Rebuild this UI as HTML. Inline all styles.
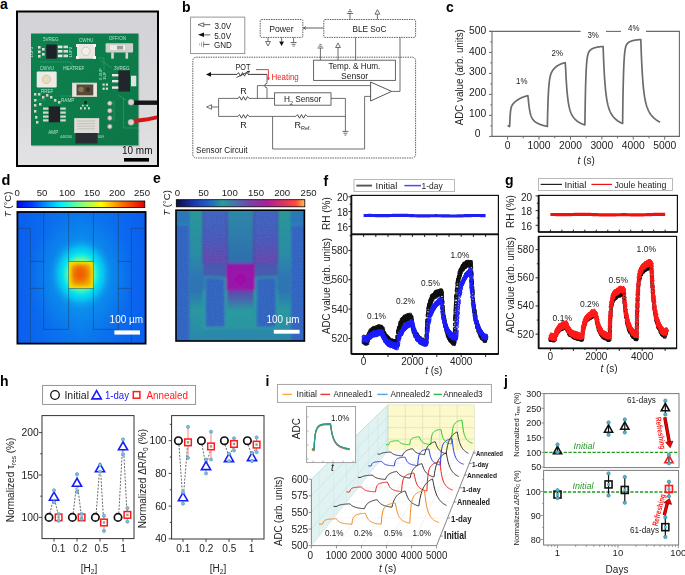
<!DOCTYPE html>
<html><head><meta charset="utf-8"><title>Figure</title>
<style>
html,body{margin:0;padding:0;background:#fff;width:685px;height:575px;overflow:hidden}
svg{display:block;font-family:"Liberation Sans", sans-serif;-webkit-font-smoothing:antialiased}
</style></head><body>
<svg width="685" height="575" viewBox="0 0 685 575">
<rect width="685" height="575" fill="#fff"/>
<text x="0" y="8.6" font-size="14" font-weight="bold">a</text>
<defs><linearGradient id="pbg" x1="0" y1="0" x2="0" y2="1"><stop offset="0" stop-color="#d2d2d7"/><stop offset="0.6" stop-color="#d9d9dc"/><stop offset="1" stop-color="#e3e3e5"/></linearGradient><linearGradient id="pcbg" x1="0" y1="0" x2="1" y2="1"><stop offset="0" stop-color="#108250"/><stop offset="1" stop-color="#0b7646"/></linearGradient></defs>
<rect x="17" y="11.5" width="141" height="154" fill="url(#pbg)" />
<defs><filter id="pblur"><feGaussianBlur stdDeviation="0.45"/></filter></defs><g filter="url(#pblur)">
<rect x="32" y="35" width="108" height="112" fill="#b9bcbc" opacity="0.5"/>
<rect x="31" y="33.5" width="107.5" height="112" fill="url(#pcbg)" />
<path d="M40 62 L70 62 L76 70" fill="none" stroke="#4cc08a" stroke-width="0.6" opacity="0.6"/>
<path d="M100 60 L112 68" fill="none" stroke="#4cc08a" stroke-width="0.6" opacity="0.6"/>
<path d="M60 96 L72 96" fill="none" stroke="#4cc08a" stroke-width="0.6" opacity="0.6"/>
<path d="M123.6 98 L123.6 128 L138 128" fill="none" stroke="#4cc08a" stroke-width="0.6" opacity="0.6"/>
<path d="M118 95 L126 100" fill="none" stroke="#4cc08a" stroke-width="0.6" opacity="0.6"/>
<path d="M36 100 L46 100" fill="none" stroke="#4cc08a" stroke-width="0.6" opacity="0.6"/>
<path d="M98 58 L104 58 L104 70" fill="none" stroke="#4cc08a" stroke-width="0.6" opacity="0.6"/>
<path d="M114 100 L114 121" fill="none" stroke="#4cc08a" stroke-width="0.6" opacity="0.6"/>
<line x1="134" y1="102.7" x2="158" y2="102.7" stroke="#151515" stroke-width="4.4" />
<path d="M134 121 L146 119.5 L158 117.2" fill="none" stroke="#d41818" stroke-width="3.8" />
<rect x="46.2" y="44.5" width="10.6" height="14.2" fill="#1f2226" />
<rect x="57.9" y="45.6" width="4.5" height="2.6" fill="#e6e6e2" />
<rect x="63.5" y="45.6" width="4.5" height="2.6" fill="#d8d8d0" />
<rect x="57.9" y="50" width="4.5" height="2.6" fill="#e6e6e2" />
<rect x="63.5" y="50" width="4.5" height="2.6" fill="#d8d8d0" />
<rect x="57.9" y="54.6" width="4.5" height="2.6" fill="#e6e6e2" />
<rect x="63.5" y="54.6" width="4.5" height="2.6" fill="#d8d8d0" />
<rect x="38" y="46" width="2.6" height="2.6" fill="#dcdcd4" />
<rect x="38" y="50.5" width="2.6" height="2.6" fill="#dcdcd4" />
<rect x="38" y="55" width="2.6" height="2.6" fill="#dcdcd4" />
<rect x="42" y="48" width="2.6" height="2.6" fill="#dcdcd4" />
<rect x="42" y="53" width="2.6" height="2.6" fill="#dcdcd4" />
<rect x="77" y="43.9" width="18" height="14.8" fill="#e8e7e2" rx="1.2"/>
<circle cx="85.8" cy="51.3" r="4.2" fill="#f2efe6" stroke="#c9c2b0" stroke-width="0.8" />
<rect x="76" y="44" width="3" height="3" fill="#f4f4f0" />
<rect x="93" y="44" width="3" height="3" fill="#f4f4f0" />
<rect x="76" y="56" width="3" height="3" fill="#f4f4f0" />
<rect x="93" y="56" width="3" height="3" fill="#f4f4f0" />
<rect x="105.6" y="43.3" width="27.5" height="9.1" fill="#cfcfcb" rx="1"/>
<rect x="110" y="45.2" width="15" height="4.8" fill="#ecece8" />
<rect x="117" y="45.8" width="6" height="3.6" fill="#9a9a96" />
<rect x="111.2" y="52.4" width="2.6" height="6.3" fill="#d6d6d2" />
<rect x="125.5" y="52.4" width="2.6" height="6.3" fill="#d6d6d2" />
<rect x="36.7" y="71.5" width="20" height="15.9" fill="#ecebe6" rx="1.2"/>
<circle cx="46.4" cy="79.4" r="4.2" fill="#e8dcc0" stroke="#cbbf9c" stroke-width="0.8" />
<rect x="72" y="82.7" width="25" height="14.2" fill="#d8d6d0" />
<rect x="75.5" y="84.5" width="18" height="10.8" fill="#5a4a38" />
<circle cx="81" cy="89.5" r="2.8" fill="#8a7456" />
<circle cx="88" cy="89.5" r="2.2" fill="#3a3028" />
<rect x="73.5" y="84" width="3" height="12" fill="#e8e8e4" />
<rect x="93.5" y="84" width="3" height="12" fill="#e8e8e4" />
<rect x="102.5" y="83.5" width="2.2" height="2.2" fill="#dcdcd4" />
<rect x="105.8" y="83.5" width="2.2" height="2.2" fill="#dcdcd4" />
<rect x="102.5" y="87.6" width="2.2" height="2.2" fill="#dcdcd4" />
<rect x="105.8" y="87.6" width="2.2" height="2.2" fill="#dcdcd4" />
<rect x="118.3" y="70.4" width="11.7" height="21.2" fill="#24272b" />
<rect x="131" y="75.7" width="5.3" height="10.6" fill="#e2e2de" />
<rect x="112" y="74" width="6.3" height="2.4" fill="#e6e6e2" />
<rect x="112" y="80" width="6.3" height="2.4" fill="#e6e6e2" />
<rect x="112" y="86.4" width="6.3" height="2.4" fill="#e6e6e2" />
<rect x="48.7" y="106.4" width="11.3" height="15.9" fill="#202326" />
<rect x="43" y="107.5" width="5.5" height="2.2" fill="#d6d6ce" />
<rect x="60.3" y="107.5" width="5.5" height="2.2" fill="#d6d6ce" />
<rect x="43" y="111.5" width="5.5" height="2.2" fill="#d6d6ce" />
<rect x="60.3" y="111.5" width="5.5" height="2.2" fill="#d6d6ce" />
<rect x="43" y="115.5" width="5.5" height="2.2" fill="#d6d6ce" />
<rect x="60.3" y="115.5" width="5.5" height="2.2" fill="#d6d6ce" />
<rect x="43" y="119.3" width="5.5" height="2.2" fill="#d6d6ce" />
<rect x="60.3" y="119.3" width="5.5" height="2.2" fill="#d6d6ce" />
<rect x="34" y="93" width="2.4" height="2.6" fill="#d4d4cc" />
<rect x="38" y="93" width="2.4" height="2.6" fill="#d4d4cc" />
<rect x="42" y="96" width="2.4" height="2.6" fill="#d4d4cc" />
<rect x="46" y="94" width="2.4" height="2.6" fill="#d4d4cc" />
<rect x="50" y="96" width="2.4" height="2.6" fill="#d4d4cc" />
<rect x="34" y="99" width="2.4" height="2.6" fill="#d4d4cc" />
<rect x="34" y="104" width="2.4" height="2.6" fill="#d4d4cc" />
<rect x="34" y="110" width="2.4" height="2.6" fill="#d4d4cc" />
<rect x="35" y="116" width="2.4" height="2.6" fill="#d4d4cc" />
<rect x="36" y="121" width="2.4" height="2.6" fill="#d4d4cc" />
<rect x="39" y="103" width="2.4" height="2.6" fill="#d4d4cc" />
<rect x="54" y="99" width="2.4" height="2.6" fill="#d4d4cc" />
<rect x="58" y="101" width="2.4" height="2.6" fill="#d4d4cc" />
<rect x="84.2" y="101" width="2.8" height="2.8" fill="#222" />
<rect x="80" y="107.2" width="1.8" height="2.2" fill="#dcdcd4" />
<rect x="84" y="107.2" width="1.8" height="2.2" fill="#dcdcd4" />
<rect x="88" y="107.2" width="1.8" height="2.2" fill="#dcdcd4" />
<rect x="82" y="104.8" width="1.6" height="1.6" fill="#dcdcd4" />
<rect x="86.5" y="104.8" width="1.6" height="1.6" fill="#dcdcd4" />
<rect x="74.2" y="118.1" width="25" height="15" fill="#dddcd6" />
<line x1="77" y1="121" x2="95" y2="121" stroke="#b0afa8" stroke-width="0.6" />
<line x1="77" y1="123.6" x2="95" y2="123.6" stroke="#b0afa8" stroke-width="0.6" />
<line x1="77" y1="126.2" x2="95" y2="126.2" stroke="#b0afa8" stroke-width="0.6" />
<line x1="77" y1="128.8" x2="95" y2="128.8" stroke="#b0afa8" stroke-width="0.6" />
<rect x="75.5" y="133" width="22" height="10.5" fill="#2a2d31" />
<circle cx="109.8" cy="103.3" r="2.3" fill="#d8d8d2" stroke="#8a8a84" stroke-width="0.7" />
<circle cx="109.8" cy="110.7" r="2.3" fill="#d8d8d2" stroke="#8a8a84" stroke-width="0.7" />
<circle cx="109.8" cy="118.1" r="2.3" fill="#d8d8d2" stroke="#8a8a84" stroke-width="0.7" />
<circle cx="109.8" cy="126.6" r="2.3" fill="#d8d8d2" stroke="#8a8a84" stroke-width="0.7" />
<circle cx="131" cy="102.2" r="3" fill="#d4d4d0" stroke="#9a9a96" stroke-width="0.6" />
<circle cx="131" cy="122.3" r="3" fill="#d4d4d0" stroke="#9a9a96" stroke-width="0.6" />
<text x="43" y="41.2" font-size="4.6" fill="#bfead6" opacity="0.9">5VREG</text>
<text x="79" y="42" font-size="4.6" fill="#bfead6" opacity="0.9">CWHU</text>
<text x="108.7" y="39.5" font-size="4.6" fill="#bfead6" opacity="0.9">OFF/ON</text>
<text x="39.8" y="70" font-size="4.6" fill="#bfead6" opacity="0.9">CWVU</text>
<text x="63.2" y="70" font-size="4.6" fill="#bfead6" opacity="0.9">HEATREF</text>
<text x="114" y="69.5" font-size="4.6" fill="#bfead6" opacity="0.9">3VREG</text>
<text x="40.9" y="93" font-size="4.6" fill="#bfead6" opacity="0.9">RREF</text>
<text x="61" y="101.5" font-size="4.6" fill="#bfead6" opacity="0.9">RAMP</text>
<text x="48.3" y="133.5" font-size="4.6" fill="#bfead6" opacity="0.9">AMP</text>
<text x="60" y="138" font-size="3.6" fill="#bfead6" opacity="0.9">446260</text>
<text x="98.1" y="138" font-size="3.6" fill="#bfead6" opacity="0.9">609</text>
<text font-size="4.4" fill="#bfead6" transform="translate(71.6 57.5) rotate(-90)">1UF2</text>
<text font-size="4.4" fill="#bfead6" transform="translate(33.4 57.5) rotate(-90)">1UF3</text>
<text font-size="4.4" fill="#bfead6" transform="translate(101.5 80) rotate(-90)">0.1UF</text>
<text font-size="4.4" fill="#bfead6" transform="translate(106 80) rotate(-90)">1UF</text>
</g>
<text x="122" y="153.5" font-size="10" fill="#111" textLength="30.5" lengthAdjust="spacingAndGlyphs">10 mm</text>
<rect x="124" y="158" width="25" height="3.6" fill="#000" />
<rect x="17" y="11.5" width="141" height="154.5" fill="none" stroke="#000" stroke-width="2" />
<text x="182" y="11.8" font-size="14" font-weight="bold">b</text>
<rect x="190.6" y="17.1" width="54.2" height="36.5" fill="none" stroke="#8a8a8a" stroke-width="0.9" />
<path d="M198 24.7 L203.8 22.8 L203.8 26.7 Z" fill="#fff" stroke="#4a4a4a" stroke-width="0.8" />
<line x1="203.8" y1="24.7" x2="210.3" y2="24.7" stroke="#4a4a4a" stroke-width="0.9" />
<path d="M198 34.8 L204 32.6 L204 37 Z" fill="#111" />
<line x1="204" y1="34.8" x2="210.3" y2="34.8" stroke="#999" stroke-width="1.6" />
<line x1="203.6" y1="41.4" x2="203.6" y2="47.4" stroke="#888" stroke-width="0.9" />
<line x1="201.6" y1="42.4" x2="201.6" y2="46.4" stroke="#999" stroke-width="0.9" />
<line x1="199.6" y1="43.4" x2="199.6" y2="45.4" stroke="#aaa" stroke-width="0.9" />
<line x1="203.6" y1="44.4" x2="209.5" y2="44.4" stroke="#4a4a4a" stroke-width="0.9" />
<text x="214.5" y="28.6" font-size="9" fill="#222" textLength="16.8" lengthAdjust="spacingAndGlyphs">3.0V</text>
<text x="214.3" y="38.7" font-size="9" fill="#222" textLength="16.8" lengthAdjust="spacingAndGlyphs">5.0V</text>
<text x="214" y="48.2" font-size="9" fill="#222" textLength="17.8" lengthAdjust="spacingAndGlyphs">GND</text>
<rect x="260.2" y="19.5" width="42.6" height="17.9" fill="none" stroke="#444" stroke-width="0.85" stroke-dasharray="1.5 0.9" rx="1.2"/>
<text x="281.5" y="32" font-size="9.6" text-anchor="middle" fill="#222" textLength="24.5" lengthAdjust="spacingAndGlyphs">Power</text>
<line x1="268" y1="37.4" x2="268" y2="41.5" stroke="#4a4a4a" stroke-width="0.8" />
<path d="M265.6 41.5 L270.4 41.5 L268 46 Z" fill="#fff" stroke="#4a4a4a" stroke-width="0.8" />
<line x1="281.6" y1="37.4" x2="281.6" y2="41.5" stroke="#4a4a4a" stroke-width="0.8" />
<path d="M279.2 41.5 L284 41.5 L281.6 46 Z" fill="#111" />
<line x1="293.6" y1="37.4" x2="293.6" y2="42.5" stroke="#4a4a4a" stroke-width="0.8" />
<line x1="290.6" y1="42.5" x2="296.6" y2="42.5" stroke="#4a4a4a" stroke-width="0.8" />
<line x1="291.6" y1="44.3" x2="295.6" y2="44.3" stroke="#4a4a4a" stroke-width="0.8" />
<line x1="292.6" y1="46.1" x2="294.6" y2="46.1" stroke="#4a4a4a" stroke-width="0.8" />
<line x1="303.5" y1="28" x2="323.6" y2="28" stroke="#4a4a4a" stroke-width="0.9" />
<path d="M303.2 28 L306 26.6 M303.2 28 L306 29.4" fill="none" stroke="#4a4a4a" stroke-width="0.8" />
<rect x="323.8" y="19.5" width="91.8" height="17.9" fill="none" stroke="#444" stroke-width="0.85" stroke-dasharray="1.5 0.9" rx="1.2"/>
<text x="369.4" y="32" font-size="9.6" text-anchor="middle" fill="#222" textLength="34" lengthAdjust="spacingAndGlyphs">BLE SoC</text>
<line x1="350" y1="13.5" x2="350" y2="19.5" stroke="#4a4a4a" stroke-width="0.8" />
<line x1="347" y1="13.5" x2="353" y2="13.5" stroke="#4a4a4a" stroke-width="0.8" />
<line x1="348" y1="11.7" x2="352" y2="11.7" stroke="#4a4a4a" stroke-width="0.8" />
<line x1="349" y1="9.9" x2="351" y2="9.9" stroke="#4a4a4a" stroke-width="0.8" />
<line x1="377.4" y1="14.2" x2="377.4" y2="19.5" stroke="#4a4a4a" stroke-width="0.8" />
<path d="M375 14.2 L379.8 14.2 L377.4 9.7 Z" fill="#fff" stroke="#4a4a4a" stroke-width="0.8" />
<rect x="313.6" y="60.2" width="81.8" height="20.2" fill="none" stroke="#555" stroke-width="0.9" />
<text x="354.4" y="68.6" font-size="9.6" text-anchor="middle" fill="#222" textLength="52" lengthAdjust="spacingAndGlyphs">Temp. &amp; Hum.</text>
<text x="354.6" y="79" font-size="9.6" text-anchor="middle" fill="#222" textLength="27" lengthAdjust="spacingAndGlyphs">Sensor</text>
<line x1="320.4" y1="48" x2="320.4" y2="60.2" stroke="#4a4a4a" stroke-width="0.8" />
<line x1="317.4" y1="48" x2="323.4" y2="48" stroke="#4a4a4a" stroke-width="0.8" />
<line x1="318.4" y1="46.2" x2="322.4" y2="46.2" stroke="#4a4a4a" stroke-width="0.8" />
<line x1="319.4" y1="44.4" x2="321.4" y2="44.4" stroke="#4a4a4a" stroke-width="0.8" />
<line x1="338" y1="47.5" x2="338" y2="60.2" stroke="#4a4a4a" stroke-width="0.8" />
<path d="M335.6 47.5 L340.4 47.5 L338 43 Z" fill="#fff" stroke="#4a4a4a" stroke-width="0.8" />
<line x1="355.6" y1="37.4" x2="355.6" y2="60.2" stroke="#4a4a4a" stroke-width="0.8" />
<line x1="400" y1="37.4" x2="400" y2="91.4" stroke="#4a4a4a" stroke-width="0.8" />
<line x1="391.6" y1="91.4" x2="400" y2="91.4" stroke="#4a4a4a" stroke-width="0.8" />
<rect x="192.8" y="57.2" width="222.8" height="100.8" fill="none" stroke="#444" stroke-width="0.85" stroke-dasharray="1.5 0.9" rx="3.5"/>
<text x="196" y="153.2" font-size="9.6" fill="#222" textLength="51.5" lengthAdjust="spacingAndGlyphs">Sensor Circuit</text>
<path d="M206 74.4 L211 72 L211 76.8 Z" fill="#111" />
<line x1="211" y1="74.4" x2="237" y2="74.4" stroke="#222" stroke-width="0.9" />
<path d="M237 74.4 L238.5 72.6 L240.5 76.2 L242.5 72.6 L244.5 76.2 L246.5 72.6 L248 74.4" fill="none" stroke="#222" stroke-width="0.8" />
<line x1="236.5" y1="77.5" x2="249.5" y2="71.2" stroke="#222" stroke-width="0.8" />
<path d="M249.5 71.2 L246.8 71.6 M249.5 71.2 L248.3 73.5" fill="none" stroke="#222" stroke-width="0.8" />
<line x1="248" y1="74.4" x2="267" y2="74.4" stroke="#222" stroke-width="0.9" />
<text x="243" y="69.6" font-size="9" text-anchor="middle" fill="#222" textLength="15" lengthAdjust="spacingAndGlyphs">POT</text>
<path d="M256 69.6 L268.4 69.6 L268.4 79.5" fill="none" stroke="#e82020" stroke-width="0.9" />
<path d="M267.2 77.5 L268.4 80 L269.6 77.5" fill="none" stroke="#e82020" stroke-width="0.7" />
<text x="271.4" y="79.6" font-size="9" fill="#ee1c1c" textLength="27.4" lengthAdjust="spacingAndGlyphs">Heating</text>
<path d="M267 74.4 L267 83.4 A2.2 2.2 0 0 0 267 87.8 L267 98.4" fill="none" stroke="#4a4a4a" stroke-width="0.8" />
<line x1="257.4" y1="85.6" x2="370.6" y2="85.6" stroke="#4a4a4a" stroke-width="0.8" />
<line x1="257.4" y1="85.6" x2="257.4" y2="98.4" stroke="#4a4a4a" stroke-width="0.8" />
<line x1="218.6" y1="98.4" x2="238" y2="98.4" stroke="#4a4a4a" stroke-width="0.8" />
<path d="M238 98.4 L239.5 96.6 L241.5 100.2 L243.5 96.6 L245.5 100.2 L247.5 96.6 L249 98.4" fill="none" stroke="#222" stroke-width="0.8" />
<line x1="249" y1="98.4" x2="274.4" y2="98.4" stroke="#4a4a4a" stroke-width="0.8" />
<text x="243.6" y="94.4" font-size="9" text-anchor="middle" fill="#222">R</text>
<rect x="274.6" y="92.8" width="56.4" height="12.4" fill="none" stroke="#555" stroke-width="0.9" />
<text x="284" y="102.3" font-size="9.6" fill="#222" textLength="37.3" lengthAdjust="spacingAndGlyphs">H<tspan font-size="6" dy="2.2">2</tspan><tspan dy="-2.2"> Sensor</tspan></text>
<line x1="331" y1="98.4" x2="345.4" y2="98.4" stroke="#4a4a4a" stroke-width="0.8" />
<line x1="345.4" y1="98.4" x2="345.4" y2="131.4" stroke="#4a4a4a" stroke-width="0.8" />
<line x1="342.4" y1="131.4" x2="348.4" y2="131.4" stroke="#4a4a4a" stroke-width="0.8" />
<line x1="343.4" y1="133.2" x2="347.4" y2="133.2" stroke="#4a4a4a" stroke-width="0.8" />
<line x1="344.4" y1="135" x2="346.4" y2="135" stroke="#4a4a4a" stroke-width="0.8" />
<line x1="218.6" y1="98.4" x2="218.6" y2="116.4" stroke="#4a4a4a" stroke-width="0.8" />
<path d="M206.6 107 L211.6 104.7 L211.6 109.3 Z" fill="#fff" stroke="#4a4a4a" stroke-width="0.8" />
<line x1="211.6" y1="107" x2="218.6" y2="107" stroke="#4a4a4a" stroke-width="0.8" />
<line x1="218.6" y1="116.4" x2="238" y2="116.4" stroke="#4a4a4a" stroke-width="0.8" />
<path d="M238 116.4 L239.5 114.6 L241.5 118.2 L243.5 114.6 L245.5 118.2 L247.5 114.6 L249 116.4" fill="none" stroke="#222" stroke-width="0.8" />
<line x1="249" y1="116.4" x2="296" y2="116.4" stroke="#4a4a4a" stroke-width="0.8" />
<path d="M296 116.4 L297.5 114.6 L299.5 118.2 L301.5 114.6 L303.5 118.2 L305.5 114.6 L307 116.4" fill="none" stroke="#222" stroke-width="0.8" />
<line x1="307" y1="116.4" x2="345.4" y2="116.4" stroke="#4a4a4a" stroke-width="0.8" />
<text x="243.6" y="128.2" font-size="9" text-anchor="middle" fill="#222">R</text>
<text x="294.5" y="128.2" font-size="9" fill="#222">R<tspan font-size="5.5" dy="1.8">Ref.</tspan></text>
<path d="M272.6 116.4 L272.6 149 L364.6 149 L364.6 96.4 L370.6 96.4" fill="none" stroke="#4a4a4a" stroke-width="0.8" />
<path d="M370.6 82 L370.6 101 L391.6 91.4 Z" fill="#fff" stroke="#444" stroke-width="0.9" />
<text x="446" y="12" font-size="14" font-weight="bold">c</text>
<line x1="492" y1="31.4" x2="492" y2="136.9" stroke="#6a6a6a" stroke-width="1.1" />
<line x1="491.5" y1="136.4" x2="679.9" y2="136.4" stroke="#6a6a6a" stroke-width="1.1" />
<line x1="679.4" y1="31.4" x2="679.4" y2="136.9" stroke="#6a6a6a" stroke-width="1.1" />
<line x1="489.5" y1="31.4" x2="580.6" y2="31.4" stroke="#6a6a6a" stroke-width="1.1" />
<line x1="606" y1="31.4" x2="621" y2="31.4" stroke="#6a6a6a" stroke-width="1.1" />
<line x1="646" y1="31.4" x2="679.9" y2="31.4" stroke="#6a6a6a" stroke-width="1.1" />
<line x1="489" y1="136.4" x2="492" y2="136.4" stroke="#6a6a6a" stroke-width="1" />
<text x="477.7" y="137.35" font-size="10.3" text-anchor="middle" fill="#222">0</text>
<line x1="490.3" y1="125.9" x2="492" y2="125.9" stroke="#6a6a6a" stroke-width="1" />
<line x1="489" y1="115.4" x2="492" y2="115.4" stroke="#6a6a6a" stroke-width="1" />
<text x="477.7" y="116.7" font-size="10.3" text-anchor="middle" fill="#222">100</text>
<line x1="490.3" y1="104.9" x2="492" y2="104.9" stroke="#6a6a6a" stroke-width="1" />
<line x1="489" y1="94.4" x2="492" y2="94.4" stroke="#6a6a6a" stroke-width="1" />
<text x="477.7" y="96.05" font-size="10.3" text-anchor="middle" fill="#222">200</text>
<line x1="490.3" y1="83.9" x2="492" y2="83.9" stroke="#6a6a6a" stroke-width="1" />
<line x1="489" y1="73.4" x2="492" y2="73.4" stroke="#6a6a6a" stroke-width="1" />
<text x="477.7" y="75.4" font-size="10.3" text-anchor="middle" fill="#222">300</text>
<line x1="490.3" y1="62.9" x2="492" y2="62.9" stroke="#6a6a6a" stroke-width="1" />
<line x1="489" y1="52.4" x2="492" y2="52.4" stroke="#6a6a6a" stroke-width="1" />
<text x="477.7" y="54.75" font-size="10.3" text-anchor="middle" fill="#222">400</text>
<line x1="490.3" y1="41.9" x2="492" y2="41.9" stroke="#6a6a6a" stroke-width="1" />
<line x1="489" y1="31.4" x2="492" y2="31.4" stroke="#6a6a6a" stroke-width="1" />
<text x="477.7" y="34.1" font-size="10.3" text-anchor="middle" fill="#222">500</text>
<line x1="507.6" y1="136.4" x2="507.6" y2="139.6" stroke="#6a6a6a" stroke-width="1" />
<text x="507.6" y="149.2" font-size="10.3" text-anchor="middle" fill="#222">0</text>
<line x1="523.31" y1="136.4" x2="523.31" y2="138.3" stroke="#6a6a6a" stroke-width="1" />
<line x1="539.02" y1="136.4" x2="539.02" y2="139.6" stroke="#6a6a6a" stroke-width="1" />
<text x="539.02" y="149.2" font-size="10.3" text-anchor="middle" fill="#222">1000</text>
<line x1="554.73" y1="136.4" x2="554.73" y2="138.3" stroke="#6a6a6a" stroke-width="1" />
<line x1="570.44" y1="136.4" x2="570.44" y2="139.6" stroke="#6a6a6a" stroke-width="1" />
<text x="570.44" y="149.2" font-size="10.3" text-anchor="middle" fill="#222">2000</text>
<line x1="586.15" y1="136.4" x2="586.15" y2="138.3" stroke="#6a6a6a" stroke-width="1" />
<line x1="601.86" y1="136.4" x2="601.86" y2="139.6" stroke="#6a6a6a" stroke-width="1" />
<text x="601.86" y="149.2" font-size="10.3" text-anchor="middle" fill="#222">3000</text>
<line x1="617.57" y1="136.4" x2="617.57" y2="138.3" stroke="#6a6a6a" stroke-width="1" />
<line x1="633.28" y1="136.4" x2="633.28" y2="139.6" stroke="#6a6a6a" stroke-width="1" />
<text x="633.28" y="149.2" font-size="10.3" text-anchor="middle" fill="#222">4000</text>
<line x1="648.99" y1="136.4" x2="648.99" y2="138.3" stroke="#6a6a6a" stroke-width="1" />
<line x1="664.7" y1="136.4" x2="664.7" y2="139.6" stroke="#6a6a6a" stroke-width="1" />
<text x="664.7" y="149.2" font-size="10.3" text-anchor="middle" fill="#222">5000</text>
<text x="0" y="0" font-size="10" text-anchor="middle" fill="#222" transform="translate(462.6 77.2) rotate(-90)" textLength="96" lengthAdjust="spacingAndGlyphs">ADC value (arb. units)</text>
<text x="577.6" y="164" font-size="10" fill="#222"><tspan font-style="italic">t</tspan> (s)</text>
<text x="516" y="84" font-size="9.5" fill="#222" textLength="11.4" lengthAdjust="spacingAndGlyphs">1%</text>
<text x="551.6" y="56" font-size="9.5" fill="#222" textLength="11.4" lengthAdjust="spacingAndGlyphs">2%</text>
<text x="587.4" y="38.2" font-size="9.5" fill="#222" textLength="11.4" lengthAdjust="spacingAndGlyphs">3%</text>
<text x="628" y="30.6" font-size="9.5" fill="#222" textLength="11.4" lengthAdjust="spacingAndGlyphs">4%</text>
<path d="M507.6 125.48 L508.54 125.9 L509.33 126.53 L509.64 126.32 L509.96 118.75 L510.27 113.98 L510.58 110.92 L510.9 108.9 L511.21 107.52 L511.53 106.53 L511.84 105.78 L512.16 105.18 L512.47 104.68 L512.78 104.25 L513.1 103.85 L513.41 103.49 L513.73 103.15 L514.04 102.82 L514.36 102.51 L514.67 102.22 L514.98 101.93 L515.3 101.65 L515.61 101.39 L515.93 101.13 L516.24 100.88 L516.55 100.64 L516.87 100.41 L517.18 100.19 L517.5 99.97 L517.81 99.76 L518.13 99.56 L518.44 99.36 L518.75 99.17 L519.07 98.99 L519.38 98.81 L519.7 98.64 L520.01 98.47 L520.33 98.31 L520.64 98.15 L520.95 98 L521.27 97.86 L521.58 97.72 L521.9 97.58 L522.21 97.45 L522.52 97.32 L522.84 97.2 L523.15 97.08 L523.47 96.96 L523.78 96.85 L524.1 96.74 L524.41 96.64 L524.72 96.54 L525.04 96.44 L525.35 96.35 L525.67 96.26 L525.98 96.17 L526.29 96.08 L526.61 96 L526.92 95.92 L527.24 95.84 L527.55 95.77 L527.87 95.7 L528.34 99.6 L528.65 102.9 L528.97 105.65 L529.28 107.97 L529.59 109.92 L529.91 111.58 L530.22 112.99 L530.54 114.19 L530.85 115.23 L531.16 116.12 L531.48 116.9 L531.79 117.59 L532.11 118.19 L532.42 118.73 L532.74 119.21 L533.05 119.64 L533.36 120.03 L533.68 120.39 L533.99 120.72 L534.31 121.02 L534.62 121.31 L534.94 121.57 L535.25 121.82 L535.56 122.05 L535.88 122.27 L536.19 122.48 L536.51 122.67 L536.82 122.86 L537.13 123.04 L537.45 123.22 L537.76 123.38 L538.08 123.54 L538.39 123.69 L538.71 123.84 L539.02 123.98 L539.33 124.11 L539.65 124.24 L539.96 124.37 L540.28 124.49 L540.59 124.61 L540.91 124.72 L541.22 124.83 L541.53 124.93 L541.85 125.04 L542.16 125.13 L542.48 125.23 L542.79 125.32 L543.1 125.41 L543.42 125.5 L543.73 125.58 L544.05 125.66 L544.36 125.74 L544.68 125.81 L544.99 125.89 L545.3 125.96 L545.62 126.02 L545.93 126.09 L546.25 126.15 L546.56 126.21 L546.88 126.27 L547.35 126.53 L547.66 112.71 L547.97 102.6 L548.29 95.15 L548.6 89.63 L548.92 85.49 L549.23 82.35 L549.55 79.93 L549.86 78.04 L550.17 76.54 L550.49 75.31 L550.8 74.3 L551.12 73.44 L551.43 72.7 L551.75 72.05 L552.06 71.47 L552.37 70.94 L552.69 70.46 L553 70.01 L553.32 69.59 L553.63 69.2 L553.94 68.84 L554.26 68.49 L554.57 68.16 L554.89 67.85 L555.2 67.55 L555.52 67.27 L555.83 67 L556.14 66.74 L556.46 66.5 L556.77 66.27 L557.09 66.04 L557.4 65.83 L557.71 65.63 L558.03 65.43 L558.34 65.25 L558.66 65.07 L558.97 64.9 L559.29 64.74 L559.6 64.58 L559.91 64.43 L560.23 64.29 L560.54 64.16 L560.86 64.03 L561.17 63.91 L561.49 63.79 L561.8 63.68 L562.11 63.57 L562.43 63.46 L562.74 63.37 L563.06 63.27 L563.37 63.18 L563.68 63.1 L564 63.02 L564.31 62.94 L564.63 62.86 L564.94 62.79 L565.26 62.72 L565.73 70.25 L566.04 76.67 L566.36 82.13 L566.67 86.79 L566.98 90.77 L567.3 94.2 L567.61 97.14 L567.93 99.69 L568.24 101.91 L568.55 103.84 L568.87 105.53 L569.18 107.02 L569.5 108.34 L569.81 109.52 L570.13 110.57 L570.44 111.51 L570.75 112.36 L571.07 113.14 L571.38 113.85 L571.7 114.5 L572.01 115.1 L572.33 115.66 L572.64 116.17 L572.95 116.66 L573.27 117.11 L573.58 117.54 L573.9 117.94 L574.21 118.32 L574.52 118.68 L574.84 119.02 L575.15 119.34 L575.47 119.65 L575.78 119.95 L576.1 120.23 L576.41 120.5 L576.72 120.76 L577.04 121.01 L577.35 121.25 L577.67 121.48 L577.98 121.7 L578.3 121.91 L578.61 122.12 L578.92 122.31 L579.24 122.5 L579.55 122.69 L579.87 122.86 L580.18 123.03 L580.49 123.19 L580.81 123.35 L581.12 123.5 L581.44 123.65 L581.75 123.79 L582.07 123.92 L582.38 124.05 L582.69 124.18 L583.01 124.3 L583.32 124.42 L583.64 124.53 L583.95 124.64 L584.26 124.75 L584.58 124.85 L584.89 124.85 L585.21 103.88 L585.52 89.04 L585.84 78.51 L586.15 71 L586.46 65.62 L586.78 61.72 L587.09 58.88 L587.41 56.79 L587.72 55.22 L588.04 54.02 L588.35 53.09 L588.66 52.36 L588.98 51.76 L589.29 51.27 L589.61 50.86 L589.92 50.5 L590.23 50.19 L590.55 49.91 L590.86 49.66 L591.18 49.43 L591.49 49.23 L591.81 49.04 L592.12 48.86 L592.43 48.7 L592.75 48.54 L593.06 48.4 L593.38 48.27 L593.69 48.14 L594 48.03 L594.32 47.92 L594.63 47.81 L594.95 47.72 L595.26 47.63 L595.58 47.54 L595.89 47.46 L596.2 47.39 L596.52 47.32 L596.83 47.25 L597.15 47.19 L597.46 47.13 L597.78 47.08 L598.09 47.02 L598.4 46.98 L598.72 46.93 L599.03 46.89 L599.35 46.85 L599.66 46.81 L599.97 46.77 L600.29 46.74 L600.6 46.71 L600.92 46.68 L601.23 46.65 L601.55 46.63 L601.86 46.6 L602.17 46.58 L602.49 46.56 L602.8 46.54 L603.12 46.52 L603.43 55.23 L603.75 62.72 L604.06 69.18 L604.37 74.76 L604.69 79.59 L605 83.79 L605.32 87.45 L605.63 90.64 L605.94 93.45 L606.26 95.91 L606.57 98.09 L606.89 100.02 L607.2 101.73 L607.52 103.27 L607.83 104.65 L608.14 105.89 L608.46 107.02 L608.77 108.04 L609.09 108.98 L609.4 109.84 L609.72 110.63 L610.03 111.36 L610.34 112.04 L610.66 112.68 L610.97 113.27 L611.29 113.83 L611.6 114.35 L611.91 114.85 L612.23 115.32 L612.54 115.76 L612.86 116.18 L613.17 116.59 L613.49 116.97 L613.8 117.34 L614.11 117.69 L614.43 118.02 L614.74 118.35 L615.06 118.66 L615.37 118.95 L615.68 119.24 L616 119.51 L616.31 119.78 L616.63 120.04 L616.94 120.28 L617.26 120.52 L617.57 120.75 L617.88 120.97 L618.2 121.18 L618.51 121.39 L618.83 121.59 L619.14 121.78 L619.46 121.97 L619.77 122.15 L620.08 122.32 L620.4 122.49 L620.71 122.65 L621.03 122.8 L621.34 122.96 L621.65 123.1 L621.97 123.24 L622.28 123.38 L622.6 123.38 L622.91 100.55 L623.23 84.44 L623.54 73.02 L623.85 64.9 L624.17 59.1 L624.48 54.93 L624.8 51.91 L625.11 49.69 L625.42 48.04 L625.74 46.8 L626.05 45.85 L626.37 45.1 L626.68 44.51 L627 44.02 L627.31 43.62 L627.62 43.28 L627.94 42.98 L628.25 42.72 L628.57 42.48 L628.88 42.27 L629.2 42.08 L629.51 41.9 L629.82 41.74 L630.14 41.59 L630.45 41.45 L630.77 41.31 L631.08 41.19 L631.39 41.08 L631.71 40.97 L632.02 40.87 L632.34 40.78 L632.65 40.69 L632.97 40.6 L633.28 40.53 L633.59 40.45 L633.91 40.38 L634.22 40.32 L634.54 40.26 L634.85 40.2 L635.17 40.15 L635.48 40.1 L635.79 40.05 L636.11 40.01 L636.42 39.97 L636.74 39.93 L637.05 39.89 L637.36 39.86 L637.68 39.82 L637.99 39.79 L638.31 39.76 L638.62 39.74 L638.94 39.71 L639.25 39.69 L639.56 39.67 L639.88 39.65 L640.19 39.63 L640.51 39.61 L640.82 39.59 L641.13 48.94 L641.45 56.98 L641.76 63.9 L642.08 69.88 L642.39 75.06 L642.71 79.55 L643.02 83.47 L643.33 86.88 L643.65 89.87 L643.96 92.5 L644.28 94.82 L644.59 96.88 L644.91 98.71 L645.22 100.34 L645.53 101.81 L645.85 103.13 L646.16 104.33 L646.48 105.42 L646.79 106.42 L647.1 107.34 L647.42 108.18 L647.73 108.96 L648.05 109.69 L648.36 110.37 L648.68 111 L648.99 111.6 L649.3 112.16 L649.62 112.7 L649.93 113.2 L650.25 113.68 L650.56 114.14 L650.88 114.57 L651.19 114.99 L651.5 115.39 L651.82 115.77 L652.13 116.14 L652.45 116.49 L652.76 116.83 L653.07 117.16 L653.39 117.47 L653.7 117.77 L654.02 118.07 L654.33 118.35 L654.65 118.62 L654.96 118.89 L655.27 119.14 L655.59 119.39 L655.9 119.63 L656.22 119.86 L656.53 120.08 L656.85 120.3 L657.16 120.51 L657.47 120.71 L657.79 120.91 L658.1 121.1 L658.42 121.28 L658.73 121.46 L659.04 121.63 L659.36 121.8 L659.67 121.96 L659.99 122.12" fill="none" stroke="#6b6b6b" stroke-width="1.7" stroke-linejoin="round"/>
<text x="1.4" y="184.6" font-size="14.5" font-weight="bold">d</text>
<defs>
<linearGradient id="jet" x1="0" x2="1" y1="0" y2="0">
<stop offset="0" stop-color="#0008e0"/><stop offset="0.12" stop-color="#0040ff"/><stop offset="0.34" stop-color="#00eeff"/>
<stop offset="0.5" stop-color="#80ff80"/><stop offset="0.66" stop-color="#ffff00"/><stop offset="0.82" stop-color="#ff7000"/><stop offset="1" stop-color="#e00000"/></linearGradient>
<linearGradient id="dbg" x1="0" x2="1" y1="0" y2="0">
<stop offset="0" stop-color="#0a5ef0"/><stop offset="0.3" stop-color="#0a7cec"/><stop offset="0.5" stop-color="#0a8cea"/><stop offset="0.7" stop-color="#0a7cec"/><stop offset="1" stop-color="#0a5ef0"/></linearGradient>
<linearGradient id="dbgv" x1="0" x2="0" y1="0" y2="1">
<stop offset="0" stop-color="#0a5ef0" stop-opacity="0.45"/><stop offset="0.5" stop-color="#0a5ef0" stop-opacity="0"/><stop offset="1" stop-color="#0a5ef0" stop-opacity="0.45"/></linearGradient>
<radialGradient id="dglow" cx="0.5" cy="0.5" r="0.5">
<stop offset="0" stop-color="#a0ff60"/><stop offset="0.4" stop-color="#70fa90"/><stop offset="0.47" stop-color="#40f2c0"/><stop offset="0.58" stop-color="#04e2ee"/><stop offset="0.74" stop-color="#08c2f0" stop-opacity="0.9"/><stop offset="0.88" stop-color="#0aa4ec" stop-opacity="0.5"/><stop offset="1" stop-color="#0a98ea" stop-opacity="0"/></radialGradient>
<radialGradient id="dglow2" cx="0.5" cy="0.5" r="0.5"><stop offset="0" stop-color="#10b0f0" stop-opacity="0.9"/><stop offset="0.5" stop-color="#0c9cee" stop-opacity="0.55"/><stop offset="1" stop-color="#0a8cec" stop-opacity="0"/></radialGradient>
<radialGradient id="dhot" cx="0.45" cy="0.45" r="0.55">
<stop offset="0" stop-color="#f05400"/><stop offset="0.5" stop-color="#f06c00"/><stop offset="0.8" stop-color="#f09000"/><stop offset="1" stop-color="#f0a800"/></radialGradient>
<filter id="dhb" x="-20%" y="-20%" width="140%" height="140%"><feGaussianBlur stdDeviation="1.6"/></filter>
</defs>
<rect x="17" y="201" width="127.8" height="6.6" fill="url(#jet)" stroke="#000" stroke-width="0.8" />
<text x="17.1" y="196" font-size="9.6" text-anchor="middle" fill="#222">0</text>
<text x="42" y="196" font-size="9.6" text-anchor="middle" fill="#222">50</text>
<text x="67.1" y="196" font-size="9.6" text-anchor="middle" fill="#222">100</text>
<text x="92" y="196" font-size="9.6" text-anchor="middle" fill="#222">150</text>
<text x="117.1" y="196" font-size="9.6" text-anchor="middle" fill="#222">200</text>
<text x="142" y="196" font-size="9.6" text-anchor="middle" fill="#222">250</text>
<text font-size="9.6" fill="#222" transform="translate(11.2 204.4) rotate(-90)" text-anchor="middle"><tspan font-style="italic">T</tspan> (°C)</text>
<rect x="17.4" y="212" width="128.2" height="131.6" fill="url(#dbg)" />
<rect x="17.4" y="212" width="128.2" height="131.6" fill="url(#dbgv)" />
<ellipse cx="81" cy="276" rx="52" ry="62" fill="url(#dglow2)"/><ellipse cx="81" cy="274" rx="31" ry="36" fill="url(#dglow)"/>
<rect x="68.6" y="261.5" width="25" height="27" fill="#f0e000" />
<rect x="71.2" y="264" width="19.8" height="22" fill="url(#dhot)" rx="4" filter="url(#dhb)"/>
<path d="M30.4 228.4 V343.6" fill="none" stroke="#1b3f66" stroke-width="0.6" opacity="0.85"/>
<path d="M43.6 212 V329.4 H68.6 V212" fill="none" stroke="#1b3f66" stroke-width="0.6" opacity="0.85"/>
<path d="M93.4 212 V329.4 H118.4 V212" fill="none" stroke="#1b3f66" stroke-width="0.6" opacity="0.85"/>
<path d="M131.4 228.4 V343.6" fill="none" stroke="#1b3f66" stroke-width="0.6" opacity="0.85"/>
<path d="M17.4 228.4 H30.4" fill="none" stroke="#1b3f66" stroke-width="0.6" opacity="0.85"/>
<path d="M131.4 228.4 H145.6" fill="none" stroke="#1b3f66" stroke-width="0.6" opacity="0.85"/>
<path d="M30.4 261.4 H43.6" fill="none" stroke="#1b3f66" stroke-width="0.6" opacity="0.85"/>
<path d="M118.4 261.4 H131.4" fill="none" stroke="#1b3f66" stroke-width="0.6" opacity="0.85"/>
<path d="M30.4 288.4 H43.6" fill="none" stroke="#1b3f66" stroke-width="0.6" opacity="0.85"/>
<path d="M118.4 288.4 H131.4" fill="none" stroke="#1b3f66" stroke-width="0.6" opacity="0.85"/>
<path d="M68.6 261.5 H93.4 M68.6 288.5 H93.4" fill="none" stroke="#1b3f66" stroke-width="0.6" opacity="0.85"/>
<text x="109.6" y="323" font-size="10" fill="#fff" textLength="33.4" lengthAdjust="spacingAndGlyphs">100 µm</text>
<rect x="114.4" y="330.4" width="25.6" height="4.2" fill="#fff" />
<rect x="17.4" y="212" width="128.2" height="131.6" fill="none" stroke="#000" stroke-width="1.8" />
<text x="153" y="183" font-size="14" font-weight="bold">e</text>
<defs>
<linearGradient id="ecm" x1="0" x2="1" y1="0" y2="0">
<stop offset="0" stop-color="#0c0c44"/><stop offset="0.14" stop-color="#1a3ab0"/><stop offset="0.25" stop-color="#2060c8"/><stop offset="0.36" stop-color="#2a9a98"/>
<stop offset="0.46" stop-color="#4a70b0"/><stop offset="0.58" stop-color="#7a40a8"/><stop offset="0.7" stop-color="#a8209a"/><stop offset="0.82" stop-color="#d8306a"/>
<stop offset="0.93" stop-color="#ff4a3a"/><stop offset="1" stop-color="#ffc050"/></linearGradient>
<linearGradient id="eteal" x1="0" x2="0" y1="0" y2="1"><stop offset="0" stop-color="#2a9496"/><stop offset="0.4" stop-color="#2c84a4"/><stop offset="0.75" stop-color="#2a8ea0"/><stop offset="1" stop-color="#2a78b0"/></linearGradient>
<linearGradient id="eteal2" x1="0" x2="0" y1="0" y2="1"><stop offset="0" stop-color="#2c8ea2"/><stop offset="0.6" stop-color="#2a9c98"/><stop offset="1" stop-color="#2a78b0"/></linearGradient>
<linearGradient id="ecen" x1="0" x2="0" y1="0" y2="1"><stop offset="0" stop-color="#2c80a6"/><stop offset="1" stop-color="#3a64aa"/></linearGradient>
<linearGradient id="epur" x1="0" x2="0" y1="0" y2="1"><stop offset="0" stop-color="#3868bc"/><stop offset="0.55" stop-color="#4460b6"/><stop offset="0.85" stop-color="#5a4eae"/><stop offset="1" stop-color="#6a42a8"/></linearGradient>
<radialGradient id="emag" cx="0.5" cy="0.55" r="0.7"><stop offset="0" stop-color="#9c08a6"/><stop offset="0.7" stop-color="#9410a6"/><stop offset="1" stop-color="#7a2aa6"/></radialGradient>
<filter id="spk" x="0" y="0" width="1" height="1"><feTurbulence type="fractalNoise" baseFrequency="0.9" numOctaves="1" seed="3"/><feColorMatrix values="0 0 0 0 0.3  0 0 0 0 0.35  0 0 0 0 0.75  0 0 0 1.2 -0.45"/><feComposite in2="SourceGraphic" operator="in"/></filter>
</defs>
<rect x="176.3" y="199.7" width="128.5" height="7.1" fill="url(#ecm)" stroke="#000" stroke-width="0.8" />
<text x="177.5" y="195.6" font-size="9.6" text-anchor="middle" fill="#222">0</text>
<text x="203.6" y="195.6" font-size="9.6" text-anchor="middle" fill="#222">50</text>
<text x="229.8" y="195.6" font-size="9.6" text-anchor="middle" fill="#222">100</text>
<text x="256" y="195.6" font-size="9.6" text-anchor="middle" fill="#222">150</text>
<text x="282.2" y="195.6" font-size="9.6" text-anchor="middle" fill="#222">200</text>
<text x="308.6" y="195.6" font-size="9.6" text-anchor="middle" fill="#222">250</text>
<text font-size="9.6" fill="#222" transform="translate(170.2 203) rotate(-90)" text-anchor="middle"><tspan font-style="italic">T</tspan> (°C)</text>
<defs><clipPath id="eclip"><rect x="176" y="210.2" width="128.4" height="130.8"/></clipPath><filter id="eblur" x="-5%" y="-5%" width="110%" height="110%"><feGaussianBlur stdDeviation="1.0"/></filter></defs>
<g clip-path="url(#eclip)"><g filter="url(#eblur)">
<defs>
<linearGradient id="egap" x1="0" x2="0" y1="0" y2="1"><stop offset="0" stop-color="#2a9898"/><stop offset="0.35" stop-color="#2c8ca6"/><stop offset="0.5" stop-color="#2e76b4"/><stop offset="0.62" stop-color="#2e76b2"/><stop offset="0.75" stop-color="#2a98a0"/><stop offset="1" stop-color="#2a86aa"/></linearGradient>
<linearGradient id="es2" x1="0" x2="0" y1="0" y2="1"><stop offset="0" stop-color="#3a64c0"/><stop offset="0.55" stop-color="#4658b8"/><stop offset="1" stop-color="#6644ac"/></linearGradient>
<linearGradient id="ectop" x1="0" x2="0" y1="0" y2="1"><stop offset="0" stop-color="#2c8aa8"/><stop offset="1" stop-color="#306eae"/></linearGradient>
<linearGradient id="eband" x1="0" x2="0" y1="0" y2="1"><stop offset="0" stop-color="#4c56b0"/><stop offset="1" stop-color="#3a68b0"/></linearGradient>
<linearGradient id="ebel" x1="0" x2="0" y1="0" y2="1"><stop offset="0" stop-color="#6a40aa"/><stop offset="0.15" stop-color="#4a62b0"/><stop offset="0.38" stop-color="#2a9aa0"/><stop offset="1" stop-color="#2a92a2"/></linearGradient>
<radialGradient id="emag2" cx="0.5" cy="0.6" r="0.75"><stop offset="0" stop-color="#9e10a8"/><stop offset="1" stop-color="#9216a8"/></radialGradient>
</defs>
<rect x="173" y="207.2" width="134.4" height="136.8" fill="#2c70b4" />
<rect x="173" y="207" width="17" height="17.5" fill="#2a78b8" />
<rect x="173" y="224.5" width="17" height="120" fill="#2e64c0" />
<rect x="290.4" y="207" width="17" height="17.5" fill="#2a78b8" />
<rect x="290.4" y="224.5" width="17" height="120" fill="#2e64c0" />
<path d="M176 224.5 H190 V341" fill="none" stroke="#2a92a6" stroke-width="1.1" />
<path d="M304.4 224.5 H290.4 V341" fill="none" stroke="#2a92a6" stroke-width="1.1" />
<rect x="190" y="207" width="13" height="137" fill="url(#egap)" />
<rect x="277.6" y="207" width="12.8" height="137" fill="url(#egap)" />
<rect x="203" y="207" width="24" height="56.2" fill="url(#es2)" />
<rect x="253.8" y="207" width="24" height="56.2" fill="url(#es2)" />
<rect x="227" y="207" width="26.8" height="56.2" fill="url(#ectop)" />
<rect x="203" y="263.2" width="24" height="27" fill="url(#eband)" />
<rect x="253.8" y="263.2" width="24" height="27" fill="url(#eband)" />
<rect x="227" y="290.2" width="26.8" height="54" fill="url(#ebel)" />
<rect x="203" y="290.2" width="24" height="54" fill="#2a9c9a" />
<rect x="253.8" y="290.2" width="24" height="54" fill="#2a9c9a" />
<path d="M204.8 277 L225.2 278 L225.6 327.6 L204.8 327.6 Z" fill="#2f64be" stroke="#2aa6a0" stroke-width="1.4" stroke-opacity="0.8"/>
<path d="M276.6 277 L256.2 278 L255.8 327.6 L276.6 327.6 Z" fill="#2f64be" stroke="#2aa6a0" stroke-width="1.4" stroke-opacity="0.8"/>
<rect x="203" y="329" width="75" height="12" fill="#2a84ac" opacity="0.8"/>
<rect x="226.4" y="263.4" width="28.5" height="26.8" fill="url(#emag2)" />
<line x1="203" y1="207" x2="203" y2="263.2" stroke="#4a30a4" stroke-width="1.1" opacity="0.85"/>
<line x1="227" y1="207" x2="227" y2="263.2" stroke="#4a30a4" stroke-width="1.1" opacity="0.85"/>
<line x1="253.8" y1="207" x2="253.8" y2="263.2" stroke="#4a30a4" stroke-width="1.1" opacity="0.85"/>
<line x1="277.6" y1="207" x2="277.6" y2="263.2" stroke="#4a30a4" stroke-width="1.1" opacity="0.85"/>
</g>
<rect x="176" y="224.5" width="14" height="117" fill="#fff" filter="url(#spk)" opacity="0.35"/>
<rect x="203" y="207" width="24" height="56" fill="#fff" filter="url(#spk)" opacity="0.35"/>
<rect x="253.8" y="207" width="24" height="56" fill="#fff" filter="url(#spk)" opacity="0.35"/>
<rect x="290.4" y="224.5" width="14" height="117" fill="#fff" filter="url(#spk)" opacity="0.35"/>
<rect x="206" y="279" width="19" height="48" fill="#fff" filter="url(#spk)" opacity="0.35"/>
<rect x="257" y="279" width="19" height="48" fill="#fff" filter="url(#spk)" opacity="0.35"/>
</g>
<text x="266.5" y="322.8" font-size="10" fill="#fff" textLength="33" lengthAdjust="spacingAndGlyphs">100 µm</text>
<rect x="273.8" y="329.8" width="25.8" height="3.9" fill="#fff" />
<rect x="176" y="210.2" width="128.4" height="130.8" fill="none" stroke="#000" stroke-width="1.6" />
<text x="323.6" y="186" font-size="14" font-weight="bold">f</text>
<rect x="354" y="179.6" width="100.4" height="12" fill="#fff" stroke="#a8a8a8" stroke-width="0.8" />
<line x1="356.4" y1="185.6" x2="372" y2="185.6" stroke="#555" stroke-width="1.9" />
<text x="375.6" y="189.2" font-size="9.5" fill="#222" textLength="21.8" lengthAdjust="spacingAndGlyphs">Initial</text>
<line x1="404.4" y1="185.6" x2="421" y2="185.6" stroke="#4a4aff" stroke-width="1.5" />
<text x="421.6" y="189.2" font-size="9.5" fill="#222" textLength="21" lengthAdjust="spacingAndGlyphs">1-day</text>
<path d="M363.6 215.55 L364.82 215.52 L366.04 215.49 L367.26 215.48 L368.48 215.47 L369.7 215.46 L370.92 215.47 L372.14 215.48 L373.36 215.49 L374.58 215.51 L375.8 215.53 L377.02 215.55 L378.24 215.57 L379.46 215.59 L380.68 215.6 L381.9 215.61 L383.12 215.61 L384.34 215.61 L385.56 215.6 L386.78 215.59 L388 215.57 L389.22 215.55 L390.44 215.52 L391.66 215.49 L392.88 215.46 L394.1 215.43 L395.32 215.4 L396.54 215.38 L397.76 215.36 L398.98 215.35 L400.2 215.34 L401.42 215.35 L402.64 215.36 L403.86 215.37 L405.08 215.4 L406.3 215.43 L407.52 215.47 L408.74 215.51 L409.96 215.55 L411.18 215.6 L412.4 215.65 L413.62 215.69 L414.84 215.73 L416.06 215.77 L417.28 215.8 L418.5 215.83 L419.72 215.85 L420.94 215.86 L422.16 215.87 L423.38 215.87 L424.6 215.86 L425.82 215.84 L427.04 215.83 L428.26 215.81 L429.48 215.79 L430.7 215.77 L431.92 215.75 L433.14 215.74 L434.36 215.73 L435.58 215.72 L436.8 215.72 L438.02 215.73 L439.24 215.74 L440.46 215.76 L441.68 215.78 L442.9 215.81 L444.12 215.84 L445.34 215.87 L446.56 215.9 L447.78 215.93 L449 215.96 L450.22 215.98 L451.44 215.99 L452.66 216 L453.88 216 L455.1 216 L456.32 215.98 L457.54 215.96 L458.76 215.93 L459.98 215.9 L461.2 215.86 L462.42 215.81 L463.64 215.77 L464.86 215.72 L466.08 215.67 L467.3 215.63 L468.52 215.59 L469.74 215.56 L470.96 215.53 L472.18 215.51 L473.4 215.49 L474.62 215.48 L475.84 215.48 L477.06 215.49 L478.28 215.5 L479.5 215.51 L480.72 215.53 L481.94 215.55 L483.16 215.57 L484.38 215.59 L485.6 215.6" fill="none" stroke="#2020f0" stroke-width="3.2" />
<rect x="351.4" y="195.4" width="147" height="39" fill="none" stroke="#111" stroke-width="1.2" />
<rect x="351.4" y="234.4" width="147" height="119.6" fill="none" stroke="#111" stroke-width="1.2" />
<line x1="351.4" y1="195.4" x2="351.4" y2="354" stroke="#111" stroke-width="1.8" />
<line x1="351.4" y1="234.4" x2="498.4" y2="234.4" stroke="#111" stroke-width="1.8" />
<line x1="351.4" y1="354" x2="498.4" y2="354" stroke="#111" stroke-width="1.8" />
<line x1="348.4" y1="196.8" x2="351.4" y2="196.8" stroke="#111" stroke-width="0.9" />
<text x="348.2" y="201.4" font-size="10" text-anchor="end" fill="#222">20</text>
<line x1="349.6" y1="204.2" x2="351.4" y2="204.2" stroke="#111" stroke-width="0.9" />
<line x1="348.4" y1="211.6" x2="351.4" y2="211.6" stroke="#111" stroke-width="0.9" />
<text x="348.2" y="216.2" font-size="10" text-anchor="end" fill="#222">18</text>
<line x1="349.6" y1="219" x2="351.4" y2="219" stroke="#111" stroke-width="0.9" />
<line x1="348.4" y1="226.4" x2="351.4" y2="226.4" stroke="#111" stroke-width="0.9" />
<text x="348.2" y="231" font-size="10" text-anchor="end" fill="#222">16</text>
<line x1="348.4" y1="338.48" x2="351.4" y2="338.48" stroke="#111" stroke-width="0.9" />
<text x="348.2" y="341.98" font-size="10" text-anchor="end" fill="#222">520</text>
<line x1="349.6" y1="323.8" x2="351.4" y2="323.8" stroke="#111" stroke-width="0.9" />
<line x1="348.4" y1="309.12" x2="351.4" y2="309.12" stroke="#111" stroke-width="0.9" />
<text x="348.2" y="312.62" font-size="10" text-anchor="end" fill="#222">540</text>
<line x1="349.6" y1="294.44" x2="351.4" y2="294.44" stroke="#111" stroke-width="0.9" />
<line x1="348.4" y1="279.76" x2="351.4" y2="279.76" stroke="#111" stroke-width="0.9" />
<text x="348.2" y="283.26" font-size="10" text-anchor="end" fill="#222">560</text>
<line x1="349.6" y1="265.08" x2="351.4" y2="265.08" stroke="#111" stroke-width="0.9" />
<line x1="348.4" y1="250.4" x2="351.4" y2="250.4" stroke="#111" stroke-width="0.9" />
<text x="348.2" y="253.9" font-size="10" text-anchor="end" fill="#222">580</text>
<line x1="349.6" y1="235.72" x2="351.4" y2="235.72" stroke="#111" stroke-width="0.9" />
<line x1="363.6" y1="234.4" x2="363.6" y2="237" stroke="#111" stroke-width="0.9" />
<line x1="363.6" y1="354" x2="363.6" y2="357" stroke="#111" stroke-width="0.9" />
<text x="363.6" y="365.4" font-size="10" text-anchor="middle" fill="#222">0</text>
<line x1="375.8" y1="234.4" x2="375.8" y2="237" stroke="#111" stroke-width="0.9" />
<line x1="388" y1="234.4" x2="388" y2="237" stroke="#111" stroke-width="0.9" />
<line x1="388" y1="354" x2="388" y2="357" stroke="#111" stroke-width="0.9" />
<line x1="400.2" y1="234.4" x2="400.2" y2="237" stroke="#111" stroke-width="0.9" />
<line x1="412.4" y1="234.4" x2="412.4" y2="237" stroke="#111" stroke-width="0.9" />
<line x1="412.4" y1="354" x2="412.4" y2="357" stroke="#111" stroke-width="0.9" />
<text x="412.4" y="365.4" font-size="10" text-anchor="middle" fill="#222">2000</text>
<line x1="424.6" y1="234.4" x2="424.6" y2="237" stroke="#111" stroke-width="0.9" />
<line x1="436.8" y1="234.4" x2="436.8" y2="237" stroke="#111" stroke-width="0.9" />
<line x1="436.8" y1="354" x2="436.8" y2="357" stroke="#111" stroke-width="0.9" />
<line x1="449" y1="234.4" x2="449" y2="237" stroke="#111" stroke-width="0.9" />
<line x1="461.2" y1="234.4" x2="461.2" y2="237" stroke="#111" stroke-width="0.9" />
<line x1="461.2" y1="354" x2="461.2" y2="357" stroke="#111" stroke-width="0.9" />
<text x="461.2" y="365.4" font-size="10" text-anchor="middle" fill="#222">4000</text>
<line x1="473.4" y1="234.4" x2="473.4" y2="237" stroke="#111" stroke-width="0.9" />
<line x1="485.6" y1="234.4" x2="485.6" y2="237" stroke="#111" stroke-width="0.9" />
<line x1="485.6" y1="354" x2="485.6" y2="357" stroke="#111" stroke-width="0.9" />
<text font-size="10" fill="#222" transform="translate(330 213.6) rotate(-90)" text-anchor="middle">RH (%)</text>
<text x="0" y="0" font-size="10" text-anchor="middle" fill="#222" transform="translate(330 286) rotate(-90)" textLength="96" lengthAdjust="spacingAndGlyphs">ADC value (arb. units)</text>
<text x="425.2" y="374.4" font-size="10" fill="#222"><tspan font-style="italic">t</tspan> (s)</text>
<text x="367" y="319" font-size="9.5" fill="#222" textLength="19" lengthAdjust="spacingAndGlyphs">0.1%</text>
<text x="396" y="304" font-size="9.5" fill="#222" textLength="19" lengthAdjust="spacingAndGlyphs">0.2%</text>
<text x="421" y="286" font-size="9.5" fill="#222" textLength="19" lengthAdjust="spacingAndGlyphs">0.5%</text>
<text x="450.4" y="258" font-size="9.5" fill="#222" textLength="19" lengthAdjust="spacingAndGlyphs">1.0%</text>
<path d="M362.2 340.86h2.8v2.8h-2.8zM362.37 338.44h2.8v2.8h-2.8zM362.54 338.75h2.8v2.8h-2.8zM362.71 339.53h2.8v2.8h-2.8zM362.88 340.82h2.8v2.8h-2.8zM363.05 338.16h2.8v2.8h-2.8zM363.22 338.14h2.8v2.8h-2.8zM363.4 339.58h2.8v2.8h-2.8zM363.57 339.67h2.8v2.8h-2.8zM363.74 340.98h2.8v2.8h-2.8zM363.91 342.13h2.8v2.8h-2.8zM364.08 340.45h2.8v2.8h-2.8zM364.25 339.5h2.8v2.8h-2.8zM364.42 341.97h2.8v2.8h-2.8zM364.59 338.62h2.8v2.8h-2.8zM364.76 341.27h2.8v2.8h-2.8zM364.93 341.27h2.8v2.8h-2.8zM365.1 342.17h2.8v2.8h-2.8zM365.27 337.68h2.8v2.8h-2.8zM365.45 338.89h2.8v2.8h-2.8zM365.62 338.25h2.8v2.8h-2.8zM365.79 339.47h2.8v2.8h-2.8zM365.96 341.73h2.8v2.8h-2.8zM366.13 339.53h2.8v2.8h-2.8zM366.3 338.01h2.8v2.8h-2.8zM366.47 339.13h2.8v2.8h-2.8zM366.64 334.58h2.8v2.8h-2.8zM366.81 336.76h2.8v2.8h-2.8zM366.98 337.25h2.8v2.8h-2.8zM367.15 333.65h2.8v2.8h-2.8zM367.32 336.46h2.8v2.8h-2.8zM367.49 332.28h2.8v2.8h-2.8zM367.67 334.13h2.8v2.8h-2.8zM367.84 333.31h2.8v2.8h-2.8zM368.01 333.97h2.8v2.8h-2.8zM368.18 333h2.8v2.8h-2.8zM368.35 334.11h2.8v2.8h-2.8zM368.52 334.55h2.8v2.8h-2.8zM368.69 330.41h2.8v2.8h-2.8zM368.86 333.14h2.8v2.8h-2.8zM369.03 330.35h2.8v2.8h-2.8zM369.2 332.83h2.8v2.8h-2.8zM369.37 329.06h2.8v2.8h-2.8zM369.54 329.23h2.8v2.8h-2.8zM369.72 329.71h2.8v2.8h-2.8zM369.89 329.5h2.8v2.8h-2.8zM370.06 330.2h2.8v2.8h-2.8zM370.23 329.34h2.8v2.8h-2.8zM370.4 332.05h2.8v2.8h-2.8zM370.57 330.25h2.8v2.8h-2.8zM370.74 328.47h2.8v2.8h-2.8zM370.91 331.29h2.8v2.8h-2.8zM371.08 327.78h2.8v2.8h-2.8zM371.25 327.83h2.8v2.8h-2.8zM371.42 329.96h2.8v2.8h-2.8zM371.59 330.06h2.8v2.8h-2.8zM371.76 329.56h2.8v2.8h-2.8zM371.94 329.76h2.8v2.8h-2.8zM372.11 326.81h2.8v2.8h-2.8zM372.28 329.57h2.8v2.8h-2.8zM372.45 331.18h2.8v2.8h-2.8zM372.62 330.78h2.8v2.8h-2.8zM372.79 327.76h2.8v2.8h-2.8zM372.96 326.39h2.8v2.8h-2.8zM373.13 328.65h2.8v2.8h-2.8zM373.3 328.59h2.8v2.8h-2.8zM373.47 328.24h2.8v2.8h-2.8zM373.64 327.25h2.8v2.8h-2.8zM373.81 329.65h2.8v2.8h-2.8zM373.99 327.77h2.8v2.8h-2.8zM374.16 327.95h2.8v2.8h-2.8zM374.33 327.58h2.8v2.8h-2.8zM374.5 329.59h2.8v2.8h-2.8zM374.67 329.59h2.8v2.8h-2.8zM374.84 328.69h2.8v2.8h-2.8zM375.01 325.92h2.8v2.8h-2.8zM375.18 328.59h2.8v2.8h-2.8zM375.35 327.36h2.8v2.8h-2.8zM375.52 328.68h2.8v2.8h-2.8zM375.69 329.59h2.8v2.8h-2.8zM375.86 329.72h2.8v2.8h-2.8zM376.03 326.16h2.8v2.8h-2.8zM376.21 326.28h2.8v2.8h-2.8zM376.38 328.13h2.8v2.8h-2.8zM376.55 326.64h2.8v2.8h-2.8zM376.72 326.63h2.8v2.8h-2.8zM376.89 325.55h2.8v2.8h-2.8zM377.06 325.23h2.8v2.8h-2.8zM377.23 327.78h2.8v2.8h-2.8zM377.4 325.01h2.8v2.8h-2.8zM377.57 325.11h2.8v2.8h-2.8zM377.74 326.82h2.8v2.8h-2.8zM377.91 325.41h2.8v2.8h-2.8zM378.08 327.22h2.8v2.8h-2.8zM378.26 327.73h2.8v2.8h-2.8zM378.43 328.3h2.8v2.8h-2.8zM378.6 325.32h2.8v2.8h-2.8zM378.77 328.64h2.8v2.8h-2.8zM378.94 329.05h2.8v2.8h-2.8zM379.11 325.57h2.8v2.8h-2.8zM379.28 325.69h2.8v2.8h-2.8zM379.45 327.03h2.8v2.8h-2.8zM379.62 325.34h2.8v2.8h-2.8zM379.79 329h2.8v2.8h-2.8zM379.96 328.01h2.8v2.8h-2.8zM380.13 327.84h2.8v2.8h-2.8zM380.3 327.21h2.8v2.8h-2.8zM380.48 328.35h2.8v2.8h-2.8zM380.65 329.42h2.8v2.8h-2.8zM380.82 328.83h2.8v2.8h-2.8zM380.99 326.83h2.8v2.8h-2.8zM381.16 327.02h2.8v2.8h-2.8zM381.33 328.69h2.8v2.8h-2.8zM381.5 330.47h2.8v2.8h-2.8zM381.67 332.03h2.8v2.8h-2.8zM381.84 329.18h2.8v2.8h-2.8zM382.01 331.66h2.8v2.8h-2.8zM382.18 331.13h2.8v2.8h-2.8zM382.35 334.82h2.8v2.8h-2.8zM382.53 334.33h2.8v2.8h-2.8zM382.7 331.76h2.8v2.8h-2.8zM382.87 332.3h2.8v2.8h-2.8zM383.04 332.22h2.8v2.8h-2.8zM383.21 333.85h2.8v2.8h-2.8zM383.38 334.97h2.8v2.8h-2.8zM383.55 334.52h2.8v2.8h-2.8zM383.72 333.53h2.8v2.8h-2.8zM383.89 336.34h2.8v2.8h-2.8zM384.06 335.52h2.8v2.8h-2.8zM384.23 336.97h2.8v2.8h-2.8zM384.4 334.89h2.8v2.8h-2.8zM384.57 338.67h2.8v2.8h-2.8zM384.75 335.71h2.8v2.8h-2.8zM384.92 334.65h2.8v2.8h-2.8zM385.09 339.21h2.8v2.8h-2.8zM385.26 336.72h2.8v2.8h-2.8zM385.43 336.67h2.8v2.8h-2.8zM385.6 335.87h2.8v2.8h-2.8zM385.77 337.29h2.8v2.8h-2.8zM385.94 338.99h2.8v2.8h-2.8zM386.11 338.45h2.8v2.8h-2.8zM386.28 336h2.8v2.8h-2.8zM386.45 336.4h2.8v2.8h-2.8zM386.62 340.17h2.8v2.8h-2.8zM386.8 340.49h2.8v2.8h-2.8zM386.97 340.63h2.8v2.8h-2.8zM387.14 341.08h2.8v2.8h-2.8zM387.31 339.22h2.8v2.8h-2.8zM387.48 340.78h2.8v2.8h-2.8zM387.65 337.49h2.8v2.8h-2.8zM387.82 338.6h2.8v2.8h-2.8zM387.99 341.19h2.8v2.8h-2.8zM388.16 339.37h2.8v2.8h-2.8zM388.33 340.48h2.8v2.8h-2.8zM388.5 339.78h2.8v2.8h-2.8zM388.67 341.17h2.8v2.8h-2.8zM388.84 341.52h2.8v2.8h-2.8zM389.02 341.53h2.8v2.8h-2.8zM389.19 340.71h2.8v2.8h-2.8zM389.36 339.24h2.8v2.8h-2.8zM389.53 340.08h2.8v2.8h-2.8zM389.7 342.53h2.8v2.8h-2.8zM389.87 339.49h2.8v2.8h-2.8zM390.04 338.8h2.8v2.8h-2.8zM390.21 339.35h2.8v2.8h-2.8zM390.38 339.35h2.8v2.8h-2.8zM390.55 343.1h2.8v2.8h-2.8zM390.72 341.03h2.8v2.8h-2.8zM390.89 342.98h2.8v2.8h-2.8zM391.07 339.76h2.8v2.8h-2.8zM391.24 342.59h2.8v2.8h-2.8zM391.41 340.13h2.8v2.8h-2.8zM391.58 342.35h2.8v2.8h-2.8zM391.75 340.33h2.8v2.8h-2.8zM391.92 342.19h2.8v2.8h-2.8zM392.09 343.52h2.8v2.8h-2.8zM392.26 341.95h2.8v2.8h-2.8zM392.43 342.38h2.8v2.8h-2.8zM392.6 339.66h2.8v2.8h-2.8zM392.77 342.56h2.8v2.8h-2.8zM392.94 341.63h2.8v2.8h-2.8zM393.11 341.47h2.8v2.8h-2.8zM393.29 339.64h2.8v2.8h-2.8zM393.46 343.68h2.8v2.8h-2.8zM393.63 341.37h2.8v2.8h-2.8zM393.8 341.85h2.8v2.8h-2.8zM393.97 340.83h2.8v2.8h-2.8zM394.14 339.79h2.8v2.8h-2.8zM394.31 342.91h2.8v2.8h-2.8zM394.48 341.13h2.8v2.8h-2.8zM394.65 341.98h2.8v2.8h-2.8zM394.82 341.86h2.8v2.8h-2.8zM394.99 344.23h2.8v2.8h-2.8zM395.16 340.74h2.8v2.8h-2.8zM395.34 339.98h2.8v2.8h-2.8zM395.51 341.58h2.8v2.8h-2.8zM395.68 339.97h2.8v2.8h-2.8zM395.85 335.18h2.8v2.8h-2.8zM396.02 337.9h2.8v2.8h-2.8zM396.19 336.7h2.8v2.8h-2.8zM396.36 335.46h2.8v2.8h-2.8zM396.53 330.88h2.8v2.8h-2.8zM396.7 330.1h2.8v2.8h-2.8zM396.87 330.61h2.8v2.8h-2.8zM397.04 328.92h2.8v2.8h-2.8zM397.21 330.94h2.8v2.8h-2.8zM397.38 327.26h2.8v2.8h-2.8zM397.56 327.51h2.8v2.8h-2.8zM397.73 326.52h2.8v2.8h-2.8zM397.9 326.53h2.8v2.8h-2.8zM398.07 325.9h2.8v2.8h-2.8zM398.24 326.22h2.8v2.8h-2.8zM398.41 326.57h2.8v2.8h-2.8zM398.58 324.3h2.8v2.8h-2.8zM398.75 324.75h2.8v2.8h-2.8zM398.92 322.21h2.8v2.8h-2.8zM399.09 321.3h2.8v2.8h-2.8zM399.26 321.38h2.8v2.8h-2.8zM399.43 322.31h2.8v2.8h-2.8zM399.61 323.02h2.8v2.8h-2.8zM399.78 322.02h2.8v2.8h-2.8zM399.95 321.26h2.8v2.8h-2.8zM400.12 320.31h2.8v2.8h-2.8zM400.29 318.49h2.8v2.8h-2.8zM400.46 322.37h2.8v2.8h-2.8zM400.63 320.29h2.8v2.8h-2.8zM400.8 320.01h2.8v2.8h-2.8zM400.97 318.74h2.8v2.8h-2.8zM401.14 317.72h2.8v2.8h-2.8zM401.31 318.05h2.8v2.8h-2.8zM401.48 318.58h2.8v2.8h-2.8zM401.65 317.79h2.8v2.8h-2.8zM401.83 318.04h2.8v2.8h-2.8zM402 316.98h2.8v2.8h-2.8zM402.17 317.57h2.8v2.8h-2.8zM402.34 317.5h2.8v2.8h-2.8zM402.51 319.41h2.8v2.8h-2.8zM402.68 316.11h2.8v2.8h-2.8zM402.85 318.47h2.8v2.8h-2.8zM403.02 317.27h2.8v2.8h-2.8zM403.19 316.16h2.8v2.8h-2.8zM403.36 315.39h2.8v2.8h-2.8zM403.53 315.15h2.8v2.8h-2.8zM403.7 319.65h2.8v2.8h-2.8zM403.88 318.11h2.8v2.8h-2.8zM404.05 318.01h2.8v2.8h-2.8zM404.22 317.53h2.8v2.8h-2.8zM404.39 318.59h2.8v2.8h-2.8zM404.56 316.58h2.8v2.8h-2.8zM404.73 318.72h2.8v2.8h-2.8zM404.9 317.58h2.8v2.8h-2.8zM405.07 314.49h2.8v2.8h-2.8zM405.24 315.35h2.8v2.8h-2.8zM405.41 316.58h2.8v2.8h-2.8zM405.58 318.17h2.8v2.8h-2.8zM405.75 314.12h2.8v2.8h-2.8zM405.92 315.23h2.8v2.8h-2.8zM406.1 317.5h2.8v2.8h-2.8zM406.27 316.82h2.8v2.8h-2.8zM406.44 315.32h2.8v2.8h-2.8zM406.61 315.07h2.8v2.8h-2.8zM406.78 316.98h2.8v2.8h-2.8zM406.95 313.68h2.8v2.8h-2.8zM407.12 316.58h2.8v2.8h-2.8zM407.29 316.84h2.8v2.8h-2.8zM407.46 314.01h2.8v2.8h-2.8zM407.63 317.21h2.8v2.8h-2.8zM407.8 314.68h2.8v2.8h-2.8zM407.97 316.9h2.8v2.8h-2.8zM408.15 314.98h2.8v2.8h-2.8zM408.32 316.44h2.8v2.8h-2.8zM408.49 315.92h2.8v2.8h-2.8zM408.66 313.24h2.8v2.8h-2.8zM408.83 315.42h2.8v2.8h-2.8zM409 315.52h2.8v2.8h-2.8zM409.17 314.64h2.8v2.8h-2.8zM409.34 316.18h2.8v2.8h-2.8zM409.51 316.64h2.8v2.8h-2.8zM409.68 315.62h2.8v2.8h-2.8zM409.85 316.68h2.8v2.8h-2.8zM410.02 318.37h2.8v2.8h-2.8zM410.19 315.93h2.8v2.8h-2.8zM410.37 321.4h2.8v2.8h-2.8zM410.54 318.82h2.8v2.8h-2.8zM410.71 319.23h2.8v2.8h-2.8zM410.88 321.24h2.8v2.8h-2.8zM411.05 325.35h2.8v2.8h-2.8zM411.22 323.91h2.8v2.8h-2.8zM411.39 326.86h2.8v2.8h-2.8zM411.56 324.93h2.8v2.8h-2.8zM411.73 325.21h2.8v2.8h-2.8zM411.9 328.02h2.8v2.8h-2.8zM412.07 329.74h2.8v2.8h-2.8zM412.24 327.82h2.8v2.8h-2.8zM412.42 330.49h2.8v2.8h-2.8zM412.59 330.02h2.8v2.8h-2.8zM412.76 329.85h2.8v2.8h-2.8zM412.93 328.27h2.8v2.8h-2.8zM413.1 331.19h2.8v2.8h-2.8zM413.27 332.73h2.8v2.8h-2.8zM413.44 330.07h2.8v2.8h-2.8zM413.61 330.32h2.8v2.8h-2.8zM413.78 332.08h2.8v2.8h-2.8zM413.95 334.71h2.8v2.8h-2.8zM414.12 334.4h2.8v2.8h-2.8zM414.29 333.73h2.8v2.8h-2.8zM414.46 333.35h2.8v2.8h-2.8zM414.64 335.19h2.8v2.8h-2.8zM414.81 332.77h2.8v2.8h-2.8zM414.98 332.86h2.8v2.8h-2.8zM415.15 332.75h2.8v2.8h-2.8zM415.32 333.21h2.8v2.8h-2.8zM415.49 337.53h2.8v2.8h-2.8zM415.66 335.12h2.8v2.8h-2.8zM415.83 337.71h2.8v2.8h-2.8zM416 334.09h2.8v2.8h-2.8zM416.17 335.02h2.8v2.8h-2.8zM416.34 335.17h2.8v2.8h-2.8zM416.51 338.06h2.8v2.8h-2.8zM416.69 338.85h2.8v2.8h-2.8zM416.86 335.49h2.8v2.8h-2.8zM417.03 336.65h2.8v2.8h-2.8zM417.2 336.77h2.8v2.8h-2.8zM417.37 337.64h2.8v2.8h-2.8zM417.54 336.26h2.8v2.8h-2.8zM417.71 338.58h2.8v2.8h-2.8zM417.88 339.06h2.8v2.8h-2.8zM418.05 338.82h2.8v2.8h-2.8zM418.22 339.22h2.8v2.8h-2.8zM418.39 337.81h2.8v2.8h-2.8zM418.56 336.71h2.8v2.8h-2.8zM418.73 340.69h2.8v2.8h-2.8zM418.91 340.83h2.8v2.8h-2.8zM419.08 338.87h2.8v2.8h-2.8zM419.25 338.21h2.8v2.8h-2.8zM419.42 340.62h2.8v2.8h-2.8zM419.59 340.36h2.8v2.8h-2.8zM419.76 341.46h2.8v2.8h-2.8zM419.93 341.66h2.8v2.8h-2.8zM420.1 339.62h2.8v2.8h-2.8zM420.27 338.84h2.8v2.8h-2.8zM420.44 339.07h2.8v2.8h-2.8zM420.61 341.49h2.8v2.8h-2.8zM420.78 341.83h2.8v2.8h-2.8zM420.96 338.04h2.8v2.8h-2.8zM421.13 339.97h2.8v2.8h-2.8zM421.3 340.66h2.8v2.8h-2.8zM421.47 339.42h2.8v2.8h-2.8zM421.64 339.32h2.8v2.8h-2.8zM421.81 340.36h2.8v2.8h-2.8zM421.98 342.53h2.8v2.8h-2.8zM422.15 339.08h2.8v2.8h-2.8zM422.32 342.03h2.8v2.8h-2.8zM422.49 342.92h2.8v2.8h-2.8zM422.66 341.52h2.8v2.8h-2.8zM422.83 340.74h2.8v2.8h-2.8zM423 340.35h2.8v2.8h-2.8zM423.18 342.55h2.8v2.8h-2.8zM423.35 340.09h2.8v2.8h-2.8zM423.52 341.16h2.8v2.8h-2.8zM423.69 342.78h2.8v2.8h-2.8zM423.86 339.6h2.8v2.8h-2.8zM424.03 339.86h2.8v2.8h-2.8zM424.2 339.44h2.8v2.8h-2.8zM424.37 340.56h2.8v2.8h-2.8zM424.54 342.78h2.8v2.8h-2.8zM424.71 340.18h2.8v2.8h-2.8zM424.88 339.59h2.8v2.8h-2.8zM424.97 339.75h2.8v2.8h-2.8zM425.05 335.6h2.8v2.8h-2.8zM425.14 334.1h2.8v2.8h-2.8zM425.23 333.73h2.8v2.8h-2.8zM425.31 330.23h2.8v2.8h-2.8zM425.4 327.28h2.8v2.8h-2.8zM425.48 327.01h2.8v2.8h-2.8zM425.57 328.36h2.8v2.8h-2.8zM425.65 324.81h2.8v2.8h-2.8zM425.74 322.55h2.8v2.8h-2.8zM425.82 321.46h2.8v2.8h-2.8zM425.91 319.19h2.8v2.8h-2.8zM425.99 318.87h2.8v2.8h-2.8zM426.08 319.64h2.8v2.8h-2.8zM426.25 313.94h2.8v2.8h-2.8zM426.42 313.88h2.8v2.8h-2.8zM426.59 310.55h2.8v2.8h-2.8zM426.76 312.23h2.8v2.8h-2.8zM426.93 307.13h2.8v2.8h-2.8zM427.1 307.95h2.8v2.8h-2.8zM427.27 305.82h2.8v2.8h-2.8zM427.45 304.97h2.8v2.8h-2.8zM427.62 303.35h2.8v2.8h-2.8zM427.79 304.96h2.8v2.8h-2.8zM427.96 305.5h2.8v2.8h-2.8zM428.13 303.27h2.8v2.8h-2.8zM428.3 303.68h2.8v2.8h-2.8zM428.47 301.38h2.8v2.8h-2.8zM428.64 299.52h2.8v2.8h-2.8zM428.81 301.12h2.8v2.8h-2.8zM428.98 301.73h2.8v2.8h-2.8zM429.15 301.77h2.8v2.8h-2.8zM429.32 299.49h2.8v2.8h-2.8zM429.5 298.35h2.8v2.8h-2.8zM429.67 300.59h2.8v2.8h-2.8zM429.84 297.23h2.8v2.8h-2.8zM430.01 299.04h2.8v2.8h-2.8zM430.18 299.22h2.8v2.8h-2.8zM430.35 295.07h2.8v2.8h-2.8zM430.52 296.68h2.8v2.8h-2.8zM430.69 294.67h2.8v2.8h-2.8zM430.86 296.21h2.8v2.8h-2.8zM431.03 297.81h2.8v2.8h-2.8zM431.2 297.03h2.8v2.8h-2.8zM431.37 295.95h2.8v2.8h-2.8zM431.54 294.72h2.8v2.8h-2.8zM431.72 293.91h2.8v2.8h-2.8zM431.89 293.81h2.8v2.8h-2.8zM432.06 294.1h2.8v2.8h-2.8zM432.23 295.79h2.8v2.8h-2.8zM432.4 294.79h2.8v2.8h-2.8zM432.57 294.88h2.8v2.8h-2.8zM432.74 294.2h2.8v2.8h-2.8zM432.91 295.1h2.8v2.8h-2.8zM433.08 293.68h2.8v2.8h-2.8zM433.25 293.91h2.8v2.8h-2.8zM433.42 295.77h2.8v2.8h-2.8zM433.59 291.94h2.8v2.8h-2.8zM433.77 292.93h2.8v2.8h-2.8zM433.94 291.79h2.8v2.8h-2.8zM434.11 291.99h2.8v2.8h-2.8zM434.28 291.91h2.8v2.8h-2.8zM434.45 290.57h2.8v2.8h-2.8zM434.62 293.36h2.8v2.8h-2.8zM434.79 293.19h2.8v2.8h-2.8zM434.96 294.92h2.8v2.8h-2.8zM435.13 291.73h2.8v2.8h-2.8zM435.3 292.03h2.8v2.8h-2.8zM435.47 291.97h2.8v2.8h-2.8zM435.64 289.91h2.8v2.8h-2.8zM435.81 293.59h2.8v2.8h-2.8zM435.99 293.37h2.8v2.8h-2.8zM436.16 290.91h2.8v2.8h-2.8zM436.33 290.48h2.8v2.8h-2.8zM436.5 291.96h2.8v2.8h-2.8zM436.67 293.9h2.8v2.8h-2.8zM436.84 292.35h2.8v2.8h-2.8zM437.01 290.15h2.8v2.8h-2.8zM437.18 291.62h2.8v2.8h-2.8zM437.35 291.75h2.8v2.8h-2.8zM437.52 292.03h2.8v2.8h-2.8zM437.69 290.85h2.8v2.8h-2.8zM437.86 290.94h2.8v2.8h-2.8zM438.04 290.45h2.8v2.8h-2.8zM438.21 289.59h2.8v2.8h-2.8zM438.38 290.08h2.8v2.8h-2.8zM438.55 291.8h2.8v2.8h-2.8zM438.72 292.34h2.8v2.8h-2.8zM438.89 289.81h2.8v2.8h-2.8zM439.06 289.71h2.8v2.8h-2.8zM439.23 289.04h2.8v2.8h-2.8zM439.4 292.43h2.8v2.8h-2.8zM439.57 289.34h2.8v2.8h-2.8zM439.74 289.11h2.8v2.8h-2.8zM439.91 292.89h2.8v2.8h-2.8zM440.08 291.78h2.8v2.8h-2.8zM440.26 290.21h2.8v2.8h-2.8zM440.34 292.63h2.8v2.8h-2.8zM440.43 291.58h2.8v2.8h-2.8zM440.51 295.03h2.8v2.8h-2.8zM440.6 294.86h2.8v2.8h-2.8zM440.68 297.42h2.8v2.8h-2.8zM440.77 299.48h2.8v2.8h-2.8zM440.85 299.95h2.8v2.8h-2.8zM440.94 300.39h2.8v2.8h-2.8zM441.11 301.48h2.8v2.8h-2.8zM441.28 305.81h2.8v2.8h-2.8zM441.45 305.46h2.8v2.8h-2.8zM441.62 308.84h2.8v2.8h-2.8zM441.79 309.02h2.8v2.8h-2.8zM441.96 311.89h2.8v2.8h-2.8zM442.13 314.15h2.8v2.8h-2.8zM442.31 315.77h2.8v2.8h-2.8zM442.48 317.47h2.8v2.8h-2.8zM442.65 315.67h2.8v2.8h-2.8zM442.82 318.15h2.8v2.8h-2.8zM442.99 320.61h2.8v2.8h-2.8zM443.16 318.08h2.8v2.8h-2.8zM443.33 320.12h2.8v2.8h-2.8zM443.5 324.03h2.8v2.8h-2.8zM443.67 321.6h2.8v2.8h-2.8zM443.84 323.04h2.8v2.8h-2.8zM444.01 324.55h2.8v2.8h-2.8zM444.18 325.04h2.8v2.8h-2.8zM444.35 323.58h2.8v2.8h-2.8zM444.53 327.03h2.8v2.8h-2.8zM444.7 326.46h2.8v2.8h-2.8zM444.87 327.08h2.8v2.8h-2.8zM445.04 328.94h2.8v2.8h-2.8zM445.21 329.6h2.8v2.8h-2.8zM445.38 328.23h2.8v2.8h-2.8zM445.55 329.3h2.8v2.8h-2.8zM445.72 330.64h2.8v2.8h-2.8zM445.89 330.85h2.8v2.8h-2.8zM446.06 332.67h2.8v2.8h-2.8zM446.23 330.45h2.8v2.8h-2.8zM446.4 334.48h2.8v2.8h-2.8zM446.58 331.96h2.8v2.8h-2.8zM446.75 333.23h2.8v2.8h-2.8zM446.92 334.7h2.8v2.8h-2.8zM447.09 333.34h2.8v2.8h-2.8zM447.26 333.7h2.8v2.8h-2.8zM447.43 336.36h2.8v2.8h-2.8zM447.6 334.79h2.8v2.8h-2.8zM447.77 336.62h2.8v2.8h-2.8zM447.94 333.94h2.8v2.8h-2.8zM448.11 336.45h2.8v2.8h-2.8zM448.28 336.71h2.8v2.8h-2.8zM448.45 337.51h2.8v2.8h-2.8zM448.62 338.55h2.8v2.8h-2.8zM448.8 338.15h2.8v2.8h-2.8zM448.97 338.55h2.8v2.8h-2.8zM449.14 336.56h2.8v2.8h-2.8zM449.31 335.74h2.8v2.8h-2.8zM449.48 338.9h2.8v2.8h-2.8zM449.65 339.62h2.8v2.8h-2.8zM449.82 337.83h2.8v2.8h-2.8zM449.99 340h2.8v2.8h-2.8zM450.16 338.82h2.8v2.8h-2.8zM450.33 337.34h2.8v2.8h-2.8zM450.5 340.13h2.8v2.8h-2.8zM450.67 337.97h2.8v2.8h-2.8zM450.85 338.89h2.8v2.8h-2.8zM451.02 341.19h2.8v2.8h-2.8zM451.19 340.6h2.8v2.8h-2.8zM451.36 339.07h2.8v2.8h-2.8zM451.53 341.58h2.8v2.8h-2.8zM451.7 341.22h2.8v2.8h-2.8zM451.87 339.6h2.8v2.8h-2.8zM452.04 338.6h2.8v2.8h-2.8zM452.21 340.13h2.8v2.8h-2.8zM452.38 339.58h2.8v2.8h-2.8zM452.55 342.78h2.8v2.8h-2.8zM452.72 341.52h2.8v2.8h-2.8zM452.89 341.56h2.8v2.8h-2.8zM453.07 338.81h2.8v2.8h-2.8zM453.24 340.39h2.8v2.8h-2.8zM453.28 337.24h2.8v2.8h-2.8zM453.32 337.2h2.8v2.8h-2.8zM453.36 334.31h2.8v2.8h-2.8zM453.41 330.66h2.8v2.8h-2.8zM453.46 329.51h2.8v2.8h-2.8zM453.52 327.94h2.8v2.8h-2.8zM453.58 327.6h2.8v2.8h-2.8zM453.63 323.09h2.8v2.8h-2.8zM453.69 323.06h2.8v2.8h-2.8zM453.75 318.15h2.8v2.8h-2.8zM453.81 317.98h2.8v2.8h-2.8zM453.86 316.42h2.8v2.8h-2.8zM453.92 315.09h2.8v2.8h-2.8zM453.98 314.47h2.8v2.8h-2.8zM454.03 312.62h2.8v2.8h-2.8zM454.09 310.05h2.8v2.8h-2.8zM454.18 308.3h2.8v2.8h-2.8zM454.26 307.31h2.8v2.8h-2.8zM454.35 304.26h2.8v2.8h-2.8zM454.43 305.24h2.8v2.8h-2.8zM454.52 302.09h2.8v2.8h-2.8zM454.6 301.96h2.8v2.8h-2.8zM454.69 298.93h2.8v2.8h-2.8zM454.77 295.81h2.8v2.8h-2.8zM454.86 295.26h2.8v2.8h-2.8zM454.94 296.23h2.8v2.8h-2.8zM455.03 293.89h2.8v2.8h-2.8zM455.12 294.12h2.8v2.8h-2.8zM455.29 289.48h2.8v2.8h-2.8zM455.46 288.61h2.8v2.8h-2.8zM455.63 287.89h2.8v2.8h-2.8zM455.8 285.69h2.8v2.8h-2.8zM455.97 281.97h2.8v2.8h-2.8zM456.14 282.73h2.8v2.8h-2.8zM456.31 280.32h2.8v2.8h-2.8zM456.48 279.53h2.8v2.8h-2.8zM456.65 279.25h2.8v2.8h-2.8zM456.82 277.94h2.8v2.8h-2.8zM456.99 277.99h2.8v2.8h-2.8zM457.16 277.97h2.8v2.8h-2.8zM457.34 275.84h2.8v2.8h-2.8zM457.51 276.05h2.8v2.8h-2.8zM457.68 275.28h2.8v2.8h-2.8zM457.85 275.34h2.8v2.8h-2.8zM458.02 271.36h2.8v2.8h-2.8zM458.19 273.12h2.8v2.8h-2.8zM458.36 273.67h2.8v2.8h-2.8zM458.53 273.98h2.8v2.8h-2.8zM458.7 272.67h2.8v2.8h-2.8zM458.87 269.17h2.8v2.8h-2.8zM459.04 271.26h2.8v2.8h-2.8zM459.21 269.32h2.8v2.8h-2.8zM459.39 271h2.8v2.8h-2.8zM459.56 268.67h2.8v2.8h-2.8zM459.73 269.28h2.8v2.8h-2.8zM459.9 267.62h2.8v2.8h-2.8zM460.07 268.28h2.8v2.8h-2.8zM460.24 268.71h2.8v2.8h-2.8zM460.41 268.88h2.8v2.8h-2.8zM460.58 267.13h2.8v2.8h-2.8zM460.75 265.75h2.8v2.8h-2.8zM460.92 266.16h2.8v2.8h-2.8zM461.09 266.92h2.8v2.8h-2.8zM461.26 267.4h2.8v2.8h-2.8zM461.43 264.53h2.8v2.8h-2.8zM461.61 264.53h2.8v2.8h-2.8zM461.78 267.62h2.8v2.8h-2.8zM461.95 264.92h2.8v2.8h-2.8zM462.12 264.29h2.8v2.8h-2.8zM462.29 264.56h2.8v2.8h-2.8zM462.46 263.03h2.8v2.8h-2.8zM462.63 263.26h2.8v2.8h-2.8zM462.8 266.07h2.8v2.8h-2.8zM462.97 262.38h2.8v2.8h-2.8zM463.14 265.38h2.8v2.8h-2.8zM463.31 264.99h2.8v2.8h-2.8zM463.48 262.04h2.8v2.8h-2.8zM463.66 265.71h2.8v2.8h-2.8zM463.83 264.5h2.8v2.8h-2.8zM464 263.29h2.8v2.8h-2.8zM464.17 264.83h2.8v2.8h-2.8zM464.34 264.74h2.8v2.8h-2.8zM464.51 262.15h2.8v2.8h-2.8zM464.68 262.89h2.8v2.8h-2.8zM464.85 262.17h2.8v2.8h-2.8zM465.02 261.85h2.8v2.8h-2.8zM465.19 261.37h2.8v2.8h-2.8zM465.36 261.17h2.8v2.8h-2.8zM465.53 261.41h2.8v2.8h-2.8zM465.7 260.59h2.8v2.8h-2.8zM465.88 262.76h2.8v2.8h-2.8zM466.05 261.72h2.8v2.8h-2.8zM466.22 262.52h2.8v2.8h-2.8zM466.39 260.31h2.8v2.8h-2.8zM466.56 261.71h2.8v2.8h-2.8zM466.73 262.69h2.8v2.8h-2.8zM466.9 261.53h2.8v2.8h-2.8zM467.07 263.19h2.8v2.8h-2.8zM467.24 263.91h2.8v2.8h-2.8zM467.41 262.64h2.8v2.8h-2.8zM467.58 263.75h2.8v2.8h-2.8zM467.75 264.31h2.8v2.8h-2.8zM467.93 263.84h2.8v2.8h-2.8zM468.1 262.09h2.8v2.8h-2.8zM468.27 260.58h2.8v2.8h-2.8zM468.44 263.89h2.8v2.8h-2.8zM468.61 261.08h2.8v2.8h-2.8zM468.78 263.5h2.8v2.8h-2.8zM468.95 261.58h2.8v2.8h-2.8zM469.12 262.54h2.8v2.8h-2.8zM469.29 261.8h2.8v2.8h-2.8zM469.46 260.51h2.8v2.8h-2.8zM469.63 263.61h2.8v2.8h-2.8zM469.72 265.48h2.8v2.8h-2.8zM469.8 266.17h2.8v2.8h-2.8zM469.89 269.98h2.8v2.8h-2.8zM469.97 271.62h2.8v2.8h-2.8zM470.06 272.25h2.8v2.8h-2.8zM470.15 272.82h2.8v2.8h-2.8zM470.23 274.94h2.8v2.8h-2.8zM470.32 278.83h2.8v2.8h-2.8zM470.4 278.92h2.8v2.8h-2.8zM470.49 281.62h2.8v2.8h-2.8zM470.57 281.73h2.8v2.8h-2.8zM470.66 281.97h2.8v2.8h-2.8zM470.74 285.84h2.8v2.8h-2.8zM470.83 287.03h2.8v2.8h-2.8zM470.91 286.55h2.8v2.8h-2.8zM471 289.54h2.8v2.8h-2.8zM471.09 289.73h2.8v2.8h-2.8zM471.17 289.71h2.8v2.8h-2.8zM471.26 292.9h2.8v2.8h-2.8zM471.34 292.13h2.8v2.8h-2.8zM471.51 297.93h2.8v2.8h-2.8zM471.68 298.32h2.8v2.8h-2.8zM471.85 301.01h2.8v2.8h-2.8zM472.02 301.96h2.8v2.8h-2.8zM472.2 304.26h2.8v2.8h-2.8zM472.37 306.72h2.8v2.8h-2.8zM472.54 304.58h2.8v2.8h-2.8zM472.71 308.97h2.8v2.8h-2.8zM472.88 308.43h2.8v2.8h-2.8zM473.05 309.81h2.8v2.8h-2.8zM473.22 309.65h2.8v2.8h-2.8zM473.39 310.81h2.8v2.8h-2.8zM473.56 312.98h2.8v2.8h-2.8zM473.73 316.16h2.8v2.8h-2.8zM473.9 314.38h2.8v2.8h-2.8zM474.07 318.45h2.8v2.8h-2.8zM474.24 315.46h2.8v2.8h-2.8zM474.42 319.24h2.8v2.8h-2.8zM474.59 320.33h2.8v2.8h-2.8zM474.76 321.3h2.8v2.8h-2.8zM474.93 321.23h2.8v2.8h-2.8zM475.1 320.09h2.8v2.8h-2.8zM475.27 320.49h2.8v2.8h-2.8zM475.44 321.68h2.8v2.8h-2.8zM475.61 322.4h2.8v2.8h-2.8zM475.78 325.29h2.8v2.8h-2.8zM475.95 325.52h2.8v2.8h-2.8zM476.12 326.17h2.8v2.8h-2.8zM476.29 326.11h2.8v2.8h-2.8zM476.47 324.57h2.8v2.8h-2.8zM476.64 324.51h2.8v2.8h-2.8zM476.81 329.28h2.8v2.8h-2.8zM476.98 325.61h2.8v2.8h-2.8zM477.15 326.28h2.8v2.8h-2.8zM477.32 328.86h2.8v2.8h-2.8zM477.49 328.19h2.8v2.8h-2.8zM477.66 328.17h2.8v2.8h-2.8zM477.83 331.37h2.8v2.8h-2.8zM478 329.73h2.8v2.8h-2.8zM478.17 328.38h2.8v2.8h-2.8zM478.34 329.21h2.8v2.8h-2.8zM478.51 329.4h2.8v2.8h-2.8zM478.69 333.61h2.8v2.8h-2.8zM478.86 330.97h2.8v2.8h-2.8zM479.03 332.35h2.8v2.8h-2.8zM479.2 330.66h2.8v2.8h-2.8zM479.37 334.44h2.8v2.8h-2.8zM479.54 332.93h2.8v2.8h-2.8zM479.71 335.2h2.8v2.8h-2.8zM479.88 332.25h2.8v2.8h-2.8zM480.05 332.89h2.8v2.8h-2.8zM480.22 336.38h2.8v2.8h-2.8zM480.39 335.31h2.8v2.8h-2.8zM480.56 336.33h2.8v2.8h-2.8zM480.74 334.23h2.8v2.8h-2.8zM480.91 334.47h2.8v2.8h-2.8zM481.08 337.35h2.8v2.8h-2.8zM481.25 333.38h2.8v2.8h-2.8zM481.42 333.5h2.8v2.8h-2.8zM481.59 336.16h2.8v2.8h-2.8zM481.76 335.72h2.8v2.8h-2.8zM481.93 336.88h2.8v2.8h-2.8zM482.1 335.92h2.8v2.8h-2.8zM482.27 337.06h2.8v2.8h-2.8zM482.44 337.03h2.8v2.8h-2.8zM482.61 335.73h2.8v2.8h-2.8zM482.78 338.53h2.8v2.8h-2.8zM482.96 338.15h2.8v2.8h-2.8zM483.13 336.11h2.8v2.8h-2.8zM483.3 338.78h2.8v2.8h-2.8zM483.47 339.65h2.8v2.8h-2.8zM483.64 335.82h2.8v2.8h-2.8zM483.81 339.12h2.8v2.8h-2.8zM483.98 337.42h2.8v2.8h-2.8zM484.15 337.37h2.8v2.8h-2.8zM484.32 337.1h2.8v2.8h-2.8zM484.49 336.16h2.8v2.8h-2.8zM484.66 334.78h2.8v2.8h-2.8zM484.83 336.24h2.8v2.8h-2.8z" fill="none" stroke="#111" stroke-width="0.9" />
<path d="M362.05 336.73a1.55 1.55 0 1 0 3.1 0a1.55 1.55 0 1 0 -3.1 0M362.22 339.9a1.55 1.55 0 1 0 3.1 0a1.55 1.55 0 1 0 -3.1 0M362.39 340.4a1.55 1.55 0 1 0 3.1 0a1.55 1.55 0 1 0 -3.1 0M362.56 336.73a1.55 1.55 0 1 0 3.1 0a1.55 1.55 0 1 0 -3.1 0M362.73 339.89a1.55 1.55 0 1 0 3.1 0a1.55 1.55 0 1 0 -3.1 0M362.9 340.19a1.55 1.55 0 1 0 3.1 0a1.55 1.55 0 1 0 -3.1 0M363.07 338.21a1.55 1.55 0 1 0 3.1 0a1.55 1.55 0 1 0 -3.1 0M363.25 339.43a1.55 1.55 0 1 0 3.1 0a1.55 1.55 0 1 0 -3.1 0M363.42 337.4a1.55 1.55 0 1 0 3.1 0a1.55 1.55 0 1 0 -3.1 0M363.59 339.97a1.55 1.55 0 1 0 3.1 0a1.55 1.55 0 1 0 -3.1 0M363.76 337.24a1.55 1.55 0 1 0 3.1 0a1.55 1.55 0 1 0 -3.1 0M363.93 339.73a1.55 1.55 0 1 0 3.1 0a1.55 1.55 0 1 0 -3.1 0M364.1 338.71a1.55 1.55 0 1 0 3.1 0a1.55 1.55 0 1 0 -3.1 0M364.27 337.5a1.55 1.55 0 1 0 3.1 0a1.55 1.55 0 1 0 -3.1 0M364.44 338.49a1.55 1.55 0 1 0 3.1 0a1.55 1.55 0 1 0 -3.1 0M364.61 337.6a1.55 1.55 0 1 0 3.1 0a1.55 1.55 0 1 0 -3.1 0M364.78 338.42a1.55 1.55 0 1 0 3.1 0a1.55 1.55 0 1 0 -3.1 0M364.95 340.94a1.55 1.55 0 1 0 3.1 0a1.55 1.55 0 1 0 -3.1 0M365.12 337.76a1.55 1.55 0 1 0 3.1 0a1.55 1.55 0 1 0 -3.1 0M365.3 338.87a1.55 1.55 0 1 0 3.1 0a1.55 1.55 0 1 0 -3.1 0M365.47 339.94a1.55 1.55 0 1 0 3.1 0a1.55 1.55 0 1 0 -3.1 0M365.64 340.4a1.55 1.55 0 1 0 3.1 0a1.55 1.55 0 1 0 -3.1 0M365.81 337.88a1.55 1.55 0 1 0 3.1 0a1.55 1.55 0 1 0 -3.1 0M365.98 338.86a1.55 1.55 0 1 0 3.1 0a1.55 1.55 0 1 0 -3.1 0M366.15 337.2a1.55 1.55 0 1 0 3.1 0a1.55 1.55 0 1 0 -3.1 0M366.32 337.55a1.55 1.55 0 1 0 3.1 0a1.55 1.55 0 1 0 -3.1 0M366.49 336.57a1.55 1.55 0 1 0 3.1 0a1.55 1.55 0 1 0 -3.1 0M366.66 337.83a1.55 1.55 0 1 0 3.1 0a1.55 1.55 0 1 0 -3.1 0M366.83 337.09a1.55 1.55 0 1 0 3.1 0a1.55 1.55 0 1 0 -3.1 0M367 337.2a1.55 1.55 0 1 0 3.1 0a1.55 1.55 0 1 0 -3.1 0M367.17 338.33a1.55 1.55 0 1 0 3.1 0a1.55 1.55 0 1 0 -3.1 0M367.34 335.47a1.55 1.55 0 1 0 3.1 0a1.55 1.55 0 1 0 -3.1 0M367.52 337.74a1.55 1.55 0 1 0 3.1 0a1.55 1.55 0 1 0 -3.1 0M367.69 335.78a1.55 1.55 0 1 0 3.1 0a1.55 1.55 0 1 0 -3.1 0M367.86 334.95a1.55 1.55 0 1 0 3.1 0a1.55 1.55 0 1 0 -3.1 0M368.03 335.95a1.55 1.55 0 1 0 3.1 0a1.55 1.55 0 1 0 -3.1 0M368.2 337.74a1.55 1.55 0 1 0 3.1 0a1.55 1.55 0 1 0 -3.1 0M368.37 334.98a1.55 1.55 0 1 0 3.1 0a1.55 1.55 0 1 0 -3.1 0M368.54 335.45a1.55 1.55 0 1 0 3.1 0a1.55 1.55 0 1 0 -3.1 0M368.71 337.16a1.55 1.55 0 1 0 3.1 0a1.55 1.55 0 1 0 -3.1 0M368.88 337.55a1.55 1.55 0 1 0 3.1 0a1.55 1.55 0 1 0 -3.1 0M369.05 335.59a1.55 1.55 0 1 0 3.1 0a1.55 1.55 0 1 0 -3.1 0M369.22 337.38a1.55 1.55 0 1 0 3.1 0a1.55 1.55 0 1 0 -3.1 0M369.39 333.86a1.55 1.55 0 1 0 3.1 0a1.55 1.55 0 1 0 -3.1 0M369.57 335.36a1.55 1.55 0 1 0 3.1 0a1.55 1.55 0 1 0 -3.1 0M369.74 335.21a1.55 1.55 0 1 0 3.1 0a1.55 1.55 0 1 0 -3.1 0M369.91 335.53a1.55 1.55 0 1 0 3.1 0a1.55 1.55 0 1 0 -3.1 0M370.08 334.47a1.55 1.55 0 1 0 3.1 0a1.55 1.55 0 1 0 -3.1 0M370.25 333.41a1.55 1.55 0 1 0 3.1 0a1.55 1.55 0 1 0 -3.1 0M370.42 335.65a1.55 1.55 0 1 0 3.1 0a1.55 1.55 0 1 0 -3.1 0M370.59 335.31a1.55 1.55 0 1 0 3.1 0a1.55 1.55 0 1 0 -3.1 0M370.76 334.44a1.55 1.55 0 1 0 3.1 0a1.55 1.55 0 1 0 -3.1 0M370.93 335.45a1.55 1.55 0 1 0 3.1 0a1.55 1.55 0 1 0 -3.1 0M371.1 334.24a1.55 1.55 0 1 0 3.1 0a1.55 1.55 0 1 0 -3.1 0M371.27 334.37a1.55 1.55 0 1 0 3.1 0a1.55 1.55 0 1 0 -3.1 0M371.44 334.71a1.55 1.55 0 1 0 3.1 0a1.55 1.55 0 1 0 -3.1 0M371.61 333.73a1.55 1.55 0 1 0 3.1 0a1.55 1.55 0 1 0 -3.1 0M371.79 334.22a1.55 1.55 0 1 0 3.1 0a1.55 1.55 0 1 0 -3.1 0M371.96 335.84a1.55 1.55 0 1 0 3.1 0a1.55 1.55 0 1 0 -3.1 0M372.13 332.31a1.55 1.55 0 1 0 3.1 0a1.55 1.55 0 1 0 -3.1 0M372.3 334.7a1.55 1.55 0 1 0 3.1 0a1.55 1.55 0 1 0 -3.1 0M372.47 334.35a1.55 1.55 0 1 0 3.1 0a1.55 1.55 0 1 0 -3.1 0M372.64 334.41a1.55 1.55 0 1 0 3.1 0a1.55 1.55 0 1 0 -3.1 0M372.81 332.34a1.55 1.55 0 1 0 3.1 0a1.55 1.55 0 1 0 -3.1 0M372.98 332.21a1.55 1.55 0 1 0 3.1 0a1.55 1.55 0 1 0 -3.1 0M373.15 333.84a1.55 1.55 0 1 0 3.1 0a1.55 1.55 0 1 0 -3.1 0M373.32 334.21a1.55 1.55 0 1 0 3.1 0a1.55 1.55 0 1 0 -3.1 0M373.49 335.33a1.55 1.55 0 1 0 3.1 0a1.55 1.55 0 1 0 -3.1 0M373.66 332.23a1.55 1.55 0 1 0 3.1 0a1.55 1.55 0 1 0 -3.1 0M373.84 334.95a1.55 1.55 0 1 0 3.1 0a1.55 1.55 0 1 0 -3.1 0M374.01 333.47a1.55 1.55 0 1 0 3.1 0a1.55 1.55 0 1 0 -3.1 0M374.18 334.19a1.55 1.55 0 1 0 3.1 0a1.55 1.55 0 1 0 -3.1 0M374.35 334.22a1.55 1.55 0 1 0 3.1 0a1.55 1.55 0 1 0 -3.1 0M374.52 334.07a1.55 1.55 0 1 0 3.1 0a1.55 1.55 0 1 0 -3.1 0M374.69 334.67a1.55 1.55 0 1 0 3.1 0a1.55 1.55 0 1 0 -3.1 0M374.86 335.22a1.55 1.55 0 1 0 3.1 0a1.55 1.55 0 1 0 -3.1 0M375.03 333.28a1.55 1.55 0 1 0 3.1 0a1.55 1.55 0 1 0 -3.1 0M375.2 332.25a1.55 1.55 0 1 0 3.1 0a1.55 1.55 0 1 0 -3.1 0M375.37 332.78a1.55 1.55 0 1 0 3.1 0a1.55 1.55 0 1 0 -3.1 0M375.54 334.45a1.55 1.55 0 1 0 3.1 0a1.55 1.55 0 1 0 -3.1 0M375.71 332.54a1.55 1.55 0 1 0 3.1 0a1.55 1.55 0 1 0 -3.1 0M375.88 334.95a1.55 1.55 0 1 0 3.1 0a1.55 1.55 0 1 0 -3.1 0M376.06 333.55a1.55 1.55 0 1 0 3.1 0a1.55 1.55 0 1 0 -3.1 0M376.23 331.93a1.55 1.55 0 1 0 3.1 0a1.55 1.55 0 1 0 -3.1 0M376.4 331.55a1.55 1.55 0 1 0 3.1 0a1.55 1.55 0 1 0 -3.1 0M376.57 333.27a1.55 1.55 0 1 0 3.1 0a1.55 1.55 0 1 0 -3.1 0M376.74 331.77a1.55 1.55 0 1 0 3.1 0a1.55 1.55 0 1 0 -3.1 0M376.91 333.07a1.55 1.55 0 1 0 3.1 0a1.55 1.55 0 1 0 -3.1 0M377.08 332.95a1.55 1.55 0 1 0 3.1 0a1.55 1.55 0 1 0 -3.1 0M377.25 332.69a1.55 1.55 0 1 0 3.1 0a1.55 1.55 0 1 0 -3.1 0M377.42 331.11a1.55 1.55 0 1 0 3.1 0a1.55 1.55 0 1 0 -3.1 0M377.59 332.03a1.55 1.55 0 1 0 3.1 0a1.55 1.55 0 1 0 -3.1 0M377.76 333.04a1.55 1.55 0 1 0 3.1 0a1.55 1.55 0 1 0 -3.1 0M377.93 332.05a1.55 1.55 0 1 0 3.1 0a1.55 1.55 0 1 0 -3.1 0M378.11 332.34a1.55 1.55 0 1 0 3.1 0a1.55 1.55 0 1 0 -3.1 0M378.28 333.43a1.55 1.55 0 1 0 3.1 0a1.55 1.55 0 1 0 -3.1 0M378.45 331.76a1.55 1.55 0 1 0 3.1 0a1.55 1.55 0 1 0 -3.1 0M378.62 331.6a1.55 1.55 0 1 0 3.1 0a1.55 1.55 0 1 0 -3.1 0M378.79 332.39a1.55 1.55 0 1 0 3.1 0a1.55 1.55 0 1 0 -3.1 0M378.96 331.09a1.55 1.55 0 1 0 3.1 0a1.55 1.55 0 1 0 -3.1 0M379.13 334.6a1.55 1.55 0 1 0 3.1 0a1.55 1.55 0 1 0 -3.1 0M379.3 332.74a1.55 1.55 0 1 0 3.1 0a1.55 1.55 0 1 0 -3.1 0M379.47 332.21a1.55 1.55 0 1 0 3.1 0a1.55 1.55 0 1 0 -3.1 0M379.64 333.31a1.55 1.55 0 1 0 3.1 0a1.55 1.55 0 1 0 -3.1 0M379.81 333.94a1.55 1.55 0 1 0 3.1 0a1.55 1.55 0 1 0 -3.1 0M379.98 331.94a1.55 1.55 0 1 0 3.1 0a1.55 1.55 0 1 0 -3.1 0M380.15 332.9a1.55 1.55 0 1 0 3.1 0a1.55 1.55 0 1 0 -3.1 0M380.33 333.52a1.55 1.55 0 1 0 3.1 0a1.55 1.55 0 1 0 -3.1 0M380.5 334.37a1.55 1.55 0 1 0 3.1 0a1.55 1.55 0 1 0 -3.1 0M380.67 331.09a1.55 1.55 0 1 0 3.1 0a1.55 1.55 0 1 0 -3.1 0M380.84 334.04a1.55 1.55 0 1 0 3.1 0a1.55 1.55 0 1 0 -3.1 0M381.01 335.49a1.55 1.55 0 1 0 3.1 0a1.55 1.55 0 1 0 -3.1 0M381.18 335.65a1.55 1.55 0 1 0 3.1 0a1.55 1.55 0 1 0 -3.1 0M381.35 336.01a1.55 1.55 0 1 0 3.1 0a1.55 1.55 0 1 0 -3.1 0M381.52 334.14a1.55 1.55 0 1 0 3.1 0a1.55 1.55 0 1 0 -3.1 0M381.69 337.2a1.55 1.55 0 1 0 3.1 0a1.55 1.55 0 1 0 -3.1 0M381.86 337.26a1.55 1.55 0 1 0 3.1 0a1.55 1.55 0 1 0 -3.1 0M382.03 338.34a1.55 1.55 0 1 0 3.1 0a1.55 1.55 0 1 0 -3.1 0M382.2 337.29a1.55 1.55 0 1 0 3.1 0a1.55 1.55 0 1 0 -3.1 0M382.38 338.65a1.55 1.55 0 1 0 3.1 0a1.55 1.55 0 1 0 -3.1 0M382.55 338.47a1.55 1.55 0 1 0 3.1 0a1.55 1.55 0 1 0 -3.1 0M382.72 337.3a1.55 1.55 0 1 0 3.1 0a1.55 1.55 0 1 0 -3.1 0M382.89 336.88a1.55 1.55 0 1 0 3.1 0a1.55 1.55 0 1 0 -3.1 0M383.06 337.52a1.55 1.55 0 1 0 3.1 0a1.55 1.55 0 1 0 -3.1 0M383.23 340.83a1.55 1.55 0 1 0 3.1 0a1.55 1.55 0 1 0 -3.1 0M383.4 339.8a1.55 1.55 0 1 0 3.1 0a1.55 1.55 0 1 0 -3.1 0M383.57 338.25a1.55 1.55 0 1 0 3.1 0a1.55 1.55 0 1 0 -3.1 0M383.74 341.61a1.55 1.55 0 1 0 3.1 0a1.55 1.55 0 1 0 -3.1 0M383.91 341.19a1.55 1.55 0 1 0 3.1 0a1.55 1.55 0 1 0 -3.1 0M384.08 340.32a1.55 1.55 0 1 0 3.1 0a1.55 1.55 0 1 0 -3.1 0M384.25 340.94a1.55 1.55 0 1 0 3.1 0a1.55 1.55 0 1 0 -3.1 0M384.42 339.74a1.55 1.55 0 1 0 3.1 0a1.55 1.55 0 1 0 -3.1 0M384.6 340.06a1.55 1.55 0 1 0 3.1 0a1.55 1.55 0 1 0 -3.1 0M384.77 341.22a1.55 1.55 0 1 0 3.1 0a1.55 1.55 0 1 0 -3.1 0M384.94 342.22a1.55 1.55 0 1 0 3.1 0a1.55 1.55 0 1 0 -3.1 0M385.11 342.46a1.55 1.55 0 1 0 3.1 0a1.55 1.55 0 1 0 -3.1 0M385.28 342.5a1.55 1.55 0 1 0 3.1 0a1.55 1.55 0 1 0 -3.1 0M385.45 343.43a1.55 1.55 0 1 0 3.1 0a1.55 1.55 0 1 0 -3.1 0M385.62 341.29a1.55 1.55 0 1 0 3.1 0a1.55 1.55 0 1 0 -3.1 0M385.79 343.38a1.55 1.55 0 1 0 3.1 0a1.55 1.55 0 1 0 -3.1 0M385.96 340.74a1.55 1.55 0 1 0 3.1 0a1.55 1.55 0 1 0 -3.1 0M386.13 341.81a1.55 1.55 0 1 0 3.1 0a1.55 1.55 0 1 0 -3.1 0M386.3 344.2a1.55 1.55 0 1 0 3.1 0a1.55 1.55 0 1 0 -3.1 0M386.47 342.64a1.55 1.55 0 1 0 3.1 0a1.55 1.55 0 1 0 -3.1 0M386.65 342.37a1.55 1.55 0 1 0 3.1 0a1.55 1.55 0 1 0 -3.1 0M386.82 344.64a1.55 1.55 0 1 0 3.1 0a1.55 1.55 0 1 0 -3.1 0M386.99 343.07a1.55 1.55 0 1 0 3.1 0a1.55 1.55 0 1 0 -3.1 0M387.16 344.93a1.55 1.55 0 1 0 3.1 0a1.55 1.55 0 1 0 -3.1 0M387.33 342.24a1.55 1.55 0 1 0 3.1 0a1.55 1.55 0 1 0 -3.1 0M387.5 345.26a1.55 1.55 0 1 0 3.1 0a1.55 1.55 0 1 0 -3.1 0M387.67 342.97a1.55 1.55 0 1 0 3.1 0a1.55 1.55 0 1 0 -3.1 0M387.84 341.73a1.55 1.55 0 1 0 3.1 0a1.55 1.55 0 1 0 -3.1 0M388.01 342.36a1.55 1.55 0 1 0 3.1 0a1.55 1.55 0 1 0 -3.1 0M388.18 344.8a1.55 1.55 0 1 0 3.1 0a1.55 1.55 0 1 0 -3.1 0M388.35 343.75a1.55 1.55 0 1 0 3.1 0a1.55 1.55 0 1 0 -3.1 0M388.52 345.35a1.55 1.55 0 1 0 3.1 0a1.55 1.55 0 1 0 -3.1 0M388.69 344.68a1.55 1.55 0 1 0 3.1 0a1.55 1.55 0 1 0 -3.1 0M388.87 342.78a1.55 1.55 0 1 0 3.1 0a1.55 1.55 0 1 0 -3.1 0M389.04 343.04a1.55 1.55 0 1 0 3.1 0a1.55 1.55 0 1 0 -3.1 0M389.21 346.21a1.55 1.55 0 1 0 3.1 0a1.55 1.55 0 1 0 -3.1 0M389.38 344.88a1.55 1.55 0 1 0 3.1 0a1.55 1.55 0 1 0 -3.1 0M389.55 343.97a1.55 1.55 0 1 0 3.1 0a1.55 1.55 0 1 0 -3.1 0M389.72 345.83a1.55 1.55 0 1 0 3.1 0a1.55 1.55 0 1 0 -3.1 0M389.89 343.51a1.55 1.55 0 1 0 3.1 0a1.55 1.55 0 1 0 -3.1 0M390.06 343.25a1.55 1.55 0 1 0 3.1 0a1.55 1.55 0 1 0 -3.1 0M390.23 344.63a1.55 1.55 0 1 0 3.1 0a1.55 1.55 0 1 0 -3.1 0M390.4 345.42a1.55 1.55 0 1 0 3.1 0a1.55 1.55 0 1 0 -3.1 0M390.57 343.64a1.55 1.55 0 1 0 3.1 0a1.55 1.55 0 1 0 -3.1 0M390.74 344.99a1.55 1.55 0 1 0 3.1 0a1.55 1.55 0 1 0 -3.1 0M390.92 346.3a1.55 1.55 0 1 0 3.1 0a1.55 1.55 0 1 0 -3.1 0M391.09 346.02a1.55 1.55 0 1 0 3.1 0a1.55 1.55 0 1 0 -3.1 0M391.26 346.54a1.55 1.55 0 1 0 3.1 0a1.55 1.55 0 1 0 -3.1 0M391.43 344.01a1.55 1.55 0 1 0 3.1 0a1.55 1.55 0 1 0 -3.1 0M391.6 345.33a1.55 1.55 0 1 0 3.1 0a1.55 1.55 0 1 0 -3.1 0M391.77 344.68a1.55 1.55 0 1 0 3.1 0a1.55 1.55 0 1 0 -3.1 0M391.94 344.28a1.55 1.55 0 1 0 3.1 0a1.55 1.55 0 1 0 -3.1 0M392.11 343.74a1.55 1.55 0 1 0 3.1 0a1.55 1.55 0 1 0 -3.1 0M392.28 346.79a1.55 1.55 0 1 0 3.1 0a1.55 1.55 0 1 0 -3.1 0M392.45 346.03a1.55 1.55 0 1 0 3.1 0a1.55 1.55 0 1 0 -3.1 0M392.62 344.29a1.55 1.55 0 1 0 3.1 0a1.55 1.55 0 1 0 -3.1 0M392.79 344.78a1.55 1.55 0 1 0 3.1 0a1.55 1.55 0 1 0 -3.1 0M392.96 346.26a1.55 1.55 0 1 0 3.1 0a1.55 1.55 0 1 0 -3.1 0M393.14 345.29a1.55 1.55 0 1 0 3.1 0a1.55 1.55 0 1 0 -3.1 0M393.31 347.1a1.55 1.55 0 1 0 3.1 0a1.55 1.55 0 1 0 -3.1 0M393.48 347.27a1.55 1.55 0 1 0 3.1 0a1.55 1.55 0 1 0 -3.1 0M393.65 347.75a1.55 1.55 0 1 0 3.1 0a1.55 1.55 0 1 0 -3.1 0M393.82 346.54a1.55 1.55 0 1 0 3.1 0a1.55 1.55 0 1 0 -3.1 0M393.99 347.13a1.55 1.55 0 1 0 3.1 0a1.55 1.55 0 1 0 -3.1 0M394.16 346.11a1.55 1.55 0 1 0 3.1 0a1.55 1.55 0 1 0 -3.1 0M394.33 344.43a1.55 1.55 0 1 0 3.1 0a1.55 1.55 0 1 0 -3.1 0M394.5 347.59a1.55 1.55 0 1 0 3.1 0a1.55 1.55 0 1 0 -3.1 0M394.67 346.09a1.55 1.55 0 1 0 3.1 0a1.55 1.55 0 1 0 -3.1 0M394.84 344.96a1.55 1.55 0 1 0 3.1 0a1.55 1.55 0 1 0 -3.1 0M395.01 346.01a1.55 1.55 0 1 0 3.1 0a1.55 1.55 0 1 0 -3.1 0M395.19 346.33a1.55 1.55 0 1 0 3.1 0a1.55 1.55 0 1 0 -3.1 0M395.36 345.45a1.55 1.55 0 1 0 3.1 0a1.55 1.55 0 1 0 -3.1 0M395.53 348.34a1.55 1.55 0 1 0 3.1 0a1.55 1.55 0 1 0 -3.1 0M395.7 344.84a1.55 1.55 0 1 0 3.1 0a1.55 1.55 0 1 0 -3.1 0M395.87 345.84a1.55 1.55 0 1 0 3.1 0a1.55 1.55 0 1 0 -3.1 0M396.04 344.93a1.55 1.55 0 1 0 3.1 0a1.55 1.55 0 1 0 -3.1 0M396.21 343.79a1.55 1.55 0 1 0 3.1 0a1.55 1.55 0 1 0 -3.1 0M396.38 345.59a1.55 1.55 0 1 0 3.1 0a1.55 1.55 0 1 0 -3.1 0M396.55 344.78a1.55 1.55 0 1 0 3.1 0a1.55 1.55 0 1 0 -3.1 0M396.72 343.47a1.55 1.55 0 1 0 3.1 0a1.55 1.55 0 1 0 -3.1 0M396.89 341.4a1.55 1.55 0 1 0 3.1 0a1.55 1.55 0 1 0 -3.1 0M397.06 338.97a1.55 1.55 0 1 0 3.1 0a1.55 1.55 0 1 0 -3.1 0M397.23 338.34a1.55 1.55 0 1 0 3.1 0a1.55 1.55 0 1 0 -3.1 0M397.41 339.54a1.55 1.55 0 1 0 3.1 0a1.55 1.55 0 1 0 -3.1 0M397.58 338.09a1.55 1.55 0 1 0 3.1 0a1.55 1.55 0 1 0 -3.1 0M397.75 337.02a1.55 1.55 0 1 0 3.1 0a1.55 1.55 0 1 0 -3.1 0M397.92 337.97a1.55 1.55 0 1 0 3.1 0a1.55 1.55 0 1 0 -3.1 0M398.09 334.98a1.55 1.55 0 1 0 3.1 0a1.55 1.55 0 1 0 -3.1 0M398.26 334.56a1.55 1.55 0 1 0 3.1 0a1.55 1.55 0 1 0 -3.1 0M398.43 334.86a1.55 1.55 0 1 0 3.1 0a1.55 1.55 0 1 0 -3.1 0M398.6 333.71a1.55 1.55 0 1 0 3.1 0a1.55 1.55 0 1 0 -3.1 0M398.77 333.64a1.55 1.55 0 1 0 3.1 0a1.55 1.55 0 1 0 -3.1 0M398.94 333.76a1.55 1.55 0 1 0 3.1 0a1.55 1.55 0 1 0 -3.1 0M399.11 334.6a1.55 1.55 0 1 0 3.1 0a1.55 1.55 0 1 0 -3.1 0M399.28 334.35a1.55 1.55 0 1 0 3.1 0a1.55 1.55 0 1 0 -3.1 0M399.46 334.12a1.55 1.55 0 1 0 3.1 0a1.55 1.55 0 1 0 -3.1 0M399.63 334.44a1.55 1.55 0 1 0 3.1 0a1.55 1.55 0 1 0 -3.1 0M399.8 330.77a1.55 1.55 0 1 0 3.1 0a1.55 1.55 0 1 0 -3.1 0M399.97 332.82a1.55 1.55 0 1 0 3.1 0a1.55 1.55 0 1 0 -3.1 0M400.14 333.54a1.55 1.55 0 1 0 3.1 0a1.55 1.55 0 1 0 -3.1 0M400.31 332.1a1.55 1.55 0 1 0 3.1 0a1.55 1.55 0 1 0 -3.1 0M400.48 332.61a1.55 1.55 0 1 0 3.1 0a1.55 1.55 0 1 0 -3.1 0M400.65 331.01a1.55 1.55 0 1 0 3.1 0a1.55 1.55 0 1 0 -3.1 0M400.82 331.15a1.55 1.55 0 1 0 3.1 0a1.55 1.55 0 1 0 -3.1 0M400.99 331.48a1.55 1.55 0 1 0 3.1 0a1.55 1.55 0 1 0 -3.1 0M401.16 330.06a1.55 1.55 0 1 0 3.1 0a1.55 1.55 0 1 0 -3.1 0M401.33 330.04a1.55 1.55 0 1 0 3.1 0a1.55 1.55 0 1 0 -3.1 0M401.5 330.02a1.55 1.55 0 1 0 3.1 0a1.55 1.55 0 1 0 -3.1 0M401.68 328.03a1.55 1.55 0 1 0 3.1 0a1.55 1.55 0 1 0 -3.1 0M401.85 329.73a1.55 1.55 0 1 0 3.1 0a1.55 1.55 0 1 0 -3.1 0M402.02 328.61a1.55 1.55 0 1 0 3.1 0a1.55 1.55 0 1 0 -3.1 0M402.19 327.1a1.55 1.55 0 1 0 3.1 0a1.55 1.55 0 1 0 -3.1 0M402.36 326.58a1.55 1.55 0 1 0 3.1 0a1.55 1.55 0 1 0 -3.1 0M402.53 328.6a1.55 1.55 0 1 0 3.1 0a1.55 1.55 0 1 0 -3.1 0M402.7 329.67a1.55 1.55 0 1 0 3.1 0a1.55 1.55 0 1 0 -3.1 0M402.87 326a1.55 1.55 0 1 0 3.1 0a1.55 1.55 0 1 0 -3.1 0M403.04 327.47a1.55 1.55 0 1 0 3.1 0a1.55 1.55 0 1 0 -3.1 0M403.21 328.42a1.55 1.55 0 1 0 3.1 0a1.55 1.55 0 1 0 -3.1 0M403.38 328.58a1.55 1.55 0 1 0 3.1 0a1.55 1.55 0 1 0 -3.1 0M403.55 327.98a1.55 1.55 0 1 0 3.1 0a1.55 1.55 0 1 0 -3.1 0M403.73 327.54a1.55 1.55 0 1 0 3.1 0a1.55 1.55 0 1 0 -3.1 0M403.9 328.02a1.55 1.55 0 1 0 3.1 0a1.55 1.55 0 1 0 -3.1 0M404.07 328.2a1.55 1.55 0 1 0 3.1 0a1.55 1.55 0 1 0 -3.1 0M404.24 324.43a1.55 1.55 0 1 0 3.1 0a1.55 1.55 0 1 0 -3.1 0M404.41 324.94a1.55 1.55 0 1 0 3.1 0a1.55 1.55 0 1 0 -3.1 0M404.58 327.49a1.55 1.55 0 1 0 3.1 0a1.55 1.55 0 1 0 -3.1 0M404.75 325.94a1.55 1.55 0 1 0 3.1 0a1.55 1.55 0 1 0 -3.1 0M404.92 324.57a1.55 1.55 0 1 0 3.1 0a1.55 1.55 0 1 0 -3.1 0M405.09 325.56a1.55 1.55 0 1 0 3.1 0a1.55 1.55 0 1 0 -3.1 0M405.26 327.08a1.55 1.55 0 1 0 3.1 0a1.55 1.55 0 1 0 -3.1 0M405.43 325.91a1.55 1.55 0 1 0 3.1 0a1.55 1.55 0 1 0 -3.1 0M405.6 325.63a1.55 1.55 0 1 0 3.1 0a1.55 1.55 0 1 0 -3.1 0M405.77 323.46a1.55 1.55 0 1 0 3.1 0a1.55 1.55 0 1 0 -3.1 0M405.95 324.6a1.55 1.55 0 1 0 3.1 0a1.55 1.55 0 1 0 -3.1 0M406.12 324.95a1.55 1.55 0 1 0 3.1 0a1.55 1.55 0 1 0 -3.1 0M406.29 324.17a1.55 1.55 0 1 0 3.1 0a1.55 1.55 0 1 0 -3.1 0M406.46 326.27a1.55 1.55 0 1 0 3.1 0a1.55 1.55 0 1 0 -3.1 0M406.63 323.73a1.55 1.55 0 1 0 3.1 0a1.55 1.55 0 1 0 -3.1 0M406.8 323.15a1.55 1.55 0 1 0 3.1 0a1.55 1.55 0 1 0 -3.1 0M406.97 323.56a1.55 1.55 0 1 0 3.1 0a1.55 1.55 0 1 0 -3.1 0M407.14 324.63a1.55 1.55 0 1 0 3.1 0a1.55 1.55 0 1 0 -3.1 0M407.31 324.81a1.55 1.55 0 1 0 3.1 0a1.55 1.55 0 1 0 -3.1 0M407.48 325.76a1.55 1.55 0 1 0 3.1 0a1.55 1.55 0 1 0 -3.1 0M407.65 325.39a1.55 1.55 0 1 0 3.1 0a1.55 1.55 0 1 0 -3.1 0M407.82 325.01a1.55 1.55 0 1 0 3.1 0a1.55 1.55 0 1 0 -3.1 0M408 323.77a1.55 1.55 0 1 0 3.1 0a1.55 1.55 0 1 0 -3.1 0M408.17 322.44a1.55 1.55 0 1 0 3.1 0a1.55 1.55 0 1 0 -3.1 0M408.34 324.49a1.55 1.55 0 1 0 3.1 0a1.55 1.55 0 1 0 -3.1 0M408.51 323.42a1.55 1.55 0 1 0 3.1 0a1.55 1.55 0 1 0 -3.1 0M408.68 322.71a1.55 1.55 0 1 0 3.1 0a1.55 1.55 0 1 0 -3.1 0M408.85 322.64a1.55 1.55 0 1 0 3.1 0a1.55 1.55 0 1 0 -3.1 0M409.02 324.88a1.55 1.55 0 1 0 3.1 0a1.55 1.55 0 1 0 -3.1 0M409.19 321.36a1.55 1.55 0 1 0 3.1 0a1.55 1.55 0 1 0 -3.1 0M409.36 322.56a1.55 1.55 0 1 0 3.1 0a1.55 1.55 0 1 0 -3.1 0M409.53 323.55a1.55 1.55 0 1 0 3.1 0a1.55 1.55 0 1 0 -3.1 0M409.7 323.72a1.55 1.55 0 1 0 3.1 0a1.55 1.55 0 1 0 -3.1 0M409.87 321.93a1.55 1.55 0 1 0 3.1 0a1.55 1.55 0 1 0 -3.1 0M410.04 320.92a1.55 1.55 0 1 0 3.1 0a1.55 1.55 0 1 0 -3.1 0M410.22 323.12a1.55 1.55 0 1 0 3.1 0a1.55 1.55 0 1 0 -3.1 0M410.39 322.81a1.55 1.55 0 1 0 3.1 0a1.55 1.55 0 1 0 -3.1 0M410.56 322.13a1.55 1.55 0 1 0 3.1 0a1.55 1.55 0 1 0 -3.1 0M410.73 324.26a1.55 1.55 0 1 0 3.1 0a1.55 1.55 0 1 0 -3.1 0M410.9 324.32a1.55 1.55 0 1 0 3.1 0a1.55 1.55 0 1 0 -3.1 0M411.07 323.25a1.55 1.55 0 1 0 3.1 0a1.55 1.55 0 1 0 -3.1 0M411.24 325.45a1.55 1.55 0 1 0 3.1 0a1.55 1.55 0 1 0 -3.1 0M411.41 325.22a1.55 1.55 0 1 0 3.1 0a1.55 1.55 0 1 0 -3.1 0M411.58 328.11a1.55 1.55 0 1 0 3.1 0a1.55 1.55 0 1 0 -3.1 0M411.75 326.48a1.55 1.55 0 1 0 3.1 0a1.55 1.55 0 1 0 -3.1 0M411.92 327.46a1.55 1.55 0 1 0 3.1 0a1.55 1.55 0 1 0 -3.1 0M412.09 330.22a1.55 1.55 0 1 0 3.1 0a1.55 1.55 0 1 0 -3.1 0M412.27 329.65a1.55 1.55 0 1 0 3.1 0a1.55 1.55 0 1 0 -3.1 0M412.44 329.62a1.55 1.55 0 1 0 3.1 0a1.55 1.55 0 1 0 -3.1 0M412.61 330.57a1.55 1.55 0 1 0 3.1 0a1.55 1.55 0 1 0 -3.1 0M412.78 330.97a1.55 1.55 0 1 0 3.1 0a1.55 1.55 0 1 0 -3.1 0M412.95 332.83a1.55 1.55 0 1 0 3.1 0a1.55 1.55 0 1 0 -3.1 0M413.12 332.09a1.55 1.55 0 1 0 3.1 0a1.55 1.55 0 1 0 -3.1 0M413.29 333.29a1.55 1.55 0 1 0 3.1 0a1.55 1.55 0 1 0 -3.1 0M413.46 332.01a1.55 1.55 0 1 0 3.1 0a1.55 1.55 0 1 0 -3.1 0M413.63 334.03a1.55 1.55 0 1 0 3.1 0a1.55 1.55 0 1 0 -3.1 0M413.8 332.09a1.55 1.55 0 1 0 3.1 0a1.55 1.55 0 1 0 -3.1 0M413.97 333.98a1.55 1.55 0 1 0 3.1 0a1.55 1.55 0 1 0 -3.1 0M414.14 335.67a1.55 1.55 0 1 0 3.1 0a1.55 1.55 0 1 0 -3.1 0M414.31 335.29a1.55 1.55 0 1 0 3.1 0a1.55 1.55 0 1 0 -3.1 0M414.49 336.71a1.55 1.55 0 1 0 3.1 0a1.55 1.55 0 1 0 -3.1 0M414.66 334.69a1.55 1.55 0 1 0 3.1 0a1.55 1.55 0 1 0 -3.1 0M414.83 337.62a1.55 1.55 0 1 0 3.1 0a1.55 1.55 0 1 0 -3.1 0M415 335.77a1.55 1.55 0 1 0 3.1 0a1.55 1.55 0 1 0 -3.1 0M415.17 337.18a1.55 1.55 0 1 0 3.1 0a1.55 1.55 0 1 0 -3.1 0M415.34 335.65a1.55 1.55 0 1 0 3.1 0a1.55 1.55 0 1 0 -3.1 0M415.51 338.38a1.55 1.55 0 1 0 3.1 0a1.55 1.55 0 1 0 -3.1 0M415.68 336.51a1.55 1.55 0 1 0 3.1 0a1.55 1.55 0 1 0 -3.1 0M415.85 336.62a1.55 1.55 0 1 0 3.1 0a1.55 1.55 0 1 0 -3.1 0M416.02 338.68a1.55 1.55 0 1 0 3.1 0a1.55 1.55 0 1 0 -3.1 0M416.19 339.3a1.55 1.55 0 1 0 3.1 0a1.55 1.55 0 1 0 -3.1 0M416.36 338.58a1.55 1.55 0 1 0 3.1 0a1.55 1.55 0 1 0 -3.1 0M416.54 337.73a1.55 1.55 0 1 0 3.1 0a1.55 1.55 0 1 0 -3.1 0M416.71 339.42a1.55 1.55 0 1 0 3.1 0a1.55 1.55 0 1 0 -3.1 0M416.88 340.57a1.55 1.55 0 1 0 3.1 0a1.55 1.55 0 1 0 -3.1 0M417.05 339.1a1.55 1.55 0 1 0 3.1 0a1.55 1.55 0 1 0 -3.1 0M417.22 337.88a1.55 1.55 0 1 0 3.1 0a1.55 1.55 0 1 0 -3.1 0M417.39 340.54a1.55 1.55 0 1 0 3.1 0a1.55 1.55 0 1 0 -3.1 0M417.56 337.72a1.55 1.55 0 1 0 3.1 0a1.55 1.55 0 1 0 -3.1 0M417.73 339.54a1.55 1.55 0 1 0 3.1 0a1.55 1.55 0 1 0 -3.1 0M417.9 341.03a1.55 1.55 0 1 0 3.1 0a1.55 1.55 0 1 0 -3.1 0M418.07 341.41a1.55 1.55 0 1 0 3.1 0a1.55 1.55 0 1 0 -3.1 0M418.24 340.53a1.55 1.55 0 1 0 3.1 0a1.55 1.55 0 1 0 -3.1 0M418.41 340.27a1.55 1.55 0 1 0 3.1 0a1.55 1.55 0 1 0 -3.1 0M418.58 341.56a1.55 1.55 0 1 0 3.1 0a1.55 1.55 0 1 0 -3.1 0M418.76 342.05a1.55 1.55 0 1 0 3.1 0a1.55 1.55 0 1 0 -3.1 0M418.93 340.6a1.55 1.55 0 1 0 3.1 0a1.55 1.55 0 1 0 -3.1 0M419.1 341.67a1.55 1.55 0 1 0 3.1 0a1.55 1.55 0 1 0 -3.1 0M419.27 341.07a1.55 1.55 0 1 0 3.1 0a1.55 1.55 0 1 0 -3.1 0M419.44 341.17a1.55 1.55 0 1 0 3.1 0a1.55 1.55 0 1 0 -3.1 0M419.61 340.35a1.55 1.55 0 1 0 3.1 0a1.55 1.55 0 1 0 -3.1 0M419.78 340.93a1.55 1.55 0 1 0 3.1 0a1.55 1.55 0 1 0 -3.1 0M419.95 342.37a1.55 1.55 0 1 0 3.1 0a1.55 1.55 0 1 0 -3.1 0M420.12 342.67a1.55 1.55 0 1 0 3.1 0a1.55 1.55 0 1 0 -3.1 0M420.29 340.19a1.55 1.55 0 1 0 3.1 0a1.55 1.55 0 1 0 -3.1 0M420.46 343.38a1.55 1.55 0 1 0 3.1 0a1.55 1.55 0 1 0 -3.1 0M420.63 343.2a1.55 1.55 0 1 0 3.1 0a1.55 1.55 0 1 0 -3.1 0M420.81 343.51a1.55 1.55 0 1 0 3.1 0a1.55 1.55 0 1 0 -3.1 0M420.98 340.72a1.55 1.55 0 1 0 3.1 0a1.55 1.55 0 1 0 -3.1 0M421.15 341.9a1.55 1.55 0 1 0 3.1 0a1.55 1.55 0 1 0 -3.1 0M421.32 340.54a1.55 1.55 0 1 0 3.1 0a1.55 1.55 0 1 0 -3.1 0M421.49 341.76a1.55 1.55 0 1 0 3.1 0a1.55 1.55 0 1 0 -3.1 0M421.66 342.96a1.55 1.55 0 1 0 3.1 0a1.55 1.55 0 1 0 -3.1 0M421.83 342.69a1.55 1.55 0 1 0 3.1 0a1.55 1.55 0 1 0 -3.1 0M422 341.62a1.55 1.55 0 1 0 3.1 0a1.55 1.55 0 1 0 -3.1 0M422.17 343.61a1.55 1.55 0 1 0 3.1 0a1.55 1.55 0 1 0 -3.1 0M422.34 341.51a1.55 1.55 0 1 0 3.1 0a1.55 1.55 0 1 0 -3.1 0M422.51 343.1a1.55 1.55 0 1 0 3.1 0a1.55 1.55 0 1 0 -3.1 0M422.68 344.57a1.55 1.55 0 1 0 3.1 0a1.55 1.55 0 1 0 -3.1 0M422.85 343.49a1.55 1.55 0 1 0 3.1 0a1.55 1.55 0 1 0 -3.1 0M423.03 342.74a1.55 1.55 0 1 0 3.1 0a1.55 1.55 0 1 0 -3.1 0M423.2 344.39a1.55 1.55 0 1 0 3.1 0a1.55 1.55 0 1 0 -3.1 0M423.37 341.56a1.55 1.55 0 1 0 3.1 0a1.55 1.55 0 1 0 -3.1 0M423.54 341.55a1.55 1.55 0 1 0 3.1 0a1.55 1.55 0 1 0 -3.1 0M423.71 343.2a1.55 1.55 0 1 0 3.1 0a1.55 1.55 0 1 0 -3.1 0M423.88 341.76a1.55 1.55 0 1 0 3.1 0a1.55 1.55 0 1 0 -3.1 0M424.05 342.65a1.55 1.55 0 1 0 3.1 0a1.55 1.55 0 1 0 -3.1 0M424.22 343.29a1.55 1.55 0 1 0 3.1 0a1.55 1.55 0 1 0 -3.1 0M424.39 344.8a1.55 1.55 0 1 0 3.1 0a1.55 1.55 0 1 0 -3.1 0M424.56 341.82a1.55 1.55 0 1 0 3.1 0a1.55 1.55 0 1 0 -3.1 0M424.73 342.01a1.55 1.55 0 1 0 3.1 0a1.55 1.55 0 1 0 -3.1 0M424.9 343.8a1.55 1.55 0 1 0 3.1 0a1.55 1.55 0 1 0 -3.1 0M425.08 342.91a1.55 1.55 0 1 0 3.1 0a1.55 1.55 0 1 0 -3.1 0M425.16 341.95a1.55 1.55 0 1 0 3.1 0a1.55 1.55 0 1 0 -3.1 0M425.25 339.34a1.55 1.55 0 1 0 3.1 0a1.55 1.55 0 1 0 -3.1 0M425.33 337.95a1.55 1.55 0 1 0 3.1 0a1.55 1.55 0 1 0 -3.1 0M425.42 337.88a1.55 1.55 0 1 0 3.1 0a1.55 1.55 0 1 0 -3.1 0M425.59 336.08a1.55 1.55 0 1 0 3.1 0a1.55 1.55 0 1 0 -3.1 0M425.76 332.82a1.55 1.55 0 1 0 3.1 0a1.55 1.55 0 1 0 -3.1 0M425.93 330.31a1.55 1.55 0 1 0 3.1 0a1.55 1.55 0 1 0 -3.1 0M426.1 331.03a1.55 1.55 0 1 0 3.1 0a1.55 1.55 0 1 0 -3.1 0M426.27 329.04a1.55 1.55 0 1 0 3.1 0a1.55 1.55 0 1 0 -3.1 0M426.44 326.23a1.55 1.55 0 1 0 3.1 0a1.55 1.55 0 1 0 -3.1 0M426.61 327.23a1.55 1.55 0 1 0 3.1 0a1.55 1.55 0 1 0 -3.1 0M426.78 323.05a1.55 1.55 0 1 0 3.1 0a1.55 1.55 0 1 0 -3.1 0M426.95 323.82a1.55 1.55 0 1 0 3.1 0a1.55 1.55 0 1 0 -3.1 0M427.12 320.82a1.55 1.55 0 1 0 3.1 0a1.55 1.55 0 1 0 -3.1 0M427.3 321.28a1.55 1.55 0 1 0 3.1 0a1.55 1.55 0 1 0 -3.1 0M427.47 321.46a1.55 1.55 0 1 0 3.1 0a1.55 1.55 0 1 0 -3.1 0M427.64 321.17a1.55 1.55 0 1 0 3.1 0a1.55 1.55 0 1 0 -3.1 0M427.81 320.02a1.55 1.55 0 1 0 3.1 0a1.55 1.55 0 1 0 -3.1 0M427.98 318.7a1.55 1.55 0 1 0 3.1 0a1.55 1.55 0 1 0 -3.1 0M428.15 316.1a1.55 1.55 0 1 0 3.1 0a1.55 1.55 0 1 0 -3.1 0M428.32 315.3a1.55 1.55 0 1 0 3.1 0a1.55 1.55 0 1 0 -3.1 0M428.49 315.29a1.55 1.55 0 1 0 3.1 0a1.55 1.55 0 1 0 -3.1 0M428.66 315.92a1.55 1.55 0 1 0 3.1 0a1.55 1.55 0 1 0 -3.1 0M428.83 314a1.55 1.55 0 1 0 3.1 0a1.55 1.55 0 1 0 -3.1 0M429 313.2a1.55 1.55 0 1 0 3.1 0a1.55 1.55 0 1 0 -3.1 0M429.17 314.08a1.55 1.55 0 1 0 3.1 0a1.55 1.55 0 1 0 -3.1 0M429.35 314.68a1.55 1.55 0 1 0 3.1 0a1.55 1.55 0 1 0 -3.1 0M429.52 312.74a1.55 1.55 0 1 0 3.1 0a1.55 1.55 0 1 0 -3.1 0M429.69 313.23a1.55 1.55 0 1 0 3.1 0a1.55 1.55 0 1 0 -3.1 0M429.86 312.93a1.55 1.55 0 1 0 3.1 0a1.55 1.55 0 1 0 -3.1 0M430.03 311.75a1.55 1.55 0 1 0 3.1 0a1.55 1.55 0 1 0 -3.1 0M430.2 312.56a1.55 1.55 0 1 0 3.1 0a1.55 1.55 0 1 0 -3.1 0M430.37 309.03a1.55 1.55 0 1 0 3.1 0a1.55 1.55 0 1 0 -3.1 0M430.54 311.02a1.55 1.55 0 1 0 3.1 0a1.55 1.55 0 1 0 -3.1 0M430.71 308.31a1.55 1.55 0 1 0 3.1 0a1.55 1.55 0 1 0 -3.1 0M430.88 308.58a1.55 1.55 0 1 0 3.1 0a1.55 1.55 0 1 0 -3.1 0M431.05 311.03a1.55 1.55 0 1 0 3.1 0a1.55 1.55 0 1 0 -3.1 0M431.22 307.32a1.55 1.55 0 1 0 3.1 0a1.55 1.55 0 1 0 -3.1 0M431.39 307.35a1.55 1.55 0 1 0 3.1 0a1.55 1.55 0 1 0 -3.1 0M431.57 308.14a1.55 1.55 0 1 0 3.1 0a1.55 1.55 0 1 0 -3.1 0M431.74 306.48a1.55 1.55 0 1 0 3.1 0a1.55 1.55 0 1 0 -3.1 0M431.91 307.75a1.55 1.55 0 1 0 3.1 0a1.55 1.55 0 1 0 -3.1 0M432.08 309.2a1.55 1.55 0 1 0 3.1 0a1.55 1.55 0 1 0 -3.1 0M432.25 308.46a1.55 1.55 0 1 0 3.1 0a1.55 1.55 0 1 0 -3.1 0M432.42 307.59a1.55 1.55 0 1 0 3.1 0a1.55 1.55 0 1 0 -3.1 0M432.59 305.25a1.55 1.55 0 1 0 3.1 0a1.55 1.55 0 1 0 -3.1 0M432.76 305.12a1.55 1.55 0 1 0 3.1 0a1.55 1.55 0 1 0 -3.1 0M432.93 307.6a1.55 1.55 0 1 0 3.1 0a1.55 1.55 0 1 0 -3.1 0M433.1 306.48a1.55 1.55 0 1 0 3.1 0a1.55 1.55 0 1 0 -3.1 0M433.27 307.17a1.55 1.55 0 1 0 3.1 0a1.55 1.55 0 1 0 -3.1 0M433.44 306.51a1.55 1.55 0 1 0 3.1 0a1.55 1.55 0 1 0 -3.1 0M433.62 305.82a1.55 1.55 0 1 0 3.1 0a1.55 1.55 0 1 0 -3.1 0M433.79 305.38a1.55 1.55 0 1 0 3.1 0a1.55 1.55 0 1 0 -3.1 0M433.96 306.18a1.55 1.55 0 1 0 3.1 0a1.55 1.55 0 1 0 -3.1 0M434.13 304.05a1.55 1.55 0 1 0 3.1 0a1.55 1.55 0 1 0 -3.1 0M434.3 305.44a1.55 1.55 0 1 0 3.1 0a1.55 1.55 0 1 0 -3.1 0M434.47 302.78a1.55 1.55 0 1 0 3.1 0a1.55 1.55 0 1 0 -3.1 0M434.64 304.16a1.55 1.55 0 1 0 3.1 0a1.55 1.55 0 1 0 -3.1 0M434.81 304.18a1.55 1.55 0 1 0 3.1 0a1.55 1.55 0 1 0 -3.1 0M434.98 302.72a1.55 1.55 0 1 0 3.1 0a1.55 1.55 0 1 0 -3.1 0M435.15 304.16a1.55 1.55 0 1 0 3.1 0a1.55 1.55 0 1 0 -3.1 0M435.32 304.33a1.55 1.55 0 1 0 3.1 0a1.55 1.55 0 1 0 -3.1 0M435.49 304.68a1.55 1.55 0 1 0 3.1 0a1.55 1.55 0 1 0 -3.1 0M435.66 303.87a1.55 1.55 0 1 0 3.1 0a1.55 1.55 0 1 0 -3.1 0M435.84 303.95a1.55 1.55 0 1 0 3.1 0a1.55 1.55 0 1 0 -3.1 0M436.01 301.89a1.55 1.55 0 1 0 3.1 0a1.55 1.55 0 1 0 -3.1 0M436.18 303.19a1.55 1.55 0 1 0 3.1 0a1.55 1.55 0 1 0 -3.1 0M436.35 301.71a1.55 1.55 0 1 0 3.1 0a1.55 1.55 0 1 0 -3.1 0M436.52 303.21a1.55 1.55 0 1 0 3.1 0a1.55 1.55 0 1 0 -3.1 0M436.69 303.86a1.55 1.55 0 1 0 3.1 0a1.55 1.55 0 1 0 -3.1 0M436.86 302.83a1.55 1.55 0 1 0 3.1 0a1.55 1.55 0 1 0 -3.1 0M437.03 302.37a1.55 1.55 0 1 0 3.1 0a1.55 1.55 0 1 0 -3.1 0M437.2 300.26a1.55 1.55 0 1 0 3.1 0a1.55 1.55 0 1 0 -3.1 0M437.37 302.85a1.55 1.55 0 1 0 3.1 0a1.55 1.55 0 1 0 -3.1 0M437.54 302.69a1.55 1.55 0 1 0 3.1 0a1.55 1.55 0 1 0 -3.1 0M437.71 302.78a1.55 1.55 0 1 0 3.1 0a1.55 1.55 0 1 0 -3.1 0M437.89 302.29a1.55 1.55 0 1 0 3.1 0a1.55 1.55 0 1 0 -3.1 0M438.06 299.48a1.55 1.55 0 1 0 3.1 0a1.55 1.55 0 1 0 -3.1 0M438.23 299.48a1.55 1.55 0 1 0 3.1 0a1.55 1.55 0 1 0 -3.1 0M438.4 302.06a1.55 1.55 0 1 0 3.1 0a1.55 1.55 0 1 0 -3.1 0M438.57 302.64a1.55 1.55 0 1 0 3.1 0a1.55 1.55 0 1 0 -3.1 0M438.74 300.87a1.55 1.55 0 1 0 3.1 0a1.55 1.55 0 1 0 -3.1 0M438.91 300.39a1.55 1.55 0 1 0 3.1 0a1.55 1.55 0 1 0 -3.1 0M439.08 302.1a1.55 1.55 0 1 0 3.1 0a1.55 1.55 0 1 0 -3.1 0M439.25 300.83a1.55 1.55 0 1 0 3.1 0a1.55 1.55 0 1 0 -3.1 0M439.42 299.4a1.55 1.55 0 1 0 3.1 0a1.55 1.55 0 1 0 -3.1 0M439.59 302.24a1.55 1.55 0 1 0 3.1 0a1.55 1.55 0 1 0 -3.1 0M439.76 300.73a1.55 1.55 0 1 0 3.1 0a1.55 1.55 0 1 0 -3.1 0M439.93 302.56a1.55 1.55 0 1 0 3.1 0a1.55 1.55 0 1 0 -3.1 0M440.11 303.79a1.55 1.55 0 1 0 3.1 0a1.55 1.55 0 1 0 -3.1 0M440.28 306.44a1.55 1.55 0 1 0 3.1 0a1.55 1.55 0 1 0 -3.1 0M440.45 307.96a1.55 1.55 0 1 0 3.1 0a1.55 1.55 0 1 0 -3.1 0M440.62 309.13a1.55 1.55 0 1 0 3.1 0a1.55 1.55 0 1 0 -3.1 0M440.79 311.86a1.55 1.55 0 1 0 3.1 0a1.55 1.55 0 1 0 -3.1 0M440.96 311.64a1.55 1.55 0 1 0 3.1 0a1.55 1.55 0 1 0 -3.1 0M441.13 313.85a1.55 1.55 0 1 0 3.1 0a1.55 1.55 0 1 0 -3.1 0M441.3 314.63a1.55 1.55 0 1 0 3.1 0a1.55 1.55 0 1 0 -3.1 0M441.47 316.73a1.55 1.55 0 1 0 3.1 0a1.55 1.55 0 1 0 -3.1 0M441.64 317.29a1.55 1.55 0 1 0 3.1 0a1.55 1.55 0 1 0 -3.1 0M441.81 318.63a1.55 1.55 0 1 0 3.1 0a1.55 1.55 0 1 0 -3.1 0M441.98 317.66a1.55 1.55 0 1 0 3.1 0a1.55 1.55 0 1 0 -3.1 0M442.16 319.68a1.55 1.55 0 1 0 3.1 0a1.55 1.55 0 1 0 -3.1 0M442.33 319.28a1.55 1.55 0 1 0 3.1 0a1.55 1.55 0 1 0 -3.1 0M442.5 320.25a1.55 1.55 0 1 0 3.1 0a1.55 1.55 0 1 0 -3.1 0M442.67 322.02a1.55 1.55 0 1 0 3.1 0a1.55 1.55 0 1 0 -3.1 0M442.84 323.13a1.55 1.55 0 1 0 3.1 0a1.55 1.55 0 1 0 -3.1 0M443.01 322.02a1.55 1.55 0 1 0 3.1 0a1.55 1.55 0 1 0 -3.1 0M443.18 322.35a1.55 1.55 0 1 0 3.1 0a1.55 1.55 0 1 0 -3.1 0M443.35 322.92a1.55 1.55 0 1 0 3.1 0a1.55 1.55 0 1 0 -3.1 0M443.52 324.2a1.55 1.55 0 1 0 3.1 0a1.55 1.55 0 1 0 -3.1 0M443.69 324.49a1.55 1.55 0 1 0 3.1 0a1.55 1.55 0 1 0 -3.1 0M443.86 327.15a1.55 1.55 0 1 0 3.1 0a1.55 1.55 0 1 0 -3.1 0M444.03 326.6a1.55 1.55 0 1 0 3.1 0a1.55 1.55 0 1 0 -3.1 0M444.2 325.2a1.55 1.55 0 1 0 3.1 0a1.55 1.55 0 1 0 -3.1 0M444.38 327.29a1.55 1.55 0 1 0 3.1 0a1.55 1.55 0 1 0 -3.1 0M444.55 328.8a1.55 1.55 0 1 0 3.1 0a1.55 1.55 0 1 0 -3.1 0M444.72 328.02a1.55 1.55 0 1 0 3.1 0a1.55 1.55 0 1 0 -3.1 0M444.89 326.87a1.55 1.55 0 1 0 3.1 0a1.55 1.55 0 1 0 -3.1 0M445.06 330.08a1.55 1.55 0 1 0 3.1 0a1.55 1.55 0 1 0 -3.1 0M445.23 330.42a1.55 1.55 0 1 0 3.1 0a1.55 1.55 0 1 0 -3.1 0M445.4 329.32a1.55 1.55 0 1 0 3.1 0a1.55 1.55 0 1 0 -3.1 0M445.57 328.25a1.55 1.55 0 1 0 3.1 0a1.55 1.55 0 1 0 -3.1 0M445.74 330.44a1.55 1.55 0 1 0 3.1 0a1.55 1.55 0 1 0 -3.1 0M445.91 331.32a1.55 1.55 0 1 0 3.1 0a1.55 1.55 0 1 0 -3.1 0M446.08 329.66a1.55 1.55 0 1 0 3.1 0a1.55 1.55 0 1 0 -3.1 0M446.25 332.54a1.55 1.55 0 1 0 3.1 0a1.55 1.55 0 1 0 -3.1 0M446.43 332.07a1.55 1.55 0 1 0 3.1 0a1.55 1.55 0 1 0 -3.1 0M446.6 331.21a1.55 1.55 0 1 0 3.1 0a1.55 1.55 0 1 0 -3.1 0M446.77 330.53a1.55 1.55 0 1 0 3.1 0a1.55 1.55 0 1 0 -3.1 0M446.94 330.76a1.55 1.55 0 1 0 3.1 0a1.55 1.55 0 1 0 -3.1 0M447.11 333.06a1.55 1.55 0 1 0 3.1 0a1.55 1.55 0 1 0 -3.1 0M447.28 333.54a1.55 1.55 0 1 0 3.1 0a1.55 1.55 0 1 0 -3.1 0M447.45 333.41a1.55 1.55 0 1 0 3.1 0a1.55 1.55 0 1 0 -3.1 0M447.62 334.57a1.55 1.55 0 1 0 3.1 0a1.55 1.55 0 1 0 -3.1 0M447.79 334.22a1.55 1.55 0 1 0 3.1 0a1.55 1.55 0 1 0 -3.1 0M447.96 332.56a1.55 1.55 0 1 0 3.1 0a1.55 1.55 0 1 0 -3.1 0M448.13 331.96a1.55 1.55 0 1 0 3.1 0a1.55 1.55 0 1 0 -3.1 0M448.3 334.87a1.55 1.55 0 1 0 3.1 0a1.55 1.55 0 1 0 -3.1 0M448.47 335.83a1.55 1.55 0 1 0 3.1 0a1.55 1.55 0 1 0 -3.1 0M448.65 333.48a1.55 1.55 0 1 0 3.1 0a1.55 1.55 0 1 0 -3.1 0M448.82 332.8a1.55 1.55 0 1 0 3.1 0a1.55 1.55 0 1 0 -3.1 0M448.99 333.64a1.55 1.55 0 1 0 3.1 0a1.55 1.55 0 1 0 -3.1 0M449.16 335.27a1.55 1.55 0 1 0 3.1 0a1.55 1.55 0 1 0 -3.1 0M449.33 334.18a1.55 1.55 0 1 0 3.1 0a1.55 1.55 0 1 0 -3.1 0M449.5 334.28a1.55 1.55 0 1 0 3.1 0a1.55 1.55 0 1 0 -3.1 0M449.67 334.5a1.55 1.55 0 1 0 3.1 0a1.55 1.55 0 1 0 -3.1 0M449.84 335.62a1.55 1.55 0 1 0 3.1 0a1.55 1.55 0 1 0 -3.1 0M450.01 333.84a1.55 1.55 0 1 0 3.1 0a1.55 1.55 0 1 0 -3.1 0M450.18 334.82a1.55 1.55 0 1 0 3.1 0a1.55 1.55 0 1 0 -3.1 0M450.35 337.04a1.55 1.55 0 1 0 3.1 0a1.55 1.55 0 1 0 -3.1 0M450.52 336.43a1.55 1.55 0 1 0 3.1 0a1.55 1.55 0 1 0 -3.1 0M450.7 337.87a1.55 1.55 0 1 0 3.1 0a1.55 1.55 0 1 0 -3.1 0M450.87 336.91a1.55 1.55 0 1 0 3.1 0a1.55 1.55 0 1 0 -3.1 0M451.04 335.35a1.55 1.55 0 1 0 3.1 0a1.55 1.55 0 1 0 -3.1 0M451.21 336.73a1.55 1.55 0 1 0 3.1 0a1.55 1.55 0 1 0 -3.1 0M451.38 336.71a1.55 1.55 0 1 0 3.1 0a1.55 1.55 0 1 0 -3.1 0M451.55 335.85a1.55 1.55 0 1 0 3.1 0a1.55 1.55 0 1 0 -3.1 0M451.72 338.6a1.55 1.55 0 1 0 3.1 0a1.55 1.55 0 1 0 -3.1 0M451.89 337.7a1.55 1.55 0 1 0 3.1 0a1.55 1.55 0 1 0 -3.1 0M452.06 337.31a1.55 1.55 0 1 0 3.1 0a1.55 1.55 0 1 0 -3.1 0M452.23 337.37a1.55 1.55 0 1 0 3.1 0a1.55 1.55 0 1 0 -3.1 0M452.4 336.74a1.55 1.55 0 1 0 3.1 0a1.55 1.55 0 1 0 -3.1 0M452.57 335.88a1.55 1.55 0 1 0 3.1 0a1.55 1.55 0 1 0 -3.1 0M452.74 336.49a1.55 1.55 0 1 0 3.1 0a1.55 1.55 0 1 0 -3.1 0M452.92 337.56a1.55 1.55 0 1 0 3.1 0a1.55 1.55 0 1 0 -3.1 0M453.09 337.12a1.55 1.55 0 1 0 3.1 0a1.55 1.55 0 1 0 -3.1 0M453.26 337.76a1.55 1.55 0 1 0 3.1 0a1.55 1.55 0 1 0 -3.1 0M453.43 336.13a1.55 1.55 0 1 0 3.1 0a1.55 1.55 0 1 0 -3.1 0M453.6 337.7a1.55 1.55 0 1 0 3.1 0a1.55 1.55 0 1 0 -3.1 0M453.77 337.79a1.55 1.55 0 1 0 3.1 0a1.55 1.55 0 1 0 -3.1 0M453.94 338.63a1.55 1.55 0 1 0 3.1 0a1.55 1.55 0 1 0 -3.1 0M454.11 338.61a1.55 1.55 0 1 0 3.1 0a1.55 1.55 0 1 0 -3.1 0M454.28 337.37a1.55 1.55 0 1 0 3.1 0a1.55 1.55 0 1 0 -3.1 0M454.45 338.93a1.55 1.55 0 1 0 3.1 0a1.55 1.55 0 1 0 -3.1 0M454.62 336.94a1.55 1.55 0 1 0 3.1 0a1.55 1.55 0 1 0 -3.1 0M454.79 336.97a1.55 1.55 0 1 0 3.1 0a1.55 1.55 0 1 0 -3.1 0M454.85 335.47a1.55 1.55 0 1 0 3.1 0a1.55 1.55 0 1 0 -3.1 0M454.91 334.45a1.55 1.55 0 1 0 3.1 0a1.55 1.55 0 1 0 -3.1 0M454.97 333.08a1.55 1.55 0 1 0 3.1 0a1.55 1.55 0 1 0 -3.1 0M455.05 331.48a1.55 1.55 0 1 0 3.1 0a1.55 1.55 0 1 0 -3.1 0M455.14 331.11a1.55 1.55 0 1 0 3.1 0a1.55 1.55 0 1 0 -3.1 0M455.22 327a1.55 1.55 0 1 0 3.1 0a1.55 1.55 0 1 0 -3.1 0M455.31 324.53a1.55 1.55 0 1 0 3.1 0a1.55 1.55 0 1 0 -3.1 0M455.39 323.35a1.55 1.55 0 1 0 3.1 0a1.55 1.55 0 1 0 -3.1 0M455.48 321.08a1.55 1.55 0 1 0 3.1 0a1.55 1.55 0 1 0 -3.1 0M455.56 321.39a1.55 1.55 0 1 0 3.1 0a1.55 1.55 0 1 0 -3.1 0M455.65 318.3a1.55 1.55 0 1 0 3.1 0a1.55 1.55 0 1 0 -3.1 0M455.73 317.92a1.55 1.55 0 1 0 3.1 0a1.55 1.55 0 1 0 -3.1 0M455.82 316.57a1.55 1.55 0 1 0 3.1 0a1.55 1.55 0 1 0 -3.1 0M455.9 314.11a1.55 1.55 0 1 0 3.1 0a1.55 1.55 0 1 0 -3.1 0M455.99 313.86a1.55 1.55 0 1 0 3.1 0a1.55 1.55 0 1 0 -3.1 0M456.08 312.38a1.55 1.55 0 1 0 3.1 0a1.55 1.55 0 1 0 -3.1 0M456.16 312.86a1.55 1.55 0 1 0 3.1 0a1.55 1.55 0 1 0 -3.1 0M456.33 310.17a1.55 1.55 0 1 0 3.1 0a1.55 1.55 0 1 0 -3.1 0M456.5 308.01a1.55 1.55 0 1 0 3.1 0a1.55 1.55 0 1 0 -3.1 0M456.67 306.14a1.55 1.55 0 1 0 3.1 0a1.55 1.55 0 1 0 -3.1 0M456.84 303.24a1.55 1.55 0 1 0 3.1 0a1.55 1.55 0 1 0 -3.1 0M457.01 303.44a1.55 1.55 0 1 0 3.1 0a1.55 1.55 0 1 0 -3.1 0M457.19 301.79a1.55 1.55 0 1 0 3.1 0a1.55 1.55 0 1 0 -3.1 0M457.36 300.43a1.55 1.55 0 1 0 3.1 0a1.55 1.55 0 1 0 -3.1 0M457.53 296.67a1.55 1.55 0 1 0 3.1 0a1.55 1.55 0 1 0 -3.1 0M457.7 294.54a1.55 1.55 0 1 0 3.1 0a1.55 1.55 0 1 0 -3.1 0M457.87 294.27a1.55 1.55 0 1 0 3.1 0a1.55 1.55 0 1 0 -3.1 0M458.04 294.11a1.55 1.55 0 1 0 3.1 0a1.55 1.55 0 1 0 -3.1 0M458.21 294.57a1.55 1.55 0 1 0 3.1 0a1.55 1.55 0 1 0 -3.1 0M458.38 291.14a1.55 1.55 0 1 0 3.1 0a1.55 1.55 0 1 0 -3.1 0M458.55 292.76a1.55 1.55 0 1 0 3.1 0a1.55 1.55 0 1 0 -3.1 0M458.72 292.11a1.55 1.55 0 1 0 3.1 0a1.55 1.55 0 1 0 -3.1 0M458.89 289.66a1.55 1.55 0 1 0 3.1 0a1.55 1.55 0 1 0 -3.1 0M459.06 287.57a1.55 1.55 0 1 0 3.1 0a1.55 1.55 0 1 0 -3.1 0M459.24 288.96a1.55 1.55 0 1 0 3.1 0a1.55 1.55 0 1 0 -3.1 0M459.41 286.16a1.55 1.55 0 1 0 3.1 0a1.55 1.55 0 1 0 -3.1 0M459.58 287.54a1.55 1.55 0 1 0 3.1 0a1.55 1.55 0 1 0 -3.1 0M459.75 284.5a1.55 1.55 0 1 0 3.1 0a1.55 1.55 0 1 0 -3.1 0M459.92 284.77a1.55 1.55 0 1 0 3.1 0a1.55 1.55 0 1 0 -3.1 0M460.09 283.72a1.55 1.55 0 1 0 3.1 0a1.55 1.55 0 1 0 -3.1 0M460.26 282.71a1.55 1.55 0 1 0 3.1 0a1.55 1.55 0 1 0 -3.1 0M460.43 282.82a1.55 1.55 0 1 0 3.1 0a1.55 1.55 0 1 0 -3.1 0M460.6 284.69a1.55 1.55 0 1 0 3.1 0a1.55 1.55 0 1 0 -3.1 0M460.77 282.98a1.55 1.55 0 1 0 3.1 0a1.55 1.55 0 1 0 -3.1 0M460.94 282.4a1.55 1.55 0 1 0 3.1 0a1.55 1.55 0 1 0 -3.1 0M461.11 281.27a1.55 1.55 0 1 0 3.1 0a1.55 1.55 0 1 0 -3.1 0M461.28 282.72a1.55 1.55 0 1 0 3.1 0a1.55 1.55 0 1 0 -3.1 0M461.46 280.97a1.55 1.55 0 1 0 3.1 0a1.55 1.55 0 1 0 -3.1 0M461.63 281.68a1.55 1.55 0 1 0 3.1 0a1.55 1.55 0 1 0 -3.1 0M461.8 281.67a1.55 1.55 0 1 0 3.1 0a1.55 1.55 0 1 0 -3.1 0M461.97 280.27a1.55 1.55 0 1 0 3.1 0a1.55 1.55 0 1 0 -3.1 0M462.14 278.55a1.55 1.55 0 1 0 3.1 0a1.55 1.55 0 1 0 -3.1 0M462.31 279.14a1.55 1.55 0 1 0 3.1 0a1.55 1.55 0 1 0 -3.1 0M462.48 279.56a1.55 1.55 0 1 0 3.1 0a1.55 1.55 0 1 0 -3.1 0M462.65 279.71a1.55 1.55 0 1 0 3.1 0a1.55 1.55 0 1 0 -3.1 0M462.82 278.87a1.55 1.55 0 1 0 3.1 0a1.55 1.55 0 1 0 -3.1 0M462.99 278.4a1.55 1.55 0 1 0 3.1 0a1.55 1.55 0 1 0 -3.1 0M463.16 278.58a1.55 1.55 0 1 0 3.1 0a1.55 1.55 0 1 0 -3.1 0M463.33 278.13a1.55 1.55 0 1 0 3.1 0a1.55 1.55 0 1 0 -3.1 0M463.51 278.16a1.55 1.55 0 1 0 3.1 0a1.55 1.55 0 1 0 -3.1 0M463.68 277.62a1.55 1.55 0 1 0 3.1 0a1.55 1.55 0 1 0 -3.1 0M463.85 275.9a1.55 1.55 0 1 0 3.1 0a1.55 1.55 0 1 0 -3.1 0M464.02 275.81a1.55 1.55 0 1 0 3.1 0a1.55 1.55 0 1 0 -3.1 0M464.19 275.55a1.55 1.55 0 1 0 3.1 0a1.55 1.55 0 1 0 -3.1 0M464.36 274.16a1.55 1.55 0 1 0 3.1 0a1.55 1.55 0 1 0 -3.1 0M464.53 274.89a1.55 1.55 0 1 0 3.1 0a1.55 1.55 0 1 0 -3.1 0M464.7 276.7a1.55 1.55 0 1 0 3.1 0a1.55 1.55 0 1 0 -3.1 0M464.87 275.42a1.55 1.55 0 1 0 3.1 0a1.55 1.55 0 1 0 -3.1 0M465.04 274.73a1.55 1.55 0 1 0 3.1 0a1.55 1.55 0 1 0 -3.1 0M465.21 273.66a1.55 1.55 0 1 0 3.1 0a1.55 1.55 0 1 0 -3.1 0M465.38 274.27a1.55 1.55 0 1 0 3.1 0a1.55 1.55 0 1 0 -3.1 0M465.55 275.73a1.55 1.55 0 1 0 3.1 0a1.55 1.55 0 1 0 -3.1 0M465.73 274.06a1.55 1.55 0 1 0 3.1 0a1.55 1.55 0 1 0 -3.1 0M465.9 273.18a1.55 1.55 0 1 0 3.1 0a1.55 1.55 0 1 0 -3.1 0M466.07 272.49a1.55 1.55 0 1 0 3.1 0a1.55 1.55 0 1 0 -3.1 0M466.24 273.59a1.55 1.55 0 1 0 3.1 0a1.55 1.55 0 1 0 -3.1 0M466.41 274.29a1.55 1.55 0 1 0 3.1 0a1.55 1.55 0 1 0 -3.1 0M466.58 274.8a1.55 1.55 0 1 0 3.1 0a1.55 1.55 0 1 0 -3.1 0M466.75 272.83a1.55 1.55 0 1 0 3.1 0a1.55 1.55 0 1 0 -3.1 0M466.92 271.72a1.55 1.55 0 1 0 3.1 0a1.55 1.55 0 1 0 -3.1 0M467.09 273.99a1.55 1.55 0 1 0 3.1 0a1.55 1.55 0 1 0 -3.1 0M467.26 272.25a1.55 1.55 0 1 0 3.1 0a1.55 1.55 0 1 0 -3.1 0M467.43 271.81a1.55 1.55 0 1 0 3.1 0a1.55 1.55 0 1 0 -3.1 0M467.6 271.8a1.55 1.55 0 1 0 3.1 0a1.55 1.55 0 1 0 -3.1 0M467.78 272.9a1.55 1.55 0 1 0 3.1 0a1.55 1.55 0 1 0 -3.1 0M467.95 273.28a1.55 1.55 0 1 0 3.1 0a1.55 1.55 0 1 0 -3.1 0M468.12 273.41a1.55 1.55 0 1 0 3.1 0a1.55 1.55 0 1 0 -3.1 0M468.29 272.19a1.55 1.55 0 1 0 3.1 0a1.55 1.55 0 1 0 -3.1 0M468.46 269.79a1.55 1.55 0 1 0 3.1 0a1.55 1.55 0 1 0 -3.1 0M468.63 271.48a1.55 1.55 0 1 0 3.1 0a1.55 1.55 0 1 0 -3.1 0M468.8 269.19a1.55 1.55 0 1 0 3.1 0a1.55 1.55 0 1 0 -3.1 0M468.97 270.59a1.55 1.55 0 1 0 3.1 0a1.55 1.55 0 1 0 -3.1 0M469.06 273.2a1.55 1.55 0 1 0 3.1 0a1.55 1.55 0 1 0 -3.1 0M469.14 275.11a1.55 1.55 0 1 0 3.1 0a1.55 1.55 0 1 0 -3.1 0M469.23 276.21a1.55 1.55 0 1 0 3.1 0a1.55 1.55 0 1 0 -3.1 0M469.31 276.44a1.55 1.55 0 1 0 3.1 0a1.55 1.55 0 1 0 -3.1 0M469.4 279.47a1.55 1.55 0 1 0 3.1 0a1.55 1.55 0 1 0 -3.1 0M469.48 281.78a1.55 1.55 0 1 0 3.1 0a1.55 1.55 0 1 0 -3.1 0M469.57 281.01a1.55 1.55 0 1 0 3.1 0a1.55 1.55 0 1 0 -3.1 0M469.65 282.57a1.55 1.55 0 1 0 3.1 0a1.55 1.55 0 1 0 -3.1 0M469.74 284.51a1.55 1.55 0 1 0 3.1 0a1.55 1.55 0 1 0 -3.1 0M469.82 285.86a1.55 1.55 0 1 0 3.1 0a1.55 1.55 0 1 0 -3.1 0M469.91 287.43a1.55 1.55 0 1 0 3.1 0a1.55 1.55 0 1 0 -3.1 0M470 287.52a1.55 1.55 0 1 0 3.1 0a1.55 1.55 0 1 0 -3.1 0M470.08 288.34a1.55 1.55 0 1 0 3.1 0a1.55 1.55 0 1 0 -3.1 0M470.17 289.99a1.55 1.55 0 1 0 3.1 0a1.55 1.55 0 1 0 -3.1 0M470.34 291.29a1.55 1.55 0 1 0 3.1 0a1.55 1.55 0 1 0 -3.1 0M470.51 293.09a1.55 1.55 0 1 0 3.1 0a1.55 1.55 0 1 0 -3.1 0M470.68 296.52a1.55 1.55 0 1 0 3.1 0a1.55 1.55 0 1 0 -3.1 0M470.85 297.13a1.55 1.55 0 1 0 3.1 0a1.55 1.55 0 1 0 -3.1 0M471.02 297.52a1.55 1.55 0 1 0 3.1 0a1.55 1.55 0 1 0 -3.1 0M471.19 300.11a1.55 1.55 0 1 0 3.1 0a1.55 1.55 0 1 0 -3.1 0M471.36 303.68a1.55 1.55 0 1 0 3.1 0a1.55 1.55 0 1 0 -3.1 0M471.53 303.29a1.55 1.55 0 1 0 3.1 0a1.55 1.55 0 1 0 -3.1 0M471.7 304.74a1.55 1.55 0 1 0 3.1 0a1.55 1.55 0 1 0 -3.1 0M471.87 305.57a1.55 1.55 0 1 0 3.1 0a1.55 1.55 0 1 0 -3.1 0M472.05 307.1a1.55 1.55 0 1 0 3.1 0a1.55 1.55 0 1 0 -3.1 0M472.22 307.5a1.55 1.55 0 1 0 3.1 0a1.55 1.55 0 1 0 -3.1 0M472.39 308.41a1.55 1.55 0 1 0 3.1 0a1.55 1.55 0 1 0 -3.1 0M472.56 312.44a1.55 1.55 0 1 0 3.1 0a1.55 1.55 0 1 0 -3.1 0M472.73 312.45a1.55 1.55 0 1 0 3.1 0a1.55 1.55 0 1 0 -3.1 0M472.9 315.11a1.55 1.55 0 1 0 3.1 0a1.55 1.55 0 1 0 -3.1 0M473.07 312.49a1.55 1.55 0 1 0 3.1 0a1.55 1.55 0 1 0 -3.1 0M473.24 316.77a1.55 1.55 0 1 0 3.1 0a1.55 1.55 0 1 0 -3.1 0M473.41 316.43a1.55 1.55 0 1 0 3.1 0a1.55 1.55 0 1 0 -3.1 0M473.58 316.56a1.55 1.55 0 1 0 3.1 0a1.55 1.55 0 1 0 -3.1 0M473.75 318.08a1.55 1.55 0 1 0 3.1 0a1.55 1.55 0 1 0 -3.1 0M473.92 319.84a1.55 1.55 0 1 0 3.1 0a1.55 1.55 0 1 0 -3.1 0M474.09 319.34a1.55 1.55 0 1 0 3.1 0a1.55 1.55 0 1 0 -3.1 0M474.27 321.12a1.55 1.55 0 1 0 3.1 0a1.55 1.55 0 1 0 -3.1 0M474.44 320.8a1.55 1.55 0 1 0 3.1 0a1.55 1.55 0 1 0 -3.1 0M474.61 320.61a1.55 1.55 0 1 0 3.1 0a1.55 1.55 0 1 0 -3.1 0M474.78 322.84a1.55 1.55 0 1 0 3.1 0a1.55 1.55 0 1 0 -3.1 0M474.95 322.89a1.55 1.55 0 1 0 3.1 0a1.55 1.55 0 1 0 -3.1 0M475.12 322.78a1.55 1.55 0 1 0 3.1 0a1.55 1.55 0 1 0 -3.1 0M475.29 323.74a1.55 1.55 0 1 0 3.1 0a1.55 1.55 0 1 0 -3.1 0M475.46 323.26a1.55 1.55 0 1 0 3.1 0a1.55 1.55 0 1 0 -3.1 0M475.63 323.45a1.55 1.55 0 1 0 3.1 0a1.55 1.55 0 1 0 -3.1 0M475.8 323.68a1.55 1.55 0 1 0 3.1 0a1.55 1.55 0 1 0 -3.1 0M475.97 327.24a1.55 1.55 0 1 0 3.1 0a1.55 1.55 0 1 0 -3.1 0M476.14 326.51a1.55 1.55 0 1 0 3.1 0a1.55 1.55 0 1 0 -3.1 0M476.32 328.36a1.55 1.55 0 1 0 3.1 0a1.55 1.55 0 1 0 -3.1 0M476.49 326.6a1.55 1.55 0 1 0 3.1 0a1.55 1.55 0 1 0 -3.1 0M476.66 328.18a1.55 1.55 0 1 0 3.1 0a1.55 1.55 0 1 0 -3.1 0M476.83 326.87a1.55 1.55 0 1 0 3.1 0a1.55 1.55 0 1 0 -3.1 0M477 328.67a1.55 1.55 0 1 0 3.1 0a1.55 1.55 0 1 0 -3.1 0M477.17 327.86a1.55 1.55 0 1 0 3.1 0a1.55 1.55 0 1 0 -3.1 0M477.34 331.17a1.55 1.55 0 1 0 3.1 0a1.55 1.55 0 1 0 -3.1 0M477.51 329.31a1.55 1.55 0 1 0 3.1 0a1.55 1.55 0 1 0 -3.1 0M477.68 330.43a1.55 1.55 0 1 0 3.1 0a1.55 1.55 0 1 0 -3.1 0M477.85 329.17a1.55 1.55 0 1 0 3.1 0a1.55 1.55 0 1 0 -3.1 0M478.02 332.29a1.55 1.55 0 1 0 3.1 0a1.55 1.55 0 1 0 -3.1 0M478.19 332.67a1.55 1.55 0 1 0 3.1 0a1.55 1.55 0 1 0 -3.1 0M478.36 330.7a1.55 1.55 0 1 0 3.1 0a1.55 1.55 0 1 0 -3.1 0M478.54 332.38a1.55 1.55 0 1 0 3.1 0a1.55 1.55 0 1 0 -3.1 0M478.71 332.26a1.55 1.55 0 1 0 3.1 0a1.55 1.55 0 1 0 -3.1 0M478.88 332.66a1.55 1.55 0 1 0 3.1 0a1.55 1.55 0 1 0 -3.1 0M479.05 330.72a1.55 1.55 0 1 0 3.1 0a1.55 1.55 0 1 0 -3.1 0M479.22 332.37a1.55 1.55 0 1 0 3.1 0a1.55 1.55 0 1 0 -3.1 0M479.39 331.83a1.55 1.55 0 1 0 3.1 0a1.55 1.55 0 1 0 -3.1 0M479.56 332.06a1.55 1.55 0 1 0 3.1 0a1.55 1.55 0 1 0 -3.1 0M479.73 332.23a1.55 1.55 0 1 0 3.1 0a1.55 1.55 0 1 0 -3.1 0M479.9 334.04a1.55 1.55 0 1 0 3.1 0a1.55 1.55 0 1 0 -3.1 0M480.07 334.87a1.55 1.55 0 1 0 3.1 0a1.55 1.55 0 1 0 -3.1 0M480.24 334.23a1.55 1.55 0 1 0 3.1 0a1.55 1.55 0 1 0 -3.1 0M480.41 333a1.55 1.55 0 1 0 3.1 0a1.55 1.55 0 1 0 -3.1 0M480.59 333.25a1.55 1.55 0 1 0 3.1 0a1.55 1.55 0 1 0 -3.1 0M480.76 335.01a1.55 1.55 0 1 0 3.1 0a1.55 1.55 0 1 0 -3.1 0M480.93 333.57a1.55 1.55 0 1 0 3.1 0a1.55 1.55 0 1 0 -3.1 0M481.1 334.31a1.55 1.55 0 1 0 3.1 0a1.55 1.55 0 1 0 -3.1 0M481.27 337.26a1.55 1.55 0 1 0 3.1 0a1.55 1.55 0 1 0 -3.1 0M481.44 335.17a1.55 1.55 0 1 0 3.1 0a1.55 1.55 0 1 0 -3.1 0M481.61 334.74a1.55 1.55 0 1 0 3.1 0a1.55 1.55 0 1 0 -3.1 0M481.78 337.78a1.55 1.55 0 1 0 3.1 0a1.55 1.55 0 1 0 -3.1 0M481.95 336.67a1.55 1.55 0 1 0 3.1 0a1.55 1.55 0 1 0 -3.1 0M482.12 335.81a1.55 1.55 0 1 0 3.1 0a1.55 1.55 0 1 0 -3.1 0M482.29 336.5a1.55 1.55 0 1 0 3.1 0a1.55 1.55 0 1 0 -3.1 0M482.46 336.56a1.55 1.55 0 1 0 3.1 0a1.55 1.55 0 1 0 -3.1 0M482.63 338.39a1.55 1.55 0 1 0 3.1 0a1.55 1.55 0 1 0 -3.1 0M482.81 337.88a1.55 1.55 0 1 0 3.1 0a1.55 1.55 0 1 0 -3.1 0M482.98 335.71a1.55 1.55 0 1 0 3.1 0a1.55 1.55 0 1 0 -3.1 0M483.15 337.83a1.55 1.55 0 1 0 3.1 0a1.55 1.55 0 1 0 -3.1 0M483.32 337.46a1.55 1.55 0 1 0 3.1 0a1.55 1.55 0 1 0 -3.1 0M483.49 337.17a1.55 1.55 0 1 0 3.1 0a1.55 1.55 0 1 0 -3.1 0M483.66 338.47a1.55 1.55 0 1 0 3.1 0a1.55 1.55 0 1 0 -3.1 0M483.83 338.04a1.55 1.55 0 1 0 3.1 0a1.55 1.55 0 1 0 -3.1 0M484 337.43a1.55 1.55 0 1 0 3.1 0a1.55 1.55 0 1 0 -3.1 0M484.17 335.79a1.55 1.55 0 1 0 3.1 0a1.55 1.55 0 1 0 -3.1 0M484.34 335.63a1.55 1.55 0 1 0 3.1 0a1.55 1.55 0 1 0 -3.1 0M484.51 337.91a1.55 1.55 0 1 0 3.1 0a1.55 1.55 0 1 0 -3.1 0M484.68 336.41a1.55 1.55 0 1 0 3.1 0a1.55 1.55 0 1 0 -3.1 0" fill="none" stroke="#1a1aff" stroke-width="1.0" />
<text x="505" y="184.6" font-size="14" font-weight="bold">g</text>
<rect x="538.6" y="178.5" width="134" height="11.9" fill="#fff" stroke="#a8a8a8" stroke-width="0.8" />
<line x1="540.6" y1="184.4" x2="562" y2="184.4" stroke="#222" stroke-width="1.2" />
<text x="564.4" y="188.1" font-size="9.5" fill="#222" textLength="22" lengthAdjust="spacingAndGlyphs">Initial</text>
<line x1="591.4" y1="184.4" x2="612" y2="184.4" stroke="#ee1111" stroke-width="1.2" />
<text x="614.4" y="188.1" font-size="9.5" fill="#222" textLength="52" lengthAdjust="spacingAndGlyphs">Joule heating</text>
<path d="M550.4 214.51 L551.55 214.51 L552.69 214.51 L553.84 214.51 L554.99 214.52 L556.14 214.53 L557.28 214.55 L558.43 214.56 L559.58 214.57 L560.73 214.58 L561.88 214.59 L563.02 214.6 L564.17 214.6 L565.32 214.6 L566.47 214.6 L567.61 214.59 L568.76 214.57 L569.91 214.55 L571.05 214.53 L572.2 214.51 L573.35 214.48 L574.5 214.46 L575.64 214.43 L576.79 214.41 L577.94 214.38 L579.09 214.36 L580.24 214.35 L581.38 214.33 L582.53 214.33 L583.68 214.33 L584.82 214.33 L585.97 214.34 L587.12 214.36 L588.27 214.39 L589.41 214.42 L590.56 214.45 L591.71 214.49 L592.86 214.53 L594 214.58 L595.15 214.62 L596.3 214.67 L597.45 214.71 L598.6 214.75 L599.74 214.79 L600.89 214.82 L602.04 214.85 L603.18 214.87 L604.33 214.89 L605.48 214.9 L606.63 214.91 L607.77 214.9 L608.92 214.9 L610.07 214.89 L611.22 214.87 L612.37 214.86 L613.51 214.84 L614.66 214.82 L615.81 214.79 L616.95 214.77 L618.1 214.76 L619.25 214.74 L620.4 214.73 L621.54 214.72 L622.69 214.71 L623.84 214.71 L624.99 214.72 L626.13 214.72 L627.28 214.73 L628.43 214.75 L629.58 214.76 L630.73 214.78 L631.87 214.8 L633.02 214.81 L634.17 214.83 L635.31 214.84 L636.46 214.85 L637.61 214.85 L638.76 214.85 L639.9 214.85 L641.05 214.83 L642.2 214.82 L643.35 214.79 L644.5 214.77 L645.64 214.73 L646.79 214.7 L647.94 214.66 L649.09 214.62 L650.23 214.57 L651.38 214.53 L652.53 214.49 L653.67 214.45 L654.82 214.41 L655.97 214.38 L657.12 214.35 L658.26 214.33 L659.41 214.31 L660.56 214.3 L661.71 214.3 L662.86 214.3 L664 214.31 L665.15 214.32" fill="none" stroke="#ee1111" stroke-width="3.2" />
<rect x="538.6" y="195.4" width="138.8" height="36.6" fill="none" stroke="#111" stroke-width="1.2" />
<rect x="538.6" y="236.4" width="138" height="112" fill="none" stroke="#111" stroke-width="1.2" />
<line x1="538.6" y1="195.4" x2="538.6" y2="232" stroke="#111" stroke-width="1.8" />
<line x1="538.6" y1="236.4" x2="538.6" y2="348.4" stroke="#111" stroke-width="1.8" />
<line x1="538.6" y1="348.4" x2="676.6" y2="348.4" stroke="#111" stroke-width="1.6" />
<line x1="538.6" y1="232" x2="677.4" y2="232" stroke="#111" stroke-width="1.6" />
<line x1="535.6" y1="195.9" x2="538.6" y2="195.9" stroke="#111" stroke-width="0.9" />
<text x="532.2" y="200.7" font-size="10" text-anchor="end" fill="#222">20</text>
<line x1="536.8" y1="203.25" x2="538.6" y2="203.25" stroke="#111" stroke-width="0.9" />
<line x1="535.6" y1="210.6" x2="538.6" y2="210.6" stroke="#111" stroke-width="0.9" />
<text x="532.2" y="215.4" font-size="10" text-anchor="end" fill="#222">18</text>
<line x1="536.8" y1="217.95" x2="538.6" y2="217.95" stroke="#111" stroke-width="0.9" />
<line x1="535.6" y1="225.3" x2="538.6" y2="225.3" stroke="#111" stroke-width="0.9" />
<text x="532.2" y="230.1" font-size="10" text-anchor="end" fill="#222">16</text>
<line x1="535.6" y1="334.12" x2="538.6" y2="334.12" stroke="#111" stroke-width="0.9" />
<text x="534" y="337.62" font-size="10" text-anchor="end" fill="#222">520</text>
<line x1="536.8" y1="320.05" x2="538.6" y2="320.05" stroke="#111" stroke-width="0.9" />
<line x1="535.6" y1="305.98" x2="538.6" y2="305.98" stroke="#111" stroke-width="0.9" />
<text x="534" y="309.48" font-size="10" text-anchor="end" fill="#222">540</text>
<line x1="536.8" y1="291.91" x2="538.6" y2="291.91" stroke="#111" stroke-width="0.9" />
<line x1="535.6" y1="277.84" x2="538.6" y2="277.84" stroke="#111" stroke-width="0.9" />
<text x="534" y="281.34" font-size="10" text-anchor="end" fill="#222">560</text>
<line x1="536.8" y1="263.77" x2="538.6" y2="263.77" stroke="#111" stroke-width="0.9" />
<line x1="535.6" y1="249.7" x2="538.6" y2="249.7" stroke="#111" stroke-width="0.9" />
<text x="534" y="253.2" font-size="10" text-anchor="end" fill="#222">580</text>
<line x1="550.4" y1="229.6" x2="550.4" y2="232" stroke="#111" stroke-width="0.9" />
<line x1="550.4" y1="348.4" x2="550.4" y2="351" stroke="#111" stroke-width="0.9" />
<text x="550.4" y="360" font-size="10" text-anchor="middle" fill="#222">0</text>
<line x1="561.88" y1="229.6" x2="561.88" y2="232" stroke="#111" stroke-width="0.9" />
<line x1="561.88" y1="348.4" x2="561.88" y2="350" stroke="#111" stroke-width="0.9" />
<line x1="573.35" y1="229.6" x2="573.35" y2="232" stroke="#111" stroke-width="0.9" />
<line x1="573.35" y1="348.4" x2="573.35" y2="351" stroke="#111" stroke-width="0.9" />
<line x1="584.82" y1="229.6" x2="584.82" y2="232" stroke="#111" stroke-width="0.9" />
<line x1="584.82" y1="348.4" x2="584.82" y2="350" stroke="#111" stroke-width="0.9" />
<line x1="596.3" y1="229.6" x2="596.3" y2="232" stroke="#111" stroke-width="0.9" />
<line x1="596.3" y1="348.4" x2="596.3" y2="351" stroke="#111" stroke-width="0.9" />
<text x="596.3" y="360" font-size="10" text-anchor="middle" fill="#222">2000</text>
<line x1="607.77" y1="229.6" x2="607.77" y2="232" stroke="#111" stroke-width="0.9" />
<line x1="607.77" y1="348.4" x2="607.77" y2="350" stroke="#111" stroke-width="0.9" />
<line x1="619.25" y1="229.6" x2="619.25" y2="232" stroke="#111" stroke-width="0.9" />
<line x1="619.25" y1="348.4" x2="619.25" y2="351" stroke="#111" stroke-width="0.9" />
<line x1="630.73" y1="229.6" x2="630.73" y2="232" stroke="#111" stroke-width="0.9" />
<line x1="630.73" y1="348.4" x2="630.73" y2="350" stroke="#111" stroke-width="0.9" />
<line x1="642.2" y1="229.6" x2="642.2" y2="232" stroke="#111" stroke-width="0.9" />
<line x1="642.2" y1="348.4" x2="642.2" y2="351" stroke="#111" stroke-width="0.9" />
<text x="642.2" y="360" font-size="10" text-anchor="middle" fill="#222">4000</text>
<line x1="653.67" y1="229.6" x2="653.67" y2="232" stroke="#111" stroke-width="0.9" />
<line x1="653.67" y1="348.4" x2="653.67" y2="350" stroke="#111" stroke-width="0.9" />
<line x1="665.15" y1="229.6" x2="665.15" y2="232" stroke="#111" stroke-width="0.9" />
<line x1="665.15" y1="348.4" x2="665.15" y2="351" stroke="#111" stroke-width="0.9" />
<text font-size="10" fill="#222" transform="translate(514 211.5) rotate(-90)" text-anchor="middle">RH (%)</text>
<text x="0" y="0" font-size="10" text-anchor="middle" fill="#222" transform="translate(513.8 285) rotate(-90)" textLength="96" lengthAdjust="spacingAndGlyphs">ADC value (arb. units)</text>
<text x="600.4" y="372" font-size="10" fill="#222"><tspan font-style="italic">t</tspan> (s)</text>
<text x="552.6" y="321" font-size="9.5" fill="#222" textLength="19.4" lengthAdjust="spacingAndGlyphs">0.1%</text>
<text x="580" y="307" font-size="9.5" fill="#222" textLength="19.4" lengthAdjust="spacingAndGlyphs">0.2%</text>
<text x="608.6" y="283" font-size="9.5" fill="#222" textLength="19.4" lengthAdjust="spacingAndGlyphs">0.5%</text>
<text x="636.6" y="252.4" font-size="9.5" fill="#222" textLength="19.4" lengthAdjust="spacingAndGlyphs">1.0%</text>
<path d="M549.1 338.69h2.6v2.6h-2.6zM549.28 338.39h2.6v2.6h-2.6zM549.47 337.48h2.6v2.6h-2.6zM549.65 336.53h2.6v2.6h-2.6zM549.83 338.41h2.6v2.6h-2.6zM550.02 338.54h2.6v2.6h-2.6zM550.2 338.17h2.6v2.6h-2.6zM550.39 336.43h2.6v2.6h-2.6zM550.57 338.53h2.6v2.6h-2.6zM550.75 336.57h2.6v2.6h-2.6zM550.94 336.87h2.6v2.6h-2.6zM551.12 338.68h2.6v2.6h-2.6zM551.3 337.37h2.6v2.6h-2.6zM551.49 337.71h2.6v2.6h-2.6zM551.67 337.86h2.6v2.6h-2.6zM551.85 335.93h2.6v2.6h-2.6zM552.04 339.02h2.6v2.6h-2.6zM552.22 339.3h2.6v2.6h-2.6zM552.4 336.23h2.6v2.6h-2.6zM552.59 338.04h2.6v2.6h-2.6zM552.77 338.62h2.6v2.6h-2.6zM552.96 338.06h2.6v2.6h-2.6zM553.14 337.83h2.6v2.6h-2.6zM553.32 335.73h2.6v2.6h-2.6zM553.51 338.13h2.6v2.6h-2.6zM553.69 338h2.6v2.6h-2.6zM553.87 335.87h2.6v2.6h-2.6zM554.06 335.19h2.6v2.6h-2.6zM554.24 333.09h2.6v2.6h-2.6zM554.42 332.81h2.6v2.6h-2.6zM554.61 333.84h2.6v2.6h-2.6zM554.79 333.82h2.6v2.6h-2.6zM554.98 331.19h2.6v2.6h-2.6zM555.16 330.22h2.6v2.6h-2.6zM555.34 333.04h2.6v2.6h-2.6zM555.53 330.27h2.6v2.6h-2.6zM555.71 329.48h2.6v2.6h-2.6zM555.89 329.89h2.6v2.6h-2.6zM556.08 331.05h2.6v2.6h-2.6zM556.26 328.82h2.6v2.6h-2.6zM556.44 328.78h2.6v2.6h-2.6zM556.63 330.36h2.6v2.6h-2.6zM556.81 328.62h2.6v2.6h-2.6zM556.99 329.84h2.6v2.6h-2.6zM557.18 330.24h2.6v2.6h-2.6zM557.36 329.06h2.6v2.6h-2.6zM557.55 328.89h2.6v2.6h-2.6zM557.73 328.52h2.6v2.6h-2.6zM557.91 327.51h2.6v2.6h-2.6zM558.1 326.72h2.6v2.6h-2.6zM558.28 326.16h2.6v2.6h-2.6zM558.46 325.98h2.6v2.6h-2.6zM558.65 325.79h2.6v2.6h-2.6zM558.83 326.36h2.6v2.6h-2.6zM559.01 327.87h2.6v2.6h-2.6zM559.2 328.2h2.6v2.6h-2.6zM559.38 326.59h2.6v2.6h-2.6zM559.57 326.75h2.6v2.6h-2.6zM559.75 326.22h2.6v2.6h-2.6zM559.93 328.08h2.6v2.6h-2.6zM560.12 327.66h2.6v2.6h-2.6zM560.3 325.11h2.6v2.6h-2.6zM560.48 326.11h2.6v2.6h-2.6zM560.67 325.71h2.6v2.6h-2.6zM560.85 327.66h2.6v2.6h-2.6zM561.03 326.56h2.6v2.6h-2.6zM561.22 324.76h2.6v2.6h-2.6zM561.4 325.58h2.6v2.6h-2.6zM561.58 324.35h2.6v2.6h-2.6zM561.77 326.97h2.6v2.6h-2.6zM561.95 326.04h2.6v2.6h-2.6zM562.14 324.81h2.6v2.6h-2.6zM562.32 325.96h2.6v2.6h-2.6zM562.5 324.74h2.6v2.6h-2.6zM562.69 325.45h2.6v2.6h-2.6zM562.87 326.9h2.6v2.6h-2.6zM563.05 326.91h2.6v2.6h-2.6zM563.24 323.88h2.6v2.6h-2.6zM563.42 326.75h2.6v2.6h-2.6zM563.6 326.45h2.6v2.6h-2.6zM563.79 325.93h2.6v2.6h-2.6zM563.97 324.61h2.6v2.6h-2.6zM564.16 324.09h2.6v2.6h-2.6zM564.34 325.33h2.6v2.6h-2.6zM564.52 325.21h2.6v2.6h-2.6zM564.71 324.2h2.6v2.6h-2.6zM564.89 325.88h2.6v2.6h-2.6zM565.07 325.53h2.6v2.6h-2.6zM565.26 325h2.6v2.6h-2.6zM565.44 325.51h2.6v2.6h-2.6zM565.62 328.09h2.6v2.6h-2.6zM565.81 328.34h2.6v2.6h-2.6zM565.99 328.73h2.6v2.6h-2.6zM566.17 327.2h2.6v2.6h-2.6zM566.36 327.73h2.6v2.6h-2.6zM566.54 327.18h2.6v2.6h-2.6zM566.73 328.24h2.6v2.6h-2.6zM566.91 330.32h2.6v2.6h-2.6zM567.09 328.93h2.6v2.6h-2.6zM567.28 328.5h2.6v2.6h-2.6zM567.46 330.94h2.6v2.6h-2.6zM567.64 332.36h2.6v2.6h-2.6zM567.83 331.39h2.6v2.6h-2.6zM568.01 331.95h2.6v2.6h-2.6zM568.19 332.55h2.6v2.6h-2.6zM568.38 333.22h2.6v2.6h-2.6zM568.56 333.16h2.6v2.6h-2.6zM568.75 330.86h2.6v2.6h-2.6zM568.93 333.81h2.6v2.6h-2.6zM569.11 332.09h2.6v2.6h-2.6zM569.3 333.65h2.6v2.6h-2.6zM569.48 333.86h2.6v2.6h-2.6zM569.66 331.91h2.6v2.6h-2.6zM569.85 333.82h2.6v2.6h-2.6zM570.03 334.36h2.6v2.6h-2.6zM570.21 333.59h2.6v2.6h-2.6zM570.4 332.92h2.6v2.6h-2.6zM570.58 333.63h2.6v2.6h-2.6zM570.76 332.62h2.6v2.6h-2.6zM570.95 334.3h2.6v2.6h-2.6zM571.13 334h2.6v2.6h-2.6zM571.32 333.46h2.6v2.6h-2.6zM571.5 334.44h2.6v2.6h-2.6zM571.68 333.68h2.6v2.6h-2.6zM571.87 334.63h2.6v2.6h-2.6zM572.05 335.85h2.6v2.6h-2.6zM572.23 335.98h2.6v2.6h-2.6zM572.42 333.85h2.6v2.6h-2.6zM572.6 334.07h2.6v2.6h-2.6zM572.78 333.49h2.6v2.6h-2.6zM572.97 334.43h2.6v2.6h-2.6zM573.15 334.88h2.6v2.6h-2.6zM573.34 336.36h2.6v2.6h-2.6zM573.52 334.12h2.6v2.6h-2.6zM573.7 336.67h2.6v2.6h-2.6zM573.89 335.71h2.6v2.6h-2.6zM574.07 336.74h2.6v2.6h-2.6zM574.25 336h2.6v2.6h-2.6zM574.44 336.31h2.6v2.6h-2.6zM574.62 335.98h2.6v2.6h-2.6zM574.8 335.08h2.6v2.6h-2.6zM574.99 335.71h2.6v2.6h-2.6zM575.17 336.78h2.6v2.6h-2.6zM575.35 335.02h2.6v2.6h-2.6zM575.54 335.23h2.6v2.6h-2.6zM575.72 334.97h2.6v2.6h-2.6zM575.91 337.71h2.6v2.6h-2.6zM576.09 335.79h2.6v2.6h-2.6zM576.27 334.89h2.6v2.6h-2.6zM576.46 337.09h2.6v2.6h-2.6zM576.64 337.33h2.6v2.6h-2.6zM576.82 335.31h2.6v2.6h-2.6zM577.01 336.88h2.6v2.6h-2.6zM577.19 336.79h2.6v2.6h-2.6zM577.37 335.43h2.6v2.6h-2.6zM577.56 336.93h2.6v2.6h-2.6zM577.74 337.6h2.6v2.6h-2.6zM577.93 337.59h2.6v2.6h-2.6zM578.11 337.18h2.6v2.6h-2.6zM578.29 336.03h2.6v2.6h-2.6zM578.48 337.18h2.6v2.6h-2.6zM578.66 335.85h2.6v2.6h-2.6zM578.84 338.27h2.6v2.6h-2.6zM579.03 337.68h2.6v2.6h-2.6zM579.21 336.44h2.6v2.6h-2.6zM579.39 336.97h2.6v2.6h-2.6zM579.58 336.93h2.6v2.6h-2.6zM579.76 335.49h2.6v2.6h-2.6zM579.94 337.74h2.6v2.6h-2.6zM580.13 338.09h2.6v2.6h-2.6zM580.31 338.62h2.6v2.6h-2.6zM580.5 337.38h2.6v2.6h-2.6zM580.68 338.29h2.6v2.6h-2.6zM580.86 336.88h2.6v2.6h-2.6zM581.05 336.61h2.6v2.6h-2.6zM581.23 334.95h2.6v2.6h-2.6zM581.41 332.2h2.6v2.6h-2.6zM581.6 329.59h2.6v2.6h-2.6zM581.78 329.92h2.6v2.6h-2.6zM581.96 326.74h2.6v2.6h-2.6zM582.15 326.86h2.6v2.6h-2.6zM582.33 326.55h2.6v2.6h-2.6zM582.52 324.46h2.6v2.6h-2.6zM582.7 325.54h2.6v2.6h-2.6zM582.88 323.58h2.6v2.6h-2.6zM583.07 322.12h2.6v2.6h-2.6zM583.25 322.57h2.6v2.6h-2.6zM583.43 322.77h2.6v2.6h-2.6zM583.62 323.02h2.6v2.6h-2.6zM583.8 320.94h2.6v2.6h-2.6zM583.98 321.81h2.6v2.6h-2.6zM584.17 320.78h2.6v2.6h-2.6zM584.35 319.83h2.6v2.6h-2.6zM584.53 318.13h2.6v2.6h-2.6zM584.72 318.7h2.6v2.6h-2.6zM584.9 318.91h2.6v2.6h-2.6zM585.09 317.47h2.6v2.6h-2.6zM585.27 319.05h2.6v2.6h-2.6zM585.45 318.53h2.6v2.6h-2.6zM585.64 317.3h2.6v2.6h-2.6zM585.82 317.48h2.6v2.6h-2.6zM586 318.38h2.6v2.6h-2.6zM586.19 317.54h2.6v2.6h-2.6zM586.37 315.94h2.6v2.6h-2.6zM586.55 317.71h2.6v2.6h-2.6zM586.74 315.97h2.6v2.6h-2.6zM586.92 318.02h2.6v2.6h-2.6zM587.11 314.79h2.6v2.6h-2.6zM587.29 315.55h2.6v2.6h-2.6zM587.47 316.61h2.6v2.6h-2.6zM587.66 314.24h2.6v2.6h-2.6zM587.84 314.73h2.6v2.6h-2.6zM588.02 317.08h2.6v2.6h-2.6zM588.21 316.33h2.6v2.6h-2.6zM588.39 315.38h2.6v2.6h-2.6zM588.57 313.56h2.6v2.6h-2.6zM588.76 316.34h2.6v2.6h-2.6zM588.94 316.55h2.6v2.6h-2.6zM589.12 315.55h2.6v2.6h-2.6zM589.31 316.35h2.6v2.6h-2.6zM589.49 315.03h2.6v2.6h-2.6zM589.68 314.5h2.6v2.6h-2.6zM589.86 314.74h2.6v2.6h-2.6zM590.04 315.67h2.6v2.6h-2.6zM590.23 315.98h2.6v2.6h-2.6zM590.41 313.27h2.6v2.6h-2.6zM590.59 314.42h2.6v2.6h-2.6zM590.78 314.21h2.6v2.6h-2.6zM590.96 314.15h2.6v2.6h-2.6zM591.14 313.38h2.6v2.6h-2.6zM591.33 312.59h2.6v2.6h-2.6zM591.51 312.78h2.6v2.6h-2.6zM591.7 313.05h2.6v2.6h-2.6zM591.88 314.31h2.6v2.6h-2.6zM592.06 314.83h2.6v2.6h-2.6zM592.25 315.04h2.6v2.6h-2.6zM592.43 312.39h2.6v2.6h-2.6zM592.61 315.05h2.6v2.6h-2.6zM592.8 313.27h2.6v2.6h-2.6zM592.98 312.07h2.6v2.6h-2.6zM593.16 314.01h2.6v2.6h-2.6zM593.35 313.74h2.6v2.6h-2.6zM593.53 313.6h2.6v2.6h-2.6zM593.71 311.79h2.6v2.6h-2.6zM593.9 312.63h2.6v2.6h-2.6zM594.08 312.07h2.6v2.6h-2.6zM594.27 314.73h2.6v2.6h-2.6zM594.45 312.36h2.6v2.6h-2.6zM594.63 313.98h2.6v2.6h-2.6zM594.82 315.51h2.6v2.6h-2.6zM595 315.38h2.6v2.6h-2.6zM595.18 316.81h2.6v2.6h-2.6zM595.37 317.31h2.6v2.6h-2.6zM595.55 318.9h2.6v2.6h-2.6zM595.73 319.28h2.6v2.6h-2.6zM595.92 321.8h2.6v2.6h-2.6zM596.1 322.19h2.6v2.6h-2.6zM596.29 322.2h2.6v2.6h-2.6zM596.47 324.05h2.6v2.6h-2.6zM596.65 325.8h2.6v2.6h-2.6zM596.84 324.94h2.6v2.6h-2.6zM597.02 324.58h2.6v2.6h-2.6zM597.2 325.15h2.6v2.6h-2.6zM597.39 328.21h2.6v2.6h-2.6zM597.57 327.86h2.6v2.6h-2.6zM597.75 328.86h2.6v2.6h-2.6zM597.94 328.94h2.6v2.6h-2.6zM598.12 327.28h2.6v2.6h-2.6zM598.3 329.51h2.6v2.6h-2.6zM598.49 330.27h2.6v2.6h-2.6zM598.67 330.78h2.6v2.6h-2.6zM598.86 330.56h2.6v2.6h-2.6zM599.04 330.13h2.6v2.6h-2.6zM599.22 331.55h2.6v2.6h-2.6zM599.41 332.39h2.6v2.6h-2.6zM599.59 332.55h2.6v2.6h-2.6zM599.77 332.71h2.6v2.6h-2.6zM599.96 330.8h2.6v2.6h-2.6zM600.14 333.54h2.6v2.6h-2.6zM600.32 331.81h2.6v2.6h-2.6zM600.51 334.23h2.6v2.6h-2.6zM600.69 332.17h2.6v2.6h-2.6zM600.88 334.14h2.6v2.6h-2.6zM601.06 332.62h2.6v2.6h-2.6zM601.24 333.99h2.6v2.6h-2.6zM601.43 335.38h2.6v2.6h-2.6zM601.61 335.51h2.6v2.6h-2.6zM601.79 333.3h2.6v2.6h-2.6zM601.98 334.35h2.6v2.6h-2.6zM602.16 334.7h2.6v2.6h-2.6zM602.34 335.31h2.6v2.6h-2.6zM602.53 334.32h2.6v2.6h-2.6zM602.71 335.17h2.6v2.6h-2.6zM602.89 336.74h2.6v2.6h-2.6zM603.08 335.05h2.6v2.6h-2.6zM603.26 336.16h2.6v2.6h-2.6zM603.45 334.49h2.6v2.6h-2.6zM603.63 335.62h2.6v2.6h-2.6zM603.81 334.98h2.6v2.6h-2.6zM604 337.3h2.6v2.6h-2.6zM604.18 335.43h2.6v2.6h-2.6zM604.36 335.86h2.6v2.6h-2.6zM604.55 335.16h2.6v2.6h-2.6zM604.73 335.15h2.6v2.6h-2.6zM604.91 336.37h2.6v2.6h-2.6zM605.1 336.33h2.6v2.6h-2.6zM605.28 335.83h2.6v2.6h-2.6zM605.47 337.61h2.6v2.6h-2.6zM605.65 336.75h2.6v2.6h-2.6zM605.83 336.02h2.6v2.6h-2.6zM606.02 336.75h2.6v2.6h-2.6zM606.2 337h2.6v2.6h-2.6zM606.38 336.02h2.6v2.6h-2.6zM606.57 335.69h2.6v2.6h-2.6zM606.75 338.18h2.6v2.6h-2.6zM606.93 338.87h2.6v2.6h-2.6zM607.12 337.12h2.6v2.6h-2.6zM607.3 338.75h2.6v2.6h-2.6zM607.48 336.04h2.6v2.6h-2.6zM607.67 337.77h2.6v2.6h-2.6zM607.85 337.63h2.6v2.6h-2.6zM608.04 336.67h2.6v2.6h-2.6zM608.22 336.5h2.6v2.6h-2.6zM608.31 338.35h2.6v2.6h-2.6zM608.4 334.7h2.6v2.6h-2.6zM608.46 332.95h2.6v2.6h-2.6zM608.53 330.34h2.6v2.6h-2.6zM608.59 329.71h2.6v2.6h-2.6zM608.65 326.14h2.6v2.6h-2.6zM608.71 325.33h2.6v2.6h-2.6zM608.77 323.76h2.6v2.6h-2.6zM608.86 320.7h2.6v2.6h-2.6zM608.95 318.26h2.6v2.6h-2.6zM609.05 317.82h2.6v2.6h-2.6zM609.14 315.93h2.6v2.6h-2.6zM609.23 314.04h2.6v2.6h-2.6zM609.32 314.08h2.6v2.6h-2.6zM609.41 312.35h2.6v2.6h-2.6zM609.5 309.36h2.6v2.6h-2.6zM609.69 309.62h2.6v2.6h-2.6zM609.87 306.09h2.6v2.6h-2.6zM610.06 304.53h2.6v2.6h-2.6zM610.24 303.76h2.6v2.6h-2.6zM610.42 303.5h2.6v2.6h-2.6zM610.61 300.83h2.6v2.6h-2.6zM610.79 300.28h2.6v2.6h-2.6zM610.97 301.99h2.6v2.6h-2.6zM611.16 298.58h2.6v2.6h-2.6zM611.34 298.91h2.6v2.6h-2.6zM611.52 299.59h2.6v2.6h-2.6zM611.71 299.57h2.6v2.6h-2.6zM611.89 299.42h2.6v2.6h-2.6zM612.07 296.65h2.6v2.6h-2.6zM612.26 296.2h2.6v2.6h-2.6zM612.44 297.59h2.6v2.6h-2.6zM612.63 297.88h2.6v2.6h-2.6zM612.81 297.99h2.6v2.6h-2.6zM612.99 296.61h2.6v2.6h-2.6zM613.18 296.78h2.6v2.6h-2.6zM613.36 297.4h2.6v2.6h-2.6zM613.54 296.38h2.6v2.6h-2.6zM613.73 294.43h2.6v2.6h-2.6zM613.91 296.81h2.6v2.6h-2.6zM614.09 295.5h2.6v2.6h-2.6zM614.28 294.97h2.6v2.6h-2.6zM614.46 296.01h2.6v2.6h-2.6zM614.65 296.3h2.6v2.6h-2.6zM614.83 296.03h2.6v2.6h-2.6zM615.01 295.67h2.6v2.6h-2.6zM615.2 292.74h2.6v2.6h-2.6zM615.38 293.01h2.6v2.6h-2.6zM615.56 293.42h2.6v2.6h-2.6zM615.75 292.66h2.6v2.6h-2.6zM615.93 294.5h2.6v2.6h-2.6zM616.11 294.65h2.6v2.6h-2.6zM616.3 292.47h2.6v2.6h-2.6zM616.48 293.27h2.6v2.6h-2.6zM616.66 292.11h2.6v2.6h-2.6zM616.85 293.93h2.6v2.6h-2.6zM617.03 293.67h2.6v2.6h-2.6zM617.22 292.56h2.6v2.6h-2.6zM617.4 291.93h2.6v2.6h-2.6zM617.58 294.28h2.6v2.6h-2.6zM617.77 293.89h2.6v2.6h-2.6zM617.95 294.66h2.6v2.6h-2.6zM618.13 292.76h2.6v2.6h-2.6zM618.32 291.47h2.6v2.6h-2.6zM618.5 292.61h2.6v2.6h-2.6zM618.68 293.97h2.6v2.6h-2.6zM618.87 292.09h2.6v2.6h-2.6zM619.05 292.18h2.6v2.6h-2.6zM619.24 293.97h2.6v2.6h-2.6zM619.42 291.19h2.6v2.6h-2.6zM619.6 292h2.6v2.6h-2.6zM619.79 292.53h2.6v2.6h-2.6zM619.97 292.98h2.6v2.6h-2.6zM620.15 293.56h2.6v2.6h-2.6zM620.34 292.49h2.6v2.6h-2.6zM620.52 292.79h2.6v2.6h-2.6zM620.7 293.21h2.6v2.6h-2.6zM620.89 291.78h2.6v2.6h-2.6zM621.07 291.69h2.6v2.6h-2.6zM621.25 290.67h2.6v2.6h-2.6zM621.44 290.59h2.6v2.6h-2.6zM621.62 292.26h2.6v2.6h-2.6zM621.81 291.39h2.6v2.6h-2.6zM621.99 292.51h2.6v2.6h-2.6zM622.17 292.29h2.6v2.6h-2.6zM622.36 291.81h2.6v2.6h-2.6zM622.54 290.39h2.6v2.6h-2.6zM622.63 294.15h2.6v2.6h-2.6zM622.72 294.86h2.6v2.6h-2.6zM622.82 296.31h2.6v2.6h-2.6zM622.91 296.24h2.6v2.6h-2.6zM623 297.75h2.6v2.6h-2.6zM623.09 299.73h2.6v2.6h-2.6zM623.18 301.47h2.6v2.6h-2.6zM623.27 301.52h2.6v2.6h-2.6zM623.46 303.59h2.6v2.6h-2.6zM623.64 305.15h2.6v2.6h-2.6zM623.83 306.58h2.6v2.6h-2.6zM624.01 309.28h2.6v2.6h-2.6zM624.19 310.53h2.6v2.6h-2.6zM624.38 311.24h2.6v2.6h-2.6zM624.56 315.06h2.6v2.6h-2.6zM624.74 315.59h2.6v2.6h-2.6zM624.93 315.26h2.6v2.6h-2.6zM625.11 315.38h2.6v2.6h-2.6zM625.29 316.54h2.6v2.6h-2.6zM625.48 319.74h2.6v2.6h-2.6zM625.66 318.32h2.6v2.6h-2.6zM625.84 321.52h2.6v2.6h-2.6zM626.03 321.75h2.6v2.6h-2.6zM626.21 323.52h2.6v2.6h-2.6zM626.4 322.74h2.6v2.6h-2.6zM626.58 324.14h2.6v2.6h-2.6zM626.76 323.8h2.6v2.6h-2.6zM626.95 323.5h2.6v2.6h-2.6zM627.13 326.89h2.6v2.6h-2.6zM627.31 325.65h2.6v2.6h-2.6zM627.5 326.37h2.6v2.6h-2.6zM627.68 327.97h2.6v2.6h-2.6zM627.86 329.26h2.6v2.6h-2.6zM628.05 326.67h2.6v2.6h-2.6zM628.23 327.92h2.6v2.6h-2.6zM628.42 328.57h2.6v2.6h-2.6zM628.6 330.74h2.6v2.6h-2.6zM628.78 328.42h2.6v2.6h-2.6zM628.97 330.48h2.6v2.6h-2.6zM629.15 330.6h2.6v2.6h-2.6zM629.33 330.62h2.6v2.6h-2.6zM629.52 331.31h2.6v2.6h-2.6zM629.7 329.9h2.6v2.6h-2.6zM629.88 331.84h2.6v2.6h-2.6zM630.07 331.41h2.6v2.6h-2.6zM630.25 331.35h2.6v2.6h-2.6zM630.43 331.07h2.6v2.6h-2.6zM630.62 333.89h2.6v2.6h-2.6zM630.8 333.56h2.6v2.6h-2.6zM630.99 331.73h2.6v2.6h-2.6zM631.17 333.11h2.6v2.6h-2.6zM631.35 334.11h2.6v2.6h-2.6zM631.54 332.6h2.6v2.6h-2.6zM631.72 335.37h2.6v2.6h-2.6zM631.9 335.1h2.6v2.6h-2.6zM632.09 335.91h2.6v2.6h-2.6zM632.27 334.05h2.6v2.6h-2.6zM632.45 334.84h2.6v2.6h-2.6zM632.64 335.62h2.6v2.6h-2.6zM632.82 335.32h2.6v2.6h-2.6zM633.01 336.1h2.6v2.6h-2.6zM633.19 334.71h2.6v2.6h-2.6zM633.37 334.68h2.6v2.6h-2.6zM633.56 336.09h2.6v2.6h-2.6zM633.74 334.58h2.6v2.6h-2.6zM633.92 337.48h2.6v2.6h-2.6zM634.11 335.85h2.6v2.6h-2.6zM634.29 337.36h2.6v2.6h-2.6zM634.47 337.59h2.6v2.6h-2.6zM634.66 336.22h2.6v2.6h-2.6zM634.84 337.91h2.6v2.6h-2.6zM635.02 338.06h2.6v2.6h-2.6zM635.21 337.96h2.6v2.6h-2.6zM635.39 337.46h2.6v2.6h-2.6zM635.43 334.42h2.6v2.6h-2.6zM635.47 333.27h2.6v2.6h-2.6zM635.5 331.48h2.6v2.6h-2.6zM635.54 328.33h2.6v2.6h-2.6zM635.58 325.64h2.6v2.6h-2.6zM635.62 323.29h2.6v2.6h-2.6zM635.67 322.85h2.6v2.6h-2.6zM635.71 320.61h2.6v2.6h-2.6zM635.76 318.23h2.6v2.6h-2.6zM635.81 315.13h2.6v2.6h-2.6zM635.85 313.86h2.6v2.6h-2.6zM635.9 311.66h2.6v2.6h-2.6zM635.94 311.62h2.6v2.6h-2.6zM636 308.58h2.6v2.6h-2.6zM636.07 306.05h2.6v2.6h-2.6zM636.13 305.46h2.6v2.6h-2.6zM636.19 302.78h2.6v2.6h-2.6zM636.25 300.56h2.6v2.6h-2.6zM636.31 298.32h2.6v2.6h-2.6zM636.4 296.99h2.6v2.6h-2.6zM636.49 294.16h2.6v2.6h-2.6zM636.59 292.57h2.6v2.6h-2.6zM636.68 291.4h2.6v2.6h-2.6zM636.77 290.53h2.6v2.6h-2.6zM636.86 289.71h2.6v2.6h-2.6zM636.95 288.18h2.6v2.6h-2.6zM637.04 284.81h2.6v2.6h-2.6zM637.23 283.81h2.6v2.6h-2.6zM637.41 281.93h2.6v2.6h-2.6zM637.6 279.47h2.6v2.6h-2.6zM637.78 278.75h2.6v2.6h-2.6zM637.96 278.59h2.6v2.6h-2.6zM638.15 276.91h2.6v2.6h-2.6zM638.33 277.74h2.6v2.6h-2.6zM638.51 276.39h2.6v2.6h-2.6zM638.7 275.39h2.6v2.6h-2.6zM638.88 273.25h2.6v2.6h-2.6zM639.06 273.14h2.6v2.6h-2.6zM639.25 272.84h2.6v2.6h-2.6zM639.43 273.09h2.6v2.6h-2.6zM639.61 272.82h2.6v2.6h-2.6zM639.8 272.33h2.6v2.6h-2.6zM639.98 273.1h2.6v2.6h-2.6zM640.17 271.72h2.6v2.6h-2.6zM640.35 269.57h2.6v2.6h-2.6zM640.53 269.6h2.6v2.6h-2.6zM640.72 271.24h2.6v2.6h-2.6zM640.9 270.14h2.6v2.6h-2.6zM641.08 269.08h2.6v2.6h-2.6zM641.27 270.69h2.6v2.6h-2.6zM641.45 269.95h2.6v2.6h-2.6zM641.63 268.97h2.6v2.6h-2.6zM641.82 270.12h2.6v2.6h-2.6zM642 267.5h2.6v2.6h-2.6zM642.19 270.33h2.6v2.6h-2.6zM642.37 267.25h2.6v2.6h-2.6zM642.55 267.81h2.6v2.6h-2.6zM642.74 268.57h2.6v2.6h-2.6zM642.92 268.79h2.6v2.6h-2.6zM643.1 266.69h2.6v2.6h-2.6zM643.29 267.09h2.6v2.6h-2.6zM643.47 268.65h2.6v2.6h-2.6zM643.65 268.16h2.6v2.6h-2.6zM643.84 268.8h2.6v2.6h-2.6zM644.02 266.88h2.6v2.6h-2.6zM644.2 267.46h2.6v2.6h-2.6zM644.39 267.72h2.6v2.6h-2.6zM644.57 266.31h2.6v2.6h-2.6zM644.76 267.73h2.6v2.6h-2.6zM644.94 268.02h2.6v2.6h-2.6zM645.12 265.72h2.6v2.6h-2.6zM645.31 265.33h2.6v2.6h-2.6zM645.49 265.52h2.6v2.6h-2.6zM645.67 266.28h2.6v2.6h-2.6zM645.86 265.67h2.6v2.6h-2.6zM646.04 265.1h2.6v2.6h-2.6zM646.22 267.81h2.6v2.6h-2.6zM646.41 266.87h2.6v2.6h-2.6zM646.59 266.61h2.6v2.6h-2.6zM646.78 265.28h2.6v2.6h-2.6zM646.96 266.56h2.6v2.6h-2.6zM647.14 265.06h2.6v2.6h-2.6zM647.33 266.71h2.6v2.6h-2.6zM647.51 264.33h2.6v2.6h-2.6zM647.69 266.01h2.6v2.6h-2.6zM647.88 265.43h2.6v2.6h-2.6zM648.06 265.26h2.6v2.6h-2.6zM648.24 264.56h2.6v2.6h-2.6zM648.43 265.39h2.6v2.6h-2.6zM648.61 266.54h2.6v2.6h-2.6zM648.79 265.72h2.6v2.6h-2.6zM648.98 265.27h2.6v2.6h-2.6zM649.16 266.89h2.6v2.6h-2.6zM649.35 264.3h2.6v2.6h-2.6zM649.53 266.03h2.6v2.6h-2.6zM649.71 263.93h2.6v2.6h-2.6zM649.9 265.75h2.6v2.6h-2.6zM650.08 263.76h2.6v2.6h-2.6zM650.17 266.98h2.6v2.6h-2.6zM650.26 269.79h2.6v2.6h-2.6zM650.36 271.07h2.6v2.6h-2.6zM650.45 274.98h2.6v2.6h-2.6zM650.54 275.88h2.6v2.6h-2.6zM650.63 276.62h2.6v2.6h-2.6zM650.72 278.94h2.6v2.6h-2.6zM650.81 280.57h2.6v2.6h-2.6zM650.91 281.47h2.6v2.6h-2.6zM651 283.47h2.6v2.6h-2.6zM651.09 284.62h2.6v2.6h-2.6zM651.18 285.42h2.6v2.6h-2.6zM651.27 287.04h2.6v2.6h-2.6zM651.37 290.24h2.6v2.6h-2.6zM651.46 289.66h2.6v2.6h-2.6zM651.55 290.59h2.6v2.6h-2.6zM651.64 293.07h2.6v2.6h-2.6zM651.73 295.17h2.6v2.6h-2.6zM651.92 297h2.6v2.6h-2.6zM652.1 299.37h2.6v2.6h-2.6zM652.28 299.65h2.6v2.6h-2.6zM652.47 300h2.6v2.6h-2.6zM652.65 303.41h2.6v2.6h-2.6zM652.83 305.7h2.6v2.6h-2.6zM653.02 307.53h2.6v2.6h-2.6zM653.2 306.21h2.6v2.6h-2.6zM653.38 308.96h2.6v2.6h-2.6zM653.57 311.25h2.6v2.6h-2.6zM653.75 310.16h2.6v2.6h-2.6zM653.94 312.92h2.6v2.6h-2.6zM654.12 312.05h2.6v2.6h-2.6zM654.3 314.64h2.6v2.6h-2.6zM654.49 316.46h2.6v2.6h-2.6zM654.67 317.58h2.6v2.6h-2.6zM654.85 318.99h2.6v2.6h-2.6zM655.04 317.1h2.6v2.6h-2.6zM655.22 319.51h2.6v2.6h-2.6zM655.4 318.89h2.6v2.6h-2.6zM655.59 319.21h2.6v2.6h-2.6zM655.77 321.35h2.6v2.6h-2.6zM655.96 321.61h2.6v2.6h-2.6zM656.14 321.51h2.6v2.6h-2.6zM656.32 322.35h2.6v2.6h-2.6zM656.51 323.85h2.6v2.6h-2.6zM656.69 324.93h2.6v2.6h-2.6zM656.87 325.14h2.6v2.6h-2.6zM657.06 326.52h2.6v2.6h-2.6zM657.24 324.91h2.6v2.6h-2.6zM657.42 325.34h2.6v2.6h-2.6zM657.61 325.31h2.6v2.6h-2.6zM657.79 326.85h2.6v2.6h-2.6zM657.97 326.26h2.6v2.6h-2.6zM658.16 327.22h2.6v2.6h-2.6zM658.34 326.59h2.6v2.6h-2.6zM658.53 327.96h2.6v2.6h-2.6zM658.71 327.88h2.6v2.6h-2.6zM658.89 328.45h2.6v2.6h-2.6zM659.08 330.1h2.6v2.6h-2.6zM659.26 330.83h2.6v2.6h-2.6zM659.44 328.61h2.6v2.6h-2.6zM659.63 329.31h2.6v2.6h-2.6zM659.81 330.2h2.6v2.6h-2.6zM659.99 329.09h2.6v2.6h-2.6zM660.18 331.81h2.6v2.6h-2.6zM660.36 330.19h2.6v2.6h-2.6zM660.55 331.2h2.6v2.6h-2.6zM660.73 332.76h2.6v2.6h-2.6zM660.91 332.9h2.6v2.6h-2.6zM661.1 333.45h2.6v2.6h-2.6zM661.28 333.1h2.6v2.6h-2.6zM661.46 331.31h2.6v2.6h-2.6zM661.65 332.51h2.6v2.6h-2.6zM661.83 334.14h2.6v2.6h-2.6zM662.01 332.81h2.6v2.6h-2.6zM662.2 331.36h2.6v2.6h-2.6zM662.38 332.14h2.6v2.6h-2.6zM662.56 333.94h2.6v2.6h-2.6zM662.75 333.48h2.6v2.6h-2.6zM662.93 334.02h2.6v2.6h-2.6zM663.12 334.62h2.6v2.6h-2.6zM663.3 333.31h2.6v2.6h-2.6zM663.48 335.59h2.6v2.6h-2.6zM663.67 334.19h2.6v2.6h-2.6zM663.85 332.78h2.6v2.6h-2.6zM664.03 332.8h2.6v2.6h-2.6zM664.22 332.57h2.6v2.6h-2.6zM664.4 331.42h2.6v2.6h-2.6zM664.58 330.45h2.6v2.6h-2.6zM664.77 332.19h2.6v2.6h-2.6zM664.95 329.34h2.6v2.6h-2.6zM665.14 328.96h2.6v2.6h-2.6z" fill="none" stroke="#111" stroke-width="0.9" />
<path d="M550.4 335.86l1.95 3.39h-3.9zM550.54 335.35l1.95 3.39h-3.9zM550.68 335.03l1.95 3.39h-3.9zM550.81 332.7l1.95 3.39h-3.9zM550.95 334.32l1.95 3.39h-3.9zM551.09 333.47l1.95 3.39h-3.9zM551.23 335.94l1.95 3.39h-3.9zM551.36 334.36l1.95 3.39h-3.9zM551.5 333.07l1.95 3.39h-3.9zM551.64 334.36l1.95 3.39h-3.9zM551.78 332.72l1.95 3.39h-3.9zM551.91 333l1.95 3.39h-3.9zM552.05 335.04l1.95 3.39h-3.9zM552.19 336.53l1.95 3.39h-3.9zM552.33 333.58l1.95 3.39h-3.9zM552.47 336.09l1.95 3.39h-3.9zM552.6 336.58l1.95 3.39h-3.9zM552.74 333.76l1.95 3.39h-3.9zM552.88 333.35l1.95 3.39h-3.9zM553.02 333.4l1.95 3.39h-3.9zM553.15 332.97l1.95 3.39h-3.9zM553.29 335.96l1.95 3.39h-3.9zM553.43 336.46l1.95 3.39h-3.9zM553.57 336.34l1.95 3.39h-3.9zM553.7 332.99l1.95 3.39h-3.9zM553.84 336.43l1.95 3.39h-3.9zM553.98 336.24l1.95 3.39h-3.9zM554.12 336.79l1.95 3.39h-3.9zM554.26 336.67l1.95 3.39h-3.9zM554.39 336.72l1.95 3.39h-3.9zM554.53 335.48l1.95 3.39h-3.9zM554.67 336.22l1.95 3.39h-3.9zM554.81 335.65l1.95 3.39h-3.9zM554.94 333.21l1.95 3.39h-3.9zM555.08 335.74l1.95 3.39h-3.9zM555.22 332.49l1.95 3.39h-3.9zM555.36 332.17l1.95 3.39h-3.9zM555.49 332.25l1.95 3.39h-3.9zM555.63 331.68l1.95 3.39h-3.9zM555.77 330.41l1.95 3.39h-3.9zM555.91 330.65l1.95 3.39h-3.9zM556.05 331.63l1.95 3.39h-3.9zM556.18 330.83l1.95 3.39h-3.9zM556.32 330.78l1.95 3.39h-3.9zM556.46 329.81l1.95 3.39h-3.9zM556.6 327.16l1.95 3.39h-3.9zM556.73 329.07l1.95 3.39h-3.9zM556.87 330.18l1.95 3.39h-3.9zM557.01 328.3l1.95 3.39h-3.9zM557.15 326.72l1.95 3.39h-3.9zM557.28 327.91l1.95 3.39h-3.9zM557.42 326.68l1.95 3.39h-3.9zM557.56 328.87l1.95 3.39h-3.9zM557.7 328.77l1.95 3.39h-3.9zM557.84 326.21l1.95 3.39h-3.9zM557.97 328.44l1.95 3.39h-3.9zM558.11 327.27l1.95 3.39h-3.9zM558.25 326.77l1.95 3.39h-3.9zM558.39 327.37l1.95 3.39h-3.9zM558.52 327.83l1.95 3.39h-3.9zM558.66 327.8l1.95 3.39h-3.9zM558.8 323.94l1.95 3.39h-3.9zM558.94 324.84l1.95 3.39h-3.9zM559.08 323.68l1.95 3.39h-3.9zM559.21 325.37l1.95 3.39h-3.9zM559.35 323.42l1.95 3.39h-3.9zM559.49 323.67l1.95 3.39h-3.9zM559.63 324.53l1.95 3.39h-3.9zM559.76 324.79l1.95 3.39h-3.9zM559.9 324.75l1.95 3.39h-3.9zM560.04 325.77l1.95 3.39h-3.9zM560.18 325.08l1.95 3.39h-3.9zM560.31 323.62l1.95 3.39h-3.9zM560.45 325.61l1.95 3.39h-3.9zM560.59 322.95l1.95 3.39h-3.9zM560.73 324.2l1.95 3.39h-3.9zM560.87 323.75l1.95 3.39h-3.9zM561 322.82l1.95 3.39h-3.9zM561.14 323.43l1.95 3.39h-3.9zM561.28 325.36l1.95 3.39h-3.9zM561.42 324.86l1.95 3.39h-3.9zM561.55 325.76l1.95 3.39h-3.9zM561.69 325.59l1.95 3.39h-3.9zM561.83 321.89l1.95 3.39h-3.9zM561.97 323.24l1.95 3.39h-3.9zM562.1 321.69l1.95 3.39h-3.9zM562.24 322.37l1.95 3.39h-3.9zM562.38 324.15l1.95 3.39h-3.9zM562.52 321.52l1.95 3.39h-3.9zM562.66 321.65l1.95 3.39h-3.9zM562.79 323.43l1.95 3.39h-3.9zM562.93 324.85l1.95 3.39h-3.9zM563.07 323.87l1.95 3.39h-3.9zM563.21 324.42l1.95 3.39h-3.9zM563.34 323.59l1.95 3.39h-3.9zM563.48 324.65l1.95 3.39h-3.9zM563.62 322.12l1.95 3.39h-3.9zM563.76 321.03l1.95 3.39h-3.9zM563.89 324.01l1.95 3.39h-3.9zM564.03 321.73l1.95 3.39h-3.9zM564.17 322.46l1.95 3.39h-3.9zM564.31 322.82l1.95 3.39h-3.9zM564.45 321.11l1.95 3.39h-3.9zM564.58 323.16l1.95 3.39h-3.9zM564.72 321.37l1.95 3.39h-3.9zM564.86 324.43l1.95 3.39h-3.9zM565 320.73l1.95 3.39h-3.9zM565.13 323.78l1.95 3.39h-3.9zM565.27 324.45l1.95 3.39h-3.9zM565.41 320.96l1.95 3.39h-3.9zM565.55 321.56l1.95 3.39h-3.9zM565.68 321.71l1.95 3.39h-3.9zM565.82 321.32l1.95 3.39h-3.9zM565.96 322.82l1.95 3.39h-3.9zM566.1 323.83l1.95 3.39h-3.9zM566.24 323l1.95 3.39h-3.9zM566.37 320.47l1.95 3.39h-3.9zM566.51 320.49l1.95 3.39h-3.9zM566.65 323.9l1.95 3.39h-3.9zM566.79 323.49l1.95 3.39h-3.9zM566.92 323.88l1.95 3.39h-3.9zM567.06 322.47l1.95 3.39h-3.9zM567.2 326.38l1.95 3.39h-3.9zM567.34 323.49l1.95 3.39h-3.9zM567.47 326.09l1.95 3.39h-3.9zM567.61 325.24l1.95 3.39h-3.9zM567.75 327.2l1.95 3.39h-3.9zM567.89 327.66l1.95 3.39h-3.9zM568.03 324.79l1.95 3.39h-3.9zM568.16 326.55l1.95 3.39h-3.9zM568.3 324.96l1.95 3.39h-3.9zM568.44 325.62l1.95 3.39h-3.9zM568.58 326.29l1.95 3.39h-3.9zM568.71 329.19l1.95 3.39h-3.9zM568.85 327.37l1.95 3.39h-3.9zM568.99 325.99l1.95 3.39h-3.9zM569.13 328.11l1.95 3.39h-3.9zM569.26 330.02l1.95 3.39h-3.9zM569.4 329.73l1.95 3.39h-3.9zM569.54 326.74l1.95 3.39h-3.9zM569.68 326.96l1.95 3.39h-3.9zM569.82 329.99l1.95 3.39h-3.9zM569.95 329.87l1.95 3.39h-3.9zM570.09 328.45l1.95 3.39h-3.9zM570.23 329.41l1.95 3.39h-3.9zM570.37 330.83l1.95 3.39h-3.9zM570.5 327.81l1.95 3.39h-3.9zM570.64 329.38l1.95 3.39h-3.9zM570.78 330.51l1.95 3.39h-3.9zM570.92 331.99l1.95 3.39h-3.9zM571.05 330.18l1.95 3.39h-3.9zM571.19 329.34l1.95 3.39h-3.9zM571.33 331.72l1.95 3.39h-3.9zM571.47 332.18l1.95 3.39h-3.9zM571.61 329.78l1.95 3.39h-3.9zM571.74 329.11l1.95 3.39h-3.9zM571.88 331.35l1.95 3.39h-3.9zM572.02 331.07l1.95 3.39h-3.9zM572.16 330.52l1.95 3.39h-3.9zM572.29 331.07l1.95 3.39h-3.9zM572.43 332.7l1.95 3.39h-3.9zM572.57 332.21l1.95 3.39h-3.9zM572.71 332.56l1.95 3.39h-3.9zM572.85 332.68l1.95 3.39h-3.9zM572.98 333.19l1.95 3.39h-3.9zM573.12 332.07l1.95 3.39h-3.9zM573.26 332.83l1.95 3.39h-3.9zM573.4 330.43l1.95 3.39h-3.9zM573.53 332.57l1.95 3.39h-3.9zM573.67 330.11l1.95 3.39h-3.9zM573.81 330.78l1.95 3.39h-3.9zM573.95 332.98l1.95 3.39h-3.9zM574.08 333.5l1.95 3.39h-3.9zM574.22 331.92l1.95 3.39h-3.9zM574.36 332.37l1.95 3.39h-3.9zM574.5 332.19l1.95 3.39h-3.9zM574.64 333.87l1.95 3.39h-3.9zM574.77 332.32l1.95 3.39h-3.9zM574.91 331.48l1.95 3.39h-3.9zM575.05 332.77l1.95 3.39h-3.9zM575.19 333.57l1.95 3.39h-3.9zM575.32 331l1.95 3.39h-3.9zM575.46 333.52l1.95 3.39h-3.9zM575.6 330.81l1.95 3.39h-3.9zM575.74 332.07l1.95 3.39h-3.9zM575.87 334.82l1.95 3.39h-3.9zM576.01 333.12l1.95 3.39h-3.9zM576.15 334.34l1.95 3.39h-3.9zM576.29 331.88l1.95 3.39h-3.9zM576.43 333.36l1.95 3.39h-3.9zM576.56 334.72l1.95 3.39h-3.9zM576.7 331.35l1.95 3.39h-3.9zM576.84 332l1.95 3.39h-3.9zM576.98 332.79l1.95 3.39h-3.9zM577.11 332.99l1.95 3.39h-3.9zM577.25 334.97l1.95 3.39h-3.9zM577.39 331.43l1.95 3.39h-3.9zM577.53 334.15l1.95 3.39h-3.9zM577.66 333.31l1.95 3.39h-3.9zM577.8 333.48l1.95 3.39h-3.9zM577.94 333.59l1.95 3.39h-3.9zM578.08 335.41l1.95 3.39h-3.9zM578.22 332l1.95 3.39h-3.9zM578.35 333.61l1.95 3.39h-3.9zM578.49 334.03l1.95 3.39h-3.9zM578.63 332.22l1.95 3.39h-3.9zM578.77 332.26l1.95 3.39h-3.9zM578.9 332.84l1.95 3.39h-3.9zM579.04 332.13l1.95 3.39h-3.9zM579.18 334.36l1.95 3.39h-3.9zM579.32 335.35l1.95 3.39h-3.9zM579.45 334.42l1.95 3.39h-3.9zM579.59 333.45l1.95 3.39h-3.9zM579.73 332.75l1.95 3.39h-3.9zM579.87 332.98l1.95 3.39h-3.9zM580.01 333.42l1.95 3.39h-3.9zM580.14 333.56l1.95 3.39h-3.9zM580.28 333.32l1.95 3.39h-3.9zM580.42 333.71l1.95 3.39h-3.9zM580.56 335.94l1.95 3.39h-3.9zM580.69 333.87l1.95 3.39h-3.9zM580.83 334.96l1.95 3.39h-3.9zM580.97 335.78l1.95 3.39h-3.9zM581.11 333.68l1.95 3.39h-3.9zM581.24 332.8l1.95 3.39h-3.9zM581.38 335.02l1.95 3.39h-3.9zM581.52 333.51l1.95 3.39h-3.9zM581.66 333.77l1.95 3.39h-3.9zM581.8 333.76l1.95 3.39h-3.9zM581.93 333.22l1.95 3.39h-3.9zM582.07 334.13l1.95 3.39h-3.9zM582.21 335.12l1.95 3.39h-3.9zM582.35 331.63l1.95 3.39h-3.9zM582.48 331.43l1.95 3.39h-3.9zM582.62 330.01l1.95 3.39h-3.9zM582.76 327.9l1.95 3.39h-3.9zM582.9 328.9l1.95 3.39h-3.9zM583.03 326.18l1.95 3.39h-3.9zM583.17 324.1l1.95 3.39h-3.9zM583.31 326.71l1.95 3.39h-3.9zM583.45 322.89l1.95 3.39h-3.9zM583.59 322.79l1.95 3.39h-3.9zM583.72 323.33l1.95 3.39h-3.9zM583.86 321.31l1.95 3.39h-3.9zM584 323.45l1.95 3.39h-3.9zM584.14 322.59l1.95 3.39h-3.9zM584.27 318.81l1.95 3.39h-3.9zM584.41 319.82l1.95 3.39h-3.9zM584.55 321.17l1.95 3.39h-3.9zM584.69 320.91l1.95 3.39h-3.9zM584.82 319.26l1.95 3.39h-3.9zM584.96 318.51l1.95 3.39h-3.9zM585.1 316.41l1.95 3.39h-3.9zM585.24 319.25l1.95 3.39h-3.9zM585.38 317.17l1.95 3.39h-3.9zM585.51 317.64l1.95 3.39h-3.9zM585.65 316.9l1.95 3.39h-3.9zM585.79 315.12l1.95 3.39h-3.9zM585.93 318.11l1.95 3.39h-3.9zM586.06 315.04l1.95 3.39h-3.9zM586.2 315.22l1.95 3.39h-3.9zM586.34 316.82l1.95 3.39h-3.9zM586.48 317.19l1.95 3.39h-3.9zM586.62 314.52l1.95 3.39h-3.9zM586.75 313.91l1.95 3.39h-3.9zM586.89 315.72l1.95 3.39h-3.9zM587.03 316.36l1.95 3.39h-3.9zM587.17 314.55l1.95 3.39h-3.9zM587.3 313.93l1.95 3.39h-3.9zM587.44 315l1.95 3.39h-3.9zM587.58 314.64l1.95 3.39h-3.9zM587.72 315.71l1.95 3.39h-3.9zM587.85 315.41l1.95 3.39h-3.9zM587.99 314.96l1.95 3.39h-3.9zM588.13 312.71l1.95 3.39h-3.9zM588.27 315.09l1.95 3.39h-3.9zM588.41 314.67l1.95 3.39h-3.9zM588.54 313.5l1.95 3.39h-3.9zM588.68 314.39l1.95 3.39h-3.9zM588.82 314.16l1.95 3.39h-3.9zM588.96 312.09l1.95 3.39h-3.9zM589.09 313.97l1.95 3.39h-3.9zM589.23 312.58l1.95 3.39h-3.9zM589.37 314.36l1.95 3.39h-3.9zM589.51 312.56l1.95 3.39h-3.9zM589.64 311.76l1.95 3.39h-3.9zM589.78 312.66l1.95 3.39h-3.9zM589.92 313.59l1.95 3.39h-3.9zM590.06 314.13l1.95 3.39h-3.9zM590.2 313.09l1.95 3.39h-3.9zM590.33 312.48l1.95 3.39h-3.9zM590.47 313.62l1.95 3.39h-3.9zM590.61 312.26l1.95 3.39h-3.9zM590.75 311.87l1.95 3.39h-3.9zM590.88 313.55l1.95 3.39h-3.9zM591.02 311.11l1.95 3.39h-3.9zM591.16 309.9l1.95 3.39h-3.9zM591.3 310.83l1.95 3.39h-3.9zM591.43 311.77l1.95 3.39h-3.9zM591.57 310.2l1.95 3.39h-3.9zM591.71 309.7l1.95 3.39h-3.9zM591.85 309.62l1.95 3.39h-3.9zM591.99 309.56l1.95 3.39h-3.9zM592.12 310.24l1.95 3.39h-3.9zM592.26 309.48l1.95 3.39h-3.9zM592.4 310.15l1.95 3.39h-3.9zM592.54 311.82l1.95 3.39h-3.9zM592.67 312.52l1.95 3.39h-3.9zM592.81 311.09l1.95 3.39h-3.9zM592.95 310.19l1.95 3.39h-3.9zM593.09 311.86l1.95 3.39h-3.9zM593.22 311.45l1.95 3.39h-3.9zM593.36 312.51l1.95 3.39h-3.9zM593.5 312.63l1.95 3.39h-3.9zM593.64 311.73l1.95 3.39h-3.9zM593.78 309.37l1.95 3.39h-3.9zM593.91 312.44l1.95 3.39h-3.9zM594.05 312.05l1.95 3.39h-3.9zM594.19 311.03l1.95 3.39h-3.9zM594.33 308.75l1.95 3.39h-3.9zM594.46 311.68l1.95 3.39h-3.9zM594.6 312.33l1.95 3.39h-3.9zM594.74 312.28l1.95 3.39h-3.9zM594.88 311.08l1.95 3.39h-3.9zM595.01 312.39l1.95 3.39h-3.9zM595.15 309.74l1.95 3.39h-3.9zM595.29 312.11l1.95 3.39h-3.9zM595.43 311.58l1.95 3.39h-3.9zM595.57 312l1.95 3.39h-3.9zM595.7 311.21l1.95 3.39h-3.9zM595.84 311.9l1.95 3.39h-3.9zM595.98 312.61l1.95 3.39h-3.9zM596.12 313.48l1.95 3.39h-3.9zM596.25 314.25l1.95 3.39h-3.9zM596.39 313.54l1.95 3.39h-3.9zM596.53 315.43l1.95 3.39h-3.9zM596.67 316.84l1.95 3.39h-3.9zM596.8 318.36l1.95 3.39h-3.9zM596.94 315.71l1.95 3.39h-3.9zM597.08 316.43l1.95 3.39h-3.9zM597.22 316.71l1.95 3.39h-3.9zM597.36 318.25l1.95 3.39h-3.9zM597.49 319.92l1.95 3.39h-3.9zM597.63 320.89l1.95 3.39h-3.9zM597.77 321.94l1.95 3.39h-3.9zM597.91 321.48l1.95 3.39h-3.9zM598.04 322.04l1.95 3.39h-3.9zM598.18 320.46l1.95 3.39h-3.9zM598.32 323.8l1.95 3.39h-3.9zM598.46 322.26l1.95 3.39h-3.9zM598.6 322.54l1.95 3.39h-3.9zM598.73 323.21l1.95 3.39h-3.9zM598.87 323.76l1.95 3.39h-3.9zM599.01 326.36l1.95 3.39h-3.9zM599.15 326.29l1.95 3.39h-3.9zM599.28 325.16l1.95 3.39h-3.9zM599.42 325.13l1.95 3.39h-3.9zM599.56 324.02l1.95 3.39h-3.9zM599.7 325.01l1.95 3.39h-3.9zM599.83 327.53l1.95 3.39h-3.9zM599.97 328.07l1.95 3.39h-3.9zM600.11 325.86l1.95 3.39h-3.9zM600.25 329.12l1.95 3.39h-3.9zM600.39 325.81l1.95 3.39h-3.9zM600.52 329.29l1.95 3.39h-3.9zM600.66 327.5l1.95 3.39h-3.9zM600.8 326.74l1.95 3.39h-3.9zM600.94 329.95l1.95 3.39h-3.9zM601.07 330.09l1.95 3.39h-3.9zM601.21 328.2l1.95 3.39h-3.9zM601.35 328.04l1.95 3.39h-3.9zM601.49 331.02l1.95 3.39h-3.9zM601.62 329.39l1.95 3.39h-3.9zM601.76 328.28l1.95 3.39h-3.9zM601.9 328.52l1.95 3.39h-3.9zM602.04 330.19l1.95 3.39h-3.9zM602.18 331.86l1.95 3.39h-3.9zM602.31 329.62l1.95 3.39h-3.9zM602.45 330.08l1.95 3.39h-3.9zM602.59 330.68l1.95 3.39h-3.9zM602.73 330.13l1.95 3.39h-3.9zM602.86 330.31l1.95 3.39h-3.9zM603 330.85l1.95 3.39h-3.9zM603.14 330.71l1.95 3.39h-3.9zM603.28 330.79l1.95 3.39h-3.9zM603.41 330.08l1.95 3.39h-3.9zM603.55 330.12l1.95 3.39h-3.9zM603.69 333.27l1.95 3.39h-3.9zM603.83 330.38l1.95 3.39h-3.9zM603.97 332.62l1.95 3.39h-3.9zM604.1 332.02l1.95 3.39h-3.9zM604.24 332.93l1.95 3.39h-3.9zM604.38 332.67l1.95 3.39h-3.9zM604.52 332.41l1.95 3.39h-3.9zM604.65 332.29l1.95 3.39h-3.9zM604.79 333.75l1.95 3.39h-3.9zM604.93 333.1l1.95 3.39h-3.9zM605.07 332.55l1.95 3.39h-3.9zM605.2 332.91l1.95 3.39h-3.9zM605.34 332.43l1.95 3.39h-3.9zM605.48 334.32l1.95 3.39h-3.9zM605.62 332.47l1.95 3.39h-3.9zM605.76 331.19l1.95 3.39h-3.9zM605.89 331.92l1.95 3.39h-3.9zM606.03 332.71l1.95 3.39h-3.9zM606.17 331.8l1.95 3.39h-3.9zM606.31 333.55l1.95 3.39h-3.9zM606.44 334.41l1.95 3.39h-3.9zM606.58 332.76l1.95 3.39h-3.9zM606.72 334.28l1.95 3.39h-3.9zM606.86 334.23l1.95 3.39h-3.9zM606.99 332.34l1.95 3.39h-3.9zM607.13 333.42l1.95 3.39h-3.9zM607.27 334.8l1.95 3.39h-3.9zM607.41 334.69l1.95 3.39h-3.9zM607.55 332.71l1.95 3.39h-3.9zM607.68 333.09l1.95 3.39h-3.9zM607.82 332.17l1.95 3.39h-3.9zM607.96 332.85l1.95 3.39h-3.9zM608.1 334.69l1.95 3.39h-3.9zM608.23 333.09l1.95 3.39h-3.9zM608.37 332.44l1.95 3.39h-3.9zM608.51 332.48l1.95 3.39h-3.9zM608.65 332.41l1.95 3.39h-3.9zM608.78 335.48l1.95 3.39h-3.9zM608.92 335.11l1.95 3.39h-3.9zM609.06 335.45l1.95 3.39h-3.9zM609.2 332.95l1.95 3.39h-3.9zM609.34 333.43l1.95 3.39h-3.9zM609.47 333.97l1.95 3.39h-3.9zM609.61 335.39l1.95 3.39h-3.9zM609.66 332.72l1.95 3.39h-3.9zM609.7 330.52l1.95 3.39h-3.9zM609.75 331.09l1.95 3.39h-3.9zM609.79 326.82l1.95 3.39h-3.9zM609.84 325.54l1.95 3.39h-3.9zM609.89 323.08l1.95 3.39h-3.9zM609.96 321.79l1.95 3.39h-3.9zM610.02 320.65l1.95 3.39h-3.9zM610.09 319.27l1.95 3.39h-3.9zM610.16 317.79l1.95 3.39h-3.9zM610.23 315.78l1.95 3.39h-3.9zM610.3 313.78l1.95 3.39h-3.9zM610.37 313.4l1.95 3.39h-3.9zM610.44 312.54l1.95 3.39h-3.9zM610.51 310.44l1.95 3.39h-3.9zM610.57 308.44l1.95 3.39h-3.9zM610.71 309.3l1.95 3.39h-3.9zM610.85 304.06l1.95 3.39h-3.9zM610.99 303.44l1.95 3.39h-3.9zM611.13 302.72l1.95 3.39h-3.9zM611.26 301.28l1.95 3.39h-3.9zM611.4 299.16l1.95 3.39h-3.9zM611.54 299.76l1.95 3.39h-3.9zM611.68 299.29l1.95 3.39h-3.9zM611.81 299.49l1.95 3.39h-3.9zM611.95 297.84l1.95 3.39h-3.9zM612.09 298.3l1.95 3.39h-3.9zM612.23 296.99l1.95 3.39h-3.9zM612.37 294.95l1.95 3.39h-3.9zM612.5 295.62l1.95 3.39h-3.9zM612.64 293.02l1.95 3.39h-3.9zM612.78 294.38l1.95 3.39h-3.9zM612.92 292.59l1.95 3.39h-3.9zM613.05 294.73l1.95 3.39h-3.9zM613.19 291.41l1.95 3.39h-3.9zM613.33 291.62l1.95 3.39h-3.9zM613.47 291.15l1.95 3.39h-3.9zM613.6 291.3l1.95 3.39h-3.9zM613.74 292.2l1.95 3.39h-3.9zM613.88 293.43l1.95 3.39h-3.9zM614.02 290.51l1.95 3.39h-3.9zM614.16 289.87l1.95 3.39h-3.9zM614.29 291.66l1.95 3.39h-3.9zM614.43 290.27l1.95 3.39h-3.9zM614.57 290.66l1.95 3.39h-3.9zM614.71 289.93l1.95 3.39h-3.9zM614.84 289.24l1.95 3.39h-3.9zM614.98 290.12l1.95 3.39h-3.9zM615.12 291.97l1.95 3.39h-3.9zM615.26 290.68l1.95 3.39h-3.9zM615.39 290.15l1.95 3.39h-3.9zM615.53 291.27l1.95 3.39h-3.9zM615.67 289.27l1.95 3.39h-3.9zM615.81 290.64l1.95 3.39h-3.9zM615.95 291.48l1.95 3.39h-3.9zM616.08 290.31l1.95 3.39h-3.9zM616.22 288.73l1.95 3.39h-3.9zM616.36 289.02l1.95 3.39h-3.9zM616.5 290.15l1.95 3.39h-3.9zM616.63 289.69l1.95 3.39h-3.9zM616.77 288.54l1.95 3.39h-3.9zM616.91 287.82l1.95 3.39h-3.9zM617.05 290.66l1.95 3.39h-3.9zM617.18 290.23l1.95 3.39h-3.9zM617.32 289.3l1.95 3.39h-3.9zM617.46 289.99l1.95 3.39h-3.9zM617.6 290.07l1.95 3.39h-3.9zM617.74 289.52l1.95 3.39h-3.9zM617.87 290.08l1.95 3.39h-3.9zM618.01 290.43l1.95 3.39h-3.9zM618.15 288.83l1.95 3.39h-3.9zM618.29 288.73l1.95 3.39h-3.9zM618.42 287.96l1.95 3.39h-3.9zM618.56 286.66l1.95 3.39h-3.9zM618.7 286.57l1.95 3.39h-3.9zM618.84 288.34l1.95 3.39h-3.9zM618.97 289.06l1.95 3.39h-3.9zM619.11 287.68l1.95 3.39h-3.9zM619.25 288.32l1.95 3.39h-3.9zM619.39 287.69l1.95 3.39h-3.9zM619.53 286.31l1.95 3.39h-3.9zM619.66 286.93l1.95 3.39h-3.9zM619.8 285.99l1.95 3.39h-3.9zM619.94 286.64l1.95 3.39h-3.9zM620.08 286.78l1.95 3.39h-3.9zM620.21 285.83l1.95 3.39h-3.9zM620.35 286.81l1.95 3.39h-3.9zM620.49 286.73l1.95 3.39h-3.9zM620.63 286.99l1.95 3.39h-3.9zM620.76 285.79l1.95 3.39h-3.9zM620.9 287.48l1.95 3.39h-3.9zM621.04 288l1.95 3.39h-3.9zM621.18 287.09l1.95 3.39h-3.9zM621.32 288.72l1.95 3.39h-3.9zM621.45 286.34l1.95 3.39h-3.9zM621.59 287.35l1.95 3.39h-3.9zM621.73 287.97l1.95 3.39h-3.9zM621.87 286.69l1.95 3.39h-3.9zM622 286.53l1.95 3.39h-3.9zM622.14 286.89l1.95 3.39h-3.9zM622.28 288.04l1.95 3.39h-3.9zM622.42 287.2l1.95 3.39h-3.9zM622.55 289.18l1.95 3.39h-3.9zM622.69 287.59l1.95 3.39h-3.9zM622.83 289.09l1.95 3.39h-3.9zM622.97 286.81l1.95 3.39h-3.9zM623.11 288.83l1.95 3.39h-3.9zM623.24 288.2l1.95 3.39h-3.9zM623.38 286.02l1.95 3.39h-3.9zM623.52 286.29l1.95 3.39h-3.9zM623.66 288.18l1.95 3.39h-3.9zM623.79 288.92l1.95 3.39h-3.9zM623.93 286.64l1.95 3.39h-3.9zM624.07 290.79l1.95 3.39h-3.9zM624.21 294.14l1.95 3.39h-3.9zM624.34 294.13l1.95 3.39h-3.9zM624.48 294.69l1.95 3.39h-3.9zM624.62 297.18l1.95 3.39h-3.9zM624.76 299.95l1.95 3.39h-3.9zM624.9 300.49l1.95 3.39h-3.9zM625.03 302.46l1.95 3.39h-3.9zM625.17 301.48l1.95 3.39h-3.9zM625.31 303.31l1.95 3.39h-3.9zM625.45 306.82l1.95 3.39h-3.9zM625.58 306.33l1.95 3.39h-3.9zM625.72 306.63l1.95 3.39h-3.9zM625.86 310.01l1.95 3.39h-3.9zM626 311.21l1.95 3.39h-3.9zM626.13 310.46l1.95 3.39h-3.9zM626.27 311.05l1.95 3.39h-3.9zM626.41 312.73l1.95 3.39h-3.9zM626.55 313.06l1.95 3.39h-3.9zM626.69 313.59l1.95 3.39h-3.9zM626.82 313.93l1.95 3.39h-3.9zM626.96 316.97l1.95 3.39h-3.9zM627.1 316.69l1.95 3.39h-3.9zM627.24 318.08l1.95 3.39h-3.9zM627.37 318.39l1.95 3.39h-3.9zM627.51 316.26l1.95 3.39h-3.9zM627.65 317.95l1.95 3.39h-3.9zM627.79 317.66l1.95 3.39h-3.9zM627.93 319.86l1.95 3.39h-3.9zM628.06 321.1l1.95 3.39h-3.9zM628.2 322.09l1.95 3.39h-3.9zM628.34 319.82l1.95 3.39h-3.9zM628.48 319.92l1.95 3.39h-3.9zM628.61 320.85l1.95 3.39h-3.9zM628.75 323.26l1.95 3.39h-3.9zM628.89 321.52l1.95 3.39h-3.9zM629.03 321.39l1.95 3.39h-3.9zM629.16 324.05l1.95 3.39h-3.9zM629.3 323.66l1.95 3.39h-3.9zM629.44 322.07l1.95 3.39h-3.9zM629.58 325.49l1.95 3.39h-3.9zM629.72 324.02l1.95 3.39h-3.9zM629.85 323.83l1.95 3.39h-3.9zM629.99 324.95l1.95 3.39h-3.9zM630.13 323.86l1.95 3.39h-3.9zM630.27 325.77l1.95 3.39h-3.9zM630.4 327.37l1.95 3.39h-3.9zM630.54 326.84l1.95 3.39h-3.9zM630.68 327.27l1.95 3.39h-3.9zM630.82 326.75l1.95 3.39h-3.9zM630.95 327.51l1.95 3.39h-3.9zM631.09 325.94l1.95 3.39h-3.9zM631.23 326.97l1.95 3.39h-3.9zM631.37 326.49l1.95 3.39h-3.9zM631.51 327.49l1.95 3.39h-3.9zM631.64 329.77l1.95 3.39h-3.9zM631.78 329.54l1.95 3.39h-3.9zM631.92 329.94l1.95 3.39h-3.9zM632.06 327.79l1.95 3.39h-3.9zM632.19 329.36l1.95 3.39h-3.9zM632.33 327.72l1.95 3.39h-3.9zM632.47 327.62l1.95 3.39h-3.9zM632.61 327.93l1.95 3.39h-3.9zM632.74 328.85l1.95 3.39h-3.9zM632.88 330.67l1.95 3.39h-3.9zM633.02 331.43l1.95 3.39h-3.9zM633.16 329.95l1.95 3.39h-3.9zM633.3 328.89l1.95 3.39h-3.9zM633.43 328.7l1.95 3.39h-3.9zM633.57 332l1.95 3.39h-3.9zM633.71 332.23l1.95 3.39h-3.9zM633.85 330.92l1.95 3.39h-3.9zM633.98 330.3l1.95 3.39h-3.9zM634.12 331.53l1.95 3.39h-3.9zM634.26 330.2l1.95 3.39h-3.9zM634.4 330.04l1.95 3.39h-3.9zM634.53 329.87l1.95 3.39h-3.9zM634.67 329.59l1.95 3.39h-3.9zM634.81 332.67l1.95 3.39h-3.9zM634.95 329.74l1.95 3.39h-3.9zM635.09 333.28l1.95 3.39h-3.9zM635.22 331.25l1.95 3.39h-3.9zM635.36 330.69l1.95 3.39h-3.9zM635.5 333.38l1.95 3.39h-3.9zM635.64 332.87l1.95 3.39h-3.9zM635.77 331.31l1.95 3.39h-3.9zM635.91 332.41l1.95 3.39h-3.9zM636.05 333.74l1.95 3.39h-3.9zM636.19 334.05l1.95 3.39h-3.9zM636.32 331.94l1.95 3.39h-3.9zM636.46 333.86l1.95 3.39h-3.9zM636.6 333.88l1.95 3.39h-3.9zM636.67 333.01l1.95 3.39h-3.9zM636.74 330.04l1.95 3.39h-3.9zM636.77 329.05l1.95 3.39h-3.9zM636.81 326.6l1.95 3.39h-3.9zM636.84 324.74l1.95 3.39h-3.9zM636.88 323.33l1.95 3.39h-3.9zM636.91 319.91l1.95 3.39h-3.9zM636.94 318.79l1.95 3.39h-3.9zM636.98 316.61l1.95 3.39h-3.9zM637.01 313.93l1.95 3.39h-3.9zM637.06 312.69l1.95 3.39h-3.9zM637.11 312.02l1.95 3.39h-3.9zM637.15 308.73l1.95 3.39h-3.9zM637.2 308.52l1.95 3.39h-3.9zM637.24 307.09l1.95 3.39h-3.9zM637.29 304.02l1.95 3.39h-3.9zM637.33 302.85l1.95 3.39h-3.9zM637.38 301.93l1.95 3.39h-3.9zM637.43 300.78l1.95 3.39h-3.9zM637.5 297.59l1.95 3.39h-3.9zM637.56 295.63l1.95 3.39h-3.9zM637.63 295.01l1.95 3.39h-3.9zM637.7 291.27l1.95 3.39h-3.9zM637.77 292.07l1.95 3.39h-3.9zM637.84 289.94l1.95 3.39h-3.9zM637.91 288.09l1.95 3.39h-3.9zM637.98 288.09l1.95 3.39h-3.9zM638.05 286.48l1.95 3.39h-3.9zM638.11 284.63l1.95 3.39h-3.9zM638.25 281.09l1.95 3.39h-3.9zM638.39 282.27l1.95 3.39h-3.9zM638.53 280.82l1.95 3.39h-3.9zM638.67 278.69l1.95 3.39h-3.9zM638.8 274.84l1.95 3.39h-3.9zM638.94 277.35l1.95 3.39h-3.9zM639.08 274.2l1.95 3.39h-3.9zM639.22 273.07l1.95 3.39h-3.9zM639.35 271.11l1.95 3.39h-3.9zM639.49 273.58l1.95 3.39h-3.9zM639.63 270.5l1.95 3.39h-3.9zM639.77 271.17l1.95 3.39h-3.9zM639.9 268.77l1.95 3.39h-3.9zM640.04 268.14l1.95 3.39h-3.9zM640.18 268.92l1.95 3.39h-3.9zM640.32 268.45l1.95 3.39h-3.9zM640.46 270.08l1.95 3.39h-3.9zM640.59 268.93l1.95 3.39h-3.9zM640.73 266.25l1.95 3.39h-3.9zM640.87 266.98l1.95 3.39h-3.9zM641.01 268.19l1.95 3.39h-3.9zM641.14 268.16l1.95 3.39h-3.9zM641.28 265.44l1.95 3.39h-3.9zM641.42 265.29l1.95 3.39h-3.9zM641.56 265.63l1.95 3.39h-3.9zM641.7 264.73l1.95 3.39h-3.9zM641.83 266.91l1.95 3.39h-3.9zM641.97 265.6l1.95 3.39h-3.9zM642.11 263.9l1.95 3.39h-3.9zM642.25 264.29l1.95 3.39h-3.9zM642.38 265.44l1.95 3.39h-3.9zM642.52 265.26l1.95 3.39h-3.9zM642.66 263.21l1.95 3.39h-3.9zM642.8 263.76l1.95 3.39h-3.9zM642.93 265.58l1.95 3.39h-3.9zM643.07 264.83l1.95 3.39h-3.9zM643.21 265.05l1.95 3.39h-3.9zM643.35 264.5l1.95 3.39h-3.9zM643.49 263.96l1.95 3.39h-3.9zM643.62 265.52l1.95 3.39h-3.9zM643.76 265.46l1.95 3.39h-3.9zM643.9 262.49l1.95 3.39h-3.9zM644.04 263.54l1.95 3.39h-3.9zM644.17 265.1l1.95 3.39h-3.9zM644.31 263.25l1.95 3.39h-3.9zM644.45 262.4l1.95 3.39h-3.9zM644.59 263.49l1.95 3.39h-3.9zM644.72 263.93l1.95 3.39h-3.9zM644.86 261.21l1.95 3.39h-3.9zM645 261.37l1.95 3.39h-3.9zM645.14 262.48l1.95 3.39h-3.9zM645.28 261.74l1.95 3.39h-3.9zM645.41 261.65l1.95 3.39h-3.9zM645.55 261.96l1.95 3.39h-3.9zM645.69 262.81l1.95 3.39h-3.9zM645.83 262.56l1.95 3.39h-3.9zM645.96 263.05l1.95 3.39h-3.9zM646.1 262.52l1.95 3.39h-3.9zM646.24 263.53l1.95 3.39h-3.9zM646.38 260.63l1.95 3.39h-3.9zM646.51 262.53l1.95 3.39h-3.9zM646.65 263.55l1.95 3.39h-3.9zM646.79 262.77l1.95 3.39h-3.9zM646.93 260.31l1.95 3.39h-3.9zM647.07 261.14l1.95 3.39h-3.9zM647.2 262.62l1.95 3.39h-3.9zM647.34 263.14l1.95 3.39h-3.9zM647.48 261.73l1.95 3.39h-3.9zM647.62 261.05l1.95 3.39h-3.9zM647.75 260.82l1.95 3.39h-3.9zM647.89 262.64l1.95 3.39h-3.9zM648.03 260.07l1.95 3.39h-3.9zM648.17 259.76l1.95 3.39h-3.9zM648.3 260.88l1.95 3.39h-3.9zM648.44 259.15l1.95 3.39h-3.9zM648.58 262l1.95 3.39h-3.9zM648.72 261.93l1.95 3.39h-3.9zM648.86 262.04l1.95 3.39h-3.9zM648.99 259.31l1.95 3.39h-3.9zM649.13 259.39l1.95 3.39h-3.9zM649.27 261.89l1.95 3.39h-3.9zM649.41 259.84l1.95 3.39h-3.9zM649.54 261.31l1.95 3.39h-3.9zM649.68 259.45l1.95 3.39h-3.9zM649.82 261.43l1.95 3.39h-3.9zM649.96 260.13l1.95 3.39h-3.9zM650.09 260.12l1.95 3.39h-3.9zM650.23 260.14l1.95 3.39h-3.9zM650.37 259.1l1.95 3.39h-3.9zM650.51 260.05l1.95 3.39h-3.9zM650.65 261.5l1.95 3.39h-3.9zM650.78 260.96l1.95 3.39h-3.9zM650.92 261.3l1.95 3.39h-3.9zM651.06 260.32l1.95 3.39h-3.9zM651.2 260.65l1.95 3.39h-3.9zM651.33 260.34l1.95 3.39h-3.9zM651.47 263.15l1.95 3.39h-3.9zM651.54 263.43l1.95 3.39h-3.9zM651.61 265.81l1.95 3.39h-3.9zM651.68 267.12l1.95 3.39h-3.9zM651.75 268.71l1.95 3.39h-3.9zM651.82 269.94l1.95 3.39h-3.9zM651.88 271.88l1.95 3.39h-3.9zM651.95 272.67l1.95 3.39h-3.9zM652.02 275.82l1.95 3.39h-3.9zM652.09 275.19l1.95 3.39h-3.9zM652.16 277.51l1.95 3.39h-3.9zM652.23 277.81l1.95 3.39h-3.9zM652.3 280.33l1.95 3.39h-3.9zM652.44 282.63l1.95 3.39h-3.9zM652.57 283.64l1.95 3.39h-3.9zM652.71 284.63l1.95 3.39h-3.9zM652.85 288.95l1.95 3.39h-3.9zM652.99 287.18l1.95 3.39h-3.9zM653.12 291.69l1.95 3.39h-3.9zM653.26 292.88l1.95 3.39h-3.9zM653.4 294.66l1.95 3.39h-3.9zM653.54 293.4l1.95 3.39h-3.9zM653.67 295.16l1.95 3.39h-3.9zM653.81 296.06l1.95 3.39h-3.9zM653.95 298.21l1.95 3.39h-3.9zM654.09 299.31l1.95 3.39h-3.9zM654.23 303.12l1.95 3.39h-3.9zM654.36 303.55l1.95 3.39h-3.9zM654.5 302.15l1.95 3.39h-3.9zM654.64 304.96l1.95 3.39h-3.9zM654.78 307.05l1.95 3.39h-3.9zM654.91 307.04l1.95 3.39h-3.9zM655.05 307.66l1.95 3.39h-3.9zM655.19 307.69l1.95 3.39h-3.9zM655.33 308.49l1.95 3.39h-3.9zM655.47 309.99l1.95 3.39h-3.9zM655.6 311.79l1.95 3.39h-3.9zM655.74 311.13l1.95 3.39h-3.9zM655.88 311.49l1.95 3.39h-3.9zM656.02 313.32l1.95 3.39h-3.9zM656.15 311.51l1.95 3.39h-3.9zM656.29 314.26l1.95 3.39h-3.9zM656.43 316.31l1.95 3.39h-3.9zM656.57 315.73l1.95 3.39h-3.9zM656.7 315.72l1.95 3.39h-3.9zM656.84 316.98l1.95 3.39h-3.9zM656.98 315.77l1.95 3.39h-3.9zM657.12 316.53l1.95 3.39h-3.9zM657.26 318.09l1.95 3.39h-3.9zM657.39 317.43l1.95 3.39h-3.9zM657.53 317.61l1.95 3.39h-3.9zM657.67 320.27l1.95 3.39h-3.9zM657.81 317.66l1.95 3.39h-3.9zM657.94 321.97l1.95 3.39h-3.9zM658.08 318.62l1.95 3.39h-3.9zM658.22 319.78l1.95 3.39h-3.9zM658.36 319.93l1.95 3.39h-3.9zM658.49 323.48l1.95 3.39h-3.9zM658.63 320.53l1.95 3.39h-3.9zM658.77 323.3l1.95 3.39h-3.9zM658.91 323.46l1.95 3.39h-3.9zM659.05 321.32l1.95 3.39h-3.9zM659.18 323.2l1.95 3.39h-3.9zM659.32 321.61l1.95 3.39h-3.9zM659.46 322.98l1.95 3.39h-3.9zM659.6 322.5l1.95 3.39h-3.9zM659.73 323.82l1.95 3.39h-3.9zM659.87 322.72l1.95 3.39h-3.9zM660.01 324.25l1.95 3.39h-3.9zM660.15 325.52l1.95 3.39h-3.9zM660.28 326.11l1.95 3.39h-3.9zM660.42 325.32l1.95 3.39h-3.9zM660.56 326.76l1.95 3.39h-3.9zM660.7 324.02l1.95 3.39h-3.9zM660.84 324.47l1.95 3.39h-3.9zM660.97 324.8l1.95 3.39h-3.9zM661.11 325.53l1.95 3.39h-3.9zM661.25 325.39l1.95 3.39h-3.9zM661.39 326.51l1.95 3.39h-3.9zM661.52 325.24l1.95 3.39h-3.9zM661.66 328.87l1.95 3.39h-3.9zM661.8 328.68l1.95 3.39h-3.9zM661.94 327.82l1.95 3.39h-3.9zM662.07 329.36l1.95 3.39h-3.9zM662.21 329.83l1.95 3.39h-3.9zM662.35 327.56l1.95 3.39h-3.9zM662.49 327.31l1.95 3.39h-3.9zM662.63 326.78l1.95 3.39h-3.9zM662.76 327.77l1.95 3.39h-3.9zM662.9 327.18l1.95 3.39h-3.9zM663.04 329.77l1.95 3.39h-3.9zM663.18 330.06l1.95 3.39h-3.9zM663.31 329.31l1.95 3.39h-3.9zM663.45 331.29l1.95 3.39h-3.9zM663.59 331.1l1.95 3.39h-3.9zM663.73 330.26l1.95 3.39h-3.9zM663.86 329.33l1.95 3.39h-3.9zM664 328.28l1.95 3.39h-3.9zM664.14 330.08l1.95 3.39h-3.9zM664.28 329.66l1.95 3.39h-3.9zM664.42 331.38l1.95 3.39h-3.9zM664.55 328.57l1.95 3.39h-3.9zM664.69 329.46l1.95 3.39h-3.9zM664.83 330.82l1.95 3.39h-3.9zM664.97 332.46l1.95 3.39h-3.9zM665.1 329.69l1.95 3.39h-3.9zM665.24 330.85l1.95 3.39h-3.9zM665.38 328.9l1.95 3.39h-3.9zM665.52 330.67l1.95 3.39h-3.9zM665.65 327.65l1.95 3.39h-3.9zM665.79 328.29l1.95 3.39h-3.9zM665.93 328.23l1.95 3.39h-3.9zM666.07 328.2l1.95 3.39h-3.9zM666.21 328.26l1.95 3.39h-3.9zM666.34 327.61l1.95 3.39h-3.9zM666.48 327.26l1.95 3.39h-3.9z" fill="none" stroke="#ff1a1a" stroke-width="0.9" />
<text x="0" y="386" font-size="14" font-weight="bold">h</text>
<rect x="42.6" y="385.4" width="153" height="19" fill="#fff" stroke="#8a8a8a" stroke-width="0.9" />
<circle cx="55" cy="395" r="4.3" fill="#fff" stroke="#111" stroke-width="1.3" />
<text x="64.4" y="398.6" font-size="10" fill="#222" textLength="24.6" lengthAdjust="spacingAndGlyphs">Initial</text>
<path d="M96.6 390.69 L101.3 398.89 L91.9 398.89 Z" fill="#fff" stroke="#1a1aff" stroke-width="1.6" stroke-linejoin="miter"/>
<text x="105" y="398.6" font-size="10" fill="#1a1aff" textLength="24" lengthAdjust="spacingAndGlyphs">1-day</text>
<rect x="133.3" y="391.6" width="6.6" height="6.6" fill="#fff" stroke="#ff1a1a" stroke-width="1.5" />
<text x="146.4" y="398.6" font-size="10" fill="#ff1a1a" textLength="41.6" lengthAdjust="spacingAndGlyphs">Annealed</text>
<rect x="42" y="415.6" width="92" height="123" fill="#fff" stroke="#333" stroke-width="1" />
<line x1="39" y1="517.4" x2="42" y2="517.4" stroke="#333" stroke-width="0.9" />
<text x="38.8" y="521" font-size="10.3" text-anchor="end" fill="#222">100</text>
<line x1="40.2" y1="496.2" x2="42" y2="496.2" stroke="#333" stroke-width="0.9" />
<line x1="39" y1="475" x2="42" y2="475" stroke="#333" stroke-width="0.9" />
<text x="38.8" y="478.6" font-size="10.3" text-anchor="end" fill="#222">150</text>
<line x1="40.2" y1="453.8" x2="42" y2="453.8" stroke="#333" stroke-width="0.9" />
<line x1="39" y1="432.6" x2="42" y2="432.6" stroke="#333" stroke-width="0.9" />
<text x="38.8" y="436.2" font-size="10.3" text-anchor="end" fill="#222">200</text>
<line x1="54" y1="538.6" x2="54" y2="541.6" stroke="#333" stroke-width="0.9" />
<line x1="77" y1="538.6" x2="77" y2="541.6" stroke="#333" stroke-width="0.9" />
<line x1="100" y1="538.6" x2="100" y2="541.6" stroke="#333" stroke-width="0.9" />
<line x1="123" y1="538.6" x2="123" y2="541.6" stroke="#333" stroke-width="0.9" />
<text x="58.4" y="552.2" font-size="10" text-anchor="middle" fill="#222">0.1</text>
<text x="80.3" y="552.2" font-size="10" text-anchor="middle" fill="#222">0.2</text>
<text x="101.4" y="552.2" font-size="10" text-anchor="middle" fill="#222">0.5</text>
<text x="123.3" y="552.2" font-size="10" text-anchor="middle" fill="#222">1</text>
<text x="89" y="572" font-size="10" fill="#222" text-anchor="middle">[H<tspan font-size="6.5" dy="2">2</tspan><tspan dy="-2">]</tspan></text>
<text font-size="10" fill="#222" transform="translate(14.3 480) rotate(-90)" text-anchor="middle">Normalized τ<tspan font-size="6.5" dy="1.6">res</tspan><tspan dy="-1.6"> (%)</tspan></text>
<path d="M49.8 513.4 L53.4 499.62399999999997 M54.6 499.62399999999997 L58.1 513.9" fill="none" stroke="#444" stroke-width="0.8" stroke-dasharray="2 1.4"/>
<path d="M73.2 513.4 L76.4 485.63199999999995 M77.6 485.63199999999995 L81.1 513.9" fill="none" stroke="#444" stroke-width="0.8" stroke-dasharray="2 1.4"/>
<path d="M96.2 513.4 L99.4 471.216 M100.6 471.216 L103.5 518.9879999999999" fill="none" stroke="#444" stroke-width="0.8" stroke-dasharray="2 1.4"/>
<path d="M118.8 513.4 L122.4 449.168 M123.6 449.168 L126.9 511.356" fill="none" stroke="#444" stroke-width="0.8" stroke-dasharray="2 1.4"/>
<line x1="54" y1="490.26" x2="54" y2="502.14" stroke="#7cc0dc" stroke-width="0.8" />
<line x1="58.6" y1="514.01" x2="58.6" y2="520.79" stroke="#ff6060" stroke-width="0.8" />
<circle cx="49" cy="517.4" r="3.7" fill="#fff" stroke="#111" stroke-width="1.7" />
<path d="M54 492.22 L58.6 500.22 L49.4 500.22 Z" fill="#fff" stroke="#1a1aff" stroke-width="1.6" stroke-linejoin="miter"/>
<rect x="55.3" y="514.1" width="6.6" height="6.6" fill="#fff" stroke="#ff1a1a" stroke-width="1.5" />
<rect x="57.4" y="516.2" width="2.4" height="2.4" fill="#999" />
<circle cx="54" cy="490.26" r="1.6" fill="#7cc0dc" stroke="#4f96b8" stroke-width="0.6" />
<circle cx="54" cy="502.14" r="1.6" fill="#7cc0dc" stroke="#4f96b8" stroke-width="0.6" />
<circle cx="58.6" cy="514.01" r="1.6" fill="#7cc0dc" stroke="#4f96b8" stroke-width="0.6" />
<circle cx="58.6" cy="520.79" r="1.6" fill="#7cc0dc" stroke="#4f96b8" stroke-width="0.6" />
<line x1="77" y1="474.15" x2="77" y2="491.96" stroke="#7cc0dc" stroke-width="0.8" />
<line x1="81.6" y1="514.01" x2="81.6" y2="519.1" stroke="#ff6060" stroke-width="0.8" />
<circle cx="72.4" cy="517.4" r="3.7" fill="#fff" stroke="#111" stroke-width="1.7" />
<path d="M77 478.23 L81.6 486.23 L72.4 486.23 Z" fill="#fff" stroke="#1a1aff" stroke-width="1.6" stroke-linejoin="miter"/>
<rect x="78.3" y="514.1" width="6.6" height="6.6" fill="#fff" stroke="#ff1a1a" stroke-width="1.5" />
<rect x="80.4" y="516.2" width="2.4" height="2.4" fill="#999" />
<circle cx="77" cy="474.15" r="1.6" fill="#7cc0dc" stroke="#4f96b8" stroke-width="0.6" />
<circle cx="77" cy="491.96" r="1.6" fill="#7cc0dc" stroke="#4f96b8" stroke-width="0.6" />
<circle cx="81.6" cy="514.01" r="1.6" fill="#7cc0dc" stroke="#4f96b8" stroke-width="0.6" />
<circle cx="81.6" cy="519.1" r="1.6" fill="#7cc0dc" stroke="#4f96b8" stroke-width="0.6" />
<line x1="100" y1="464.82" x2="100" y2="471.61" stroke="#7cc0dc" stroke-width="0.8" />
<line x1="104" y1="515.7" x2="104" y2="530.97" stroke="#ff6060" stroke-width="0.8" />
<circle cx="95.4" cy="517.4" r="3.7" fill="#fff" stroke="#111" stroke-width="1.7" />
<path d="M100 463.82 L104.6 471.82 L95.4 471.82 Z" fill="#fff" stroke="#1a1aff" stroke-width="1.6" stroke-linejoin="miter"/>
<rect x="100.7" y="519.19" width="6.6" height="6.6" fill="#fff" stroke="#ff1a1a" stroke-width="1.5" />
<rect x="102.8" y="521.29" width="2.4" height="2.4" fill="#999" />
<circle cx="100" cy="464.82" r="1.6" fill="#7cc0dc" stroke="#4f96b8" stroke-width="0.6" />
<circle cx="100" cy="471.61" r="1.6" fill="#7cc0dc" stroke="#4f96b8" stroke-width="0.6" />
<circle cx="104" cy="515.7" r="1.6" fill="#7cc0dc" stroke="#4f96b8" stroke-width="0.6" />
<circle cx="104" cy="530.97" r="1.6" fill="#7cc0dc" stroke="#4f96b8" stroke-width="0.6" />
<line x1="123" y1="439.38" x2="123" y2="454.65" stroke="#7cc0dc" stroke-width="0.8" />
<line x1="127.4" y1="508.07" x2="127.4" y2="521.64" stroke="#ff6060" stroke-width="0.8" />
<circle cx="118" cy="517.4" r="3.7" fill="#fff" stroke="#111" stroke-width="1.7" />
<path d="M123 441.77 L127.6 449.77 L118.4 449.77 Z" fill="#fff" stroke="#1a1aff" stroke-width="1.6" stroke-linejoin="miter"/>
<rect x="124.1" y="511.56" width="6.6" height="6.6" fill="#fff" stroke="#ff1a1a" stroke-width="1.5" />
<rect x="126.2" y="513.66" width="2.4" height="2.4" fill="#999" />
<circle cx="123" cy="439.38" r="1.6" fill="#7cc0dc" stroke="#4f96b8" stroke-width="0.6" />
<circle cx="123" cy="454.65" r="1.6" fill="#7cc0dc" stroke="#4f96b8" stroke-width="0.6" />
<circle cx="127.4" cy="508.07" r="1.6" fill="#7cc0dc" stroke="#4f96b8" stroke-width="0.6" />
<circle cx="127.4" cy="521.64" r="1.6" fill="#7cc0dc" stroke="#4f96b8" stroke-width="0.6" />
<rect x="171.6" y="415.6" width="92.4" height="123.4" fill="#fff" stroke="#333" stroke-width="1" />
<line x1="168.6" y1="538.8" x2="171.6" y2="538.8" stroke="#333" stroke-width="0.9" />
<text x="166.6" y="542.4" font-size="10.3" text-anchor="end" fill="#222">40</text>
<line x1="169.8" y1="522.45" x2="171.6" y2="522.45" stroke="#333" stroke-width="0.9" />
<line x1="168.6" y1="506.1" x2="171.6" y2="506.1" stroke="#333" stroke-width="0.9" />
<text x="166.6" y="509.7" font-size="10.3" text-anchor="end" fill="#222">60</text>
<line x1="169.8" y1="489.75" x2="171.6" y2="489.75" stroke="#333" stroke-width="0.9" />
<line x1="168.6" y1="473.4" x2="171.6" y2="473.4" stroke="#333" stroke-width="0.9" />
<text x="166.6" y="477" font-size="10.3" text-anchor="end" fill="#222">80</text>
<line x1="169.8" y1="457.05" x2="171.6" y2="457.05" stroke="#333" stroke-width="0.9" />
<line x1="168.6" y1="440.7" x2="171.6" y2="440.7" stroke="#333" stroke-width="0.9" />
<text x="166.6" y="444.3" font-size="10.3" text-anchor="end" fill="#222">100</text>
<line x1="169.8" y1="424.35" x2="171.6" y2="424.35" stroke="#333" stroke-width="0.9" />
<line x1="183" y1="539" x2="183" y2="542" stroke="#333" stroke-width="0.9" />
<line x1="206" y1="539" x2="206" y2="542" stroke="#333" stroke-width="0.9" />
<line x1="229" y1="539" x2="229" y2="542" stroke="#333" stroke-width="0.9" />
<line x1="252" y1="539" x2="252" y2="542" stroke="#333" stroke-width="0.9" />
<text x="183.3" y="551.6" font-size="10" text-anchor="middle" fill="#222">0.1</text>
<text x="206.3" y="551.6" font-size="10" text-anchor="middle" fill="#222">0.2</text>
<text x="229.3" y="551.6" font-size="10" text-anchor="middle" fill="#222">0.5</text>
<text x="251.5" y="551.6" font-size="10" text-anchor="middle" fill="#222">1</text>
<text x="218" y="572" font-size="10" fill="#222" text-anchor="middle">[H<tspan font-size="6.5" dy="2">2</tspan><tspan dy="-2">]</tspan></text>
<text font-size="10" fill="#222" transform="translate(146 478.6) rotate(-90)" text-anchor="middle">Normalized ΔR/R<tspan font-size="6.5" dy="1.6">0</tspan><tspan dy="-1.6"> (%)</tspan></text>
<path d="M179.0 444.7 L182.4 494.10749999999996 M183.6 494.10749999999996 L187.5 445.835" fill="none" stroke="#444" stroke-width="0.8" stroke-dasharray="2 1.4"/>
<path d="M202.0 444.7 L205.4 463.0425 M206.6 463.0425 L210.5 449.9225" fill="none" stroke="#444" stroke-width="0.8" stroke-dasharray="2 1.4"/>
<path d="M225.0 444.7 L228.4 455.031 M229.6 455.031 L233.5 447.46999999999997" fill="none" stroke="#444" stroke-width="0.8" stroke-dasharray="2 1.4"/>
<path d="M248.0 444.7 L251.4 454.05 M252.6 454.05 L256.1 448.124" fill="none" stroke="#444" stroke-width="0.8" stroke-dasharray="2 1.4"/>
<line x1="183" y1="492.2" x2="183" y2="503.65" stroke="#7cc0dc" stroke-width="0.8" />
<line x1="188" y1="426.8" x2="188" y2="457.87" stroke="#ff6060" stroke-width="0.8" />
<circle cx="178.4" cy="440.7" r="3.7" fill="#fff" stroke="#111" stroke-width="1.7" />
<path d="M183 492.71 L187.6 500.71 L178.4 500.71 Z" fill="#fff" stroke="#1a1aff" stroke-width="1.6" stroke-linejoin="miter"/>
<rect x="184.7" y="439.03" width="6.6" height="6.6" fill="#fff" stroke="#ff1a1a" stroke-width="1.5" />
<rect x="186.8" y="441.13" width="2.4" height="2.4" fill="#999" />
<circle cx="183" cy="492.2" r="1.6" fill="#7cc0dc" stroke="#4f96b8" stroke-width="0.6" />
<circle cx="183" cy="503.65" r="1.6" fill="#7cc0dc" stroke="#4f96b8" stroke-width="0.6" />
<circle cx="188" cy="426.8" r="1.6" fill="#7cc0dc" stroke="#4f96b8" stroke-width="0.6" />
<circle cx="188" cy="457.87" r="1.6" fill="#7cc0dc" stroke="#4f96b8" stroke-width="0.6" />
<line x1="206" y1="459.5" x2="206" y2="473.4" stroke="#7cc0dc" stroke-width="0.8" />
<line x1="211" y1="431.71" x2="211" y2="459.5" stroke="#ff6060" stroke-width="0.8" />
<circle cx="201.4" cy="440.7" r="3.7" fill="#fff" stroke="#111" stroke-width="1.7" />
<path d="M206 461.64 L210.6 469.64 L201.4 469.64 Z" fill="#fff" stroke="#1a1aff" stroke-width="1.6" stroke-linejoin="miter"/>
<rect x="207.7" y="443.12" width="6.6" height="6.6" fill="#fff" stroke="#ff1a1a" stroke-width="1.5" />
<rect x="209.8" y="445.22" width="2.4" height="2.4" fill="#999" />
<circle cx="206" cy="459.5" r="1.6" fill="#7cc0dc" stroke="#4f96b8" stroke-width="0.6" />
<circle cx="206" cy="473.4" r="1.6" fill="#7cc0dc" stroke="#4f96b8" stroke-width="0.6" />
<circle cx="211" cy="431.71" r="1.6" fill="#7cc0dc" stroke="#4f96b8" stroke-width="0.6" />
<circle cx="211" cy="459.5" r="1.6" fill="#7cc0dc" stroke="#4f96b8" stroke-width="0.6" />
<line x1="229" y1="453.78" x2="229" y2="461.14" stroke="#7cc0dc" stroke-width="0.8" />
<line x1="234" y1="438.25" x2="234" y2="450.51" stroke="#ff6060" stroke-width="0.8" />
<circle cx="224.4" cy="440.7" r="3.7" fill="#fff" stroke="#111" stroke-width="1.7" />
<path d="M229 453.63 L233.6 461.63 L224.4 461.63 Z" fill="#fff" stroke="#1a1aff" stroke-width="1.6" stroke-linejoin="miter"/>
<rect x="230.7" y="440.67" width="6.6" height="6.6" fill="#fff" stroke="#ff1a1a" stroke-width="1.5" />
<rect x="232.8" y="442.77" width="2.4" height="2.4" fill="#999" />
<circle cx="229" cy="453.78" r="1.6" fill="#7cc0dc" stroke="#4f96b8" stroke-width="0.6" />
<circle cx="229" cy="461.14" r="1.6" fill="#7cc0dc" stroke="#4f96b8" stroke-width="0.6" />
<circle cx="234" cy="438.25" r="1.6" fill="#7cc0dc" stroke="#4f96b8" stroke-width="0.6" />
<circle cx="234" cy="450.51" r="1.6" fill="#7cc0dc" stroke="#4f96b8" stroke-width="0.6" />
<line x1="252" y1="452.96" x2="252" y2="461.14" stroke="#7cc0dc" stroke-width="0.8" />
<line x1="256.6" y1="437.43" x2="256.6" y2="452.14" stroke="#ff6060" stroke-width="0.8" />
<circle cx="247.4" cy="440.7" r="3.7" fill="#fff" stroke="#111" stroke-width="1.7" />
<path d="M252 452.65 L256.6 460.65 L247.4 460.65 Z" fill="#fff" stroke="#1a1aff" stroke-width="1.6" stroke-linejoin="miter"/>
<rect x="253.3" y="441.32" width="6.6" height="6.6" fill="#fff" stroke="#ff1a1a" stroke-width="1.5" />
<rect x="255.4" y="443.42" width="2.4" height="2.4" fill="#999" />
<circle cx="252" cy="452.96" r="1.6" fill="#7cc0dc" stroke="#4f96b8" stroke-width="0.6" />
<circle cx="252" cy="461.14" r="1.6" fill="#7cc0dc" stroke="#4f96b8" stroke-width="0.6" />
<circle cx="256.6" cy="437.43" r="1.6" fill="#7cc0dc" stroke="#4f96b8" stroke-width="0.6" />
<circle cx="256.6" cy="452.14" r="1.6" fill="#7cc0dc" stroke="#4f96b8" stroke-width="0.6" />
<text x="265.6" y="386" font-size="14" font-weight="bold">i</text>
<rect x="277.4" y="384.4" width="214" height="18" fill="#fff" stroke="#9a9a9a" stroke-width="0.9" />
<line x1="282.4" y1="394.4" x2="292" y2="394.4" stroke="#f5b030" stroke-width="1.4" />
<text x="296.6" y="397.4" font-size="9.5" fill="#222" textLength="20.4" lengthAdjust="spacingAndGlyphs">Initial</text>
<line x1="320.4" y1="394.4" x2="330" y2="394.4" stroke="#ee3333" stroke-width="1.4" />
<text x="333.6" y="397.4" font-size="9.5" fill="#222" textLength="38.8" lengthAdjust="spacingAndGlyphs">Annealed1</text>
<line x1="377.4" y1="394.4" x2="387.6" y2="394.4" stroke="#5aa0d8" stroke-width="1.4" />
<text x="390.6" y="397.4" font-size="9.5" fill="#222" textLength="39.4" lengthAdjust="spacingAndGlyphs">Annealed2</text>
<line x1="433.6" y1="394.4" x2="442" y2="394.4" stroke="#2db84a" stroke-width="1.4" />
<text x="443.2" y="397.4" font-size="9.5" fill="#222" textLength="39.4" lengthAdjust="spacingAndGlyphs">Annealed3</text>
<path d="M388 404.74 L474.39 404.74 L474.39 450.55 L388 450.55 Z" fill="#fcf9cd" />
<path d="M311.4 479.2 L388 404.74 L388 450.55 L311.4 545.6 Z" fill="#e0f3f2" />
<path d="M311.4 545.6 L436.6 545.6 L474.39 450.55 L388 450.55 Z" fill="#fff" />
<line x1="405.28" y1="450.55" x2="405.28" y2="404.74" stroke="#d6d6b0" stroke-width="0.6" />
<line x1="336.44" y1="545.6" x2="405.28" y2="450.55" stroke="#e6e6e6" stroke-width="0.5" />
<line x1="422.56" y1="450.55" x2="422.56" y2="404.74" stroke="#d6d6b0" stroke-width="0.6" />
<line x1="361.48" y1="545.6" x2="422.56" y2="450.55" stroke="#e6e6e6" stroke-width="0.5" />
<line x1="439.83" y1="450.55" x2="439.83" y2="404.74" stroke="#d6d6b0" stroke-width="0.6" />
<line x1="386.52" y1="545.6" x2="439.83" y2="450.55" stroke="#e6e6e6" stroke-width="0.5" />
<line x1="457.11" y1="450.55" x2="457.11" y2="404.74" stroke="#d6d6b0" stroke-width="0.6" />
<line x1="411.56" y1="545.6" x2="457.11" y2="450.55" stroke="#e6e6e6" stroke-width="0.5" />
<line x1="388" y1="439.1" x2="474.39" y2="439.1" stroke="#d6d6b0" stroke-width="0.6" />
<line x1="311.4" y1="529" x2="388" y2="439.1" stroke="#bfe0e0" stroke-width="0.6" />
<line x1="388" y1="427.65" x2="474.39" y2="427.65" stroke="#d6d6b0" stroke-width="0.6" />
<line x1="311.4" y1="512.4" x2="388" y2="427.65" stroke="#bfe0e0" stroke-width="0.6" />
<line x1="388" y1="416.19" x2="474.39" y2="416.19" stroke="#d6d6b0" stroke-width="0.6" />
<line x1="311.4" y1="495.8" x2="388" y2="416.19" stroke="#bfe0e0" stroke-width="0.6" />
<line x1="319.06" y1="536.09" x2="319.06" y2="471.75" stroke="#c6e6e6" stroke-width="0.5" />
<line x1="319.06" y1="536.09" x2="440.38" y2="536.09" stroke="#efefef" stroke-width="0.5" />
<line x1="333.62" y1="518.03" x2="333.62" y2="457.6" stroke="#c6e6e6" stroke-width="0.5" />
<line x1="333.62" y1="518.03" x2="447.56" y2="518.03" stroke="#efefef" stroke-width="0.5" />
<line x1="346.51" y1="502.04" x2="346.51" y2="445.07" stroke="#c6e6e6" stroke-width="0.5" />
<line x1="346.51" y1="502.04" x2="453.92" y2="502.04" stroke="#efefef" stroke-width="0.5" />
<line x1="358" y1="487.78" x2="358" y2="433.9" stroke="#c6e6e6" stroke-width="0.5" />
<line x1="358" y1="487.78" x2="459.59" y2="487.78" stroke="#efefef" stroke-width="0.5" />
<line x1="368.31" y1="474.99" x2="368.31" y2="423.88" stroke="#c6e6e6" stroke-width="0.5" />
<line x1="368.31" y1="474.99" x2="464.67" y2="474.99" stroke="#efefef" stroke-width="0.5" />
<line x1="377.61" y1="463.45" x2="377.61" y2="414.84" stroke="#c6e6e6" stroke-width="0.5" />
<line x1="377.61" y1="463.45" x2="469.26" y2="463.45" stroke="#efefef" stroke-width="0.5" />
<line x1="386.04" y1="452.99" x2="386.04" y2="406.64" stroke="#c6e6e6" stroke-width="0.5" />
<line x1="386.04" y1="452.99" x2="473.42" y2="452.99" stroke="#efefef" stroke-width="0.5" />
<line x1="388" y1="450.55" x2="388" y2="404.74" stroke="#b0c8c8" stroke-width="0.6" />
<line x1="388" y1="404.74" x2="474.39" y2="404.74" stroke="#d8d8b0" stroke-width="0.5" />
<line x1="474.39" y1="404.74" x2="474.39" y2="450.55" stroke="#d8d8b0" stroke-width="0.5" />
<line x1="311.4" y1="479.2" x2="311.4" y2="545.6" stroke="#777" stroke-width="0.9" />
<line x1="311.4" y1="545.6" x2="436.6" y2="545.6" stroke="#777" stroke-width="0.9" />
<line x1="436.6" y1="545.6" x2="474.39" y2="450.55" stroke="#777" stroke-width="0.9" />
<line x1="311.4" y1="479.2" x2="388" y2="404.74" stroke="#a8cccc" stroke-width="0.6" />
<line x1="311.4" y1="545.6" x2="388" y2="450.55" stroke="#c8d8d8" stroke-width="0.6" />
<line x1="308.6" y1="545.6" x2="311.4" y2="545.6" stroke="#777" stroke-width="0.8" />
<text x="308.2" y="549.2" font-size="10" text-anchor="end" fill="#222">500</text>
<line x1="308.6" y1="529" x2="311.4" y2="529" stroke="#777" stroke-width="0.8" />
<text x="308.2" y="532.6" font-size="10" text-anchor="end" fill="#222">525</text>
<line x1="308.6" y1="512.4" x2="311.4" y2="512.4" stroke="#777" stroke-width="0.8" />
<text x="308.2" y="516" font-size="10" text-anchor="end" fill="#222">550</text>
<line x1="308.6" y1="495.8" x2="311.4" y2="495.8" stroke="#777" stroke-width="0.8" />
<text x="308.2" y="499.4" font-size="10" text-anchor="end" fill="#222">575</text>
<line x1="308.6" y1="479.2" x2="311.4" y2="479.2" stroke="#777" stroke-width="0.8" />
<text x="308.2" y="482.8" font-size="10" text-anchor="end" fill="#222">600</text>
<line x1="311.4" y1="545.6" x2="311.4" y2="548.4" stroke="#777" stroke-width="0.8" />
<text x="310.4" y="559.4" font-size="10" text-anchor="middle" fill="#222">0</text>
<line x1="336.44" y1="545.6" x2="336.44" y2="548.4" stroke="#777" stroke-width="0.8" />
<text x="336.44" y="559.4" font-size="10" text-anchor="middle" fill="#222" textLength="21.4" lengthAdjust="spacingAndGlyphs">1000</text>
<line x1="361.48" y1="545.6" x2="361.48" y2="548.4" stroke="#777" stroke-width="0.8" />
<text x="361.48" y="559.4" font-size="10" text-anchor="middle" fill="#222" textLength="21.4" lengthAdjust="spacingAndGlyphs">2000</text>
<line x1="386.52" y1="545.6" x2="386.52" y2="548.4" stroke="#777" stroke-width="0.8" />
<text x="386.52" y="559.4" font-size="10" text-anchor="middle" fill="#222" textLength="21.4" lengthAdjust="spacingAndGlyphs">3000</text>
<line x1="411.56" y1="545.6" x2="411.56" y2="548.4" stroke="#777" stroke-width="0.8" />
<text x="411.56" y="559.4" font-size="10" text-anchor="middle" fill="#222" textLength="21.4" lengthAdjust="spacingAndGlyphs">4000</text>
<line x1="436.6" y1="545.6" x2="436.6" y2="548.4" stroke="#777" stroke-width="0.8" />
<text x="436.6" y="559.4" font-size="10" text-anchor="middle" fill="#222" textLength="21.4" lengthAdjust="spacingAndGlyphs">5000</text>
<text x="379" y="572" font-size="10" fill="#222"><tspan font-style="italic">t</tspan> (s)</text>
<text x="0" y="0" font-size="10" text-anchor="middle" fill="#222" transform="translate(281.8 511.3) rotate(-90)" textLength="69.5" lengthAdjust="spacingAndGlyphs">ADC (arb. units)</text>
<text x="325" y="536.4" font-size="9.5" fill="#222" textLength="18.6" lengthAdjust="spacingAndGlyphs">0.1%</text>
<text x="354" y="536.4" font-size="9.5" fill="#222" textLength="18.6" lengthAdjust="spacingAndGlyphs">0.2%</text>
<text x="384" y="536.4" font-size="9.5" fill="#222" textLength="18.6" lengthAdjust="spacingAndGlyphs">0.5%</text>
<text x="412.4" y="536.4" font-size="9.5" fill="#222" textLength="18.6" lengthAdjust="spacingAndGlyphs">1.0%</text>
<line x1="440.38" y1="536.09" x2="442.88" y2="536.09" stroke="#777" stroke-width="0.8" />
<text x="444" y="539" font-size="10" font-weight="bold" fill="#222" textLength="22.4" lengthAdjust="spacingAndGlyphs">Initial</text>
<line x1="447.56" y1="518.03" x2="450.06" y2="518.03" stroke="#777" stroke-width="0.8" />
<text x="451" y="521.6" font-size="9" font-weight="bold" fill="#222" textLength="20.6" lengthAdjust="spacingAndGlyphs">1-day</text>
<line x1="453.92" y1="502.04" x2="456.42" y2="502.04" stroke="#777" stroke-width="0.8" />
<text x="457" y="505.4" font-size="8.5" font-weight="bold" fill="#222" textLength="33" lengthAdjust="spacingAndGlyphs">Annealed</text>
<line x1="459.59" y1="487.78" x2="462.09" y2="487.78" stroke="#777" stroke-width="0.8" />
<text x="462" y="491.6" font-size="8" font-weight="bold" fill="#222" textLength="18.6" lengthAdjust="spacingAndGlyphs">1-day</text>
<line x1="464.67" y1="474.99" x2="467.17" y2="474.99" stroke="#777" stroke-width="0.8" />
<text x="467" y="478.4" font-size="7.8" font-weight="bold" fill="#222" textLength="30" lengthAdjust="spacingAndGlyphs">Annealed</text>
<line x1="469.26" y1="463.45" x2="471.76" y2="463.45" stroke="#777" stroke-width="0.8" />
<text x="472" y="466.6" font-size="7.2" font-weight="bold" fill="#222" textLength="16.6" lengthAdjust="spacingAndGlyphs">1-day</text>
<line x1="473.42" y1="452.99" x2="475.92" y2="452.99" stroke="#777" stroke-width="0.8" />
<text x="476" y="456" font-size="7" font-weight="bold" fill="#222" textLength="27" lengthAdjust="spacingAndGlyphs">Annealed</text>
<path d="M386.04 444.64 L387.79 444.88 L388.66 444.64 L389.1 443.34 L389.54 442.58 L389.97 442.11 L390.41 441.82 L390.85 441.61 L391.28 441.46 L391.72 441.35 L392.16 441.25 L392.59 441.18 L393.03 441.11 L393.47 441.05 L393.9 441 L394.34 440.96 L394.78 440.92 L395.22 440.88 L395.65 440.85 L396.09 440.82 L396.53 440.79 L396.96 440.77 L397.4 440.75 L397.84 440.73 L398.27 440.72 L399.06 441.48 L399.5 442.06 L399.93 442.51 L400.37 442.85 L400.81 443.13 L401.24 443.35 L401.68 443.54 L402.12 443.69 L402.56 443.82 L402.99 443.93 L403.43 444.03 L403.87 444.11 L404.3 444.18 L404.74 444.25 L405.18 444.31 L405.61 444.36 L406.05 444.41 L406.49 444.45 L406.92 444.49 L407.36 444.52 L407.8 444.55 L408.24 444.58 L408.67 444.6 L409.11 444.63 L409.63 444.64 L410.07 442.03 L410.51 440.51 L410.94 439.58 L411.38 438.99 L411.82 438.58 L412.25 438.28 L412.69 438.05 L413.13 437.86 L413.57 437.71 L414 437.58 L414.44 437.46 L414.88 437.36 L415.31 437.27 L415.75 437.19 L416.19 437.11 L416.62 437.05 L417.06 436.99 L417.5 436.94 L417.93 436.9 L418.37 436.86 L418.81 436.82 L419.25 436.79 L420.03 438.26 L420.47 439.39 L420.91 440.25 L421.34 440.93 L421.78 441.47 L422.22 441.9 L422.65 442.25 L423.09 442.55 L423.53 442.8 L423.96 443.01 L424.4 443.2 L424.84 443.36 L425.27 443.5 L425.71 443.63 L426.15 443.74 L426.59 443.84 L427.02 443.93 L427.46 444.02 L427.9 444.09 L428.33 444.16 L428.77 444.22 L429.21 444.27 L429.64 444.32 L430.08 444.37 L430.52 444.41 L430.78 444.41 L431.22 439.43 L431.65 436.52 L432.09 434.76 L432.53 433.62 L432.96 432.85 L433.4 432.28 L433.84 431.84 L434.27 431.49 L434.71 431.19 L435.15 430.93 L435.59 430.71 L436.02 430.52 L436.46 430.34 L436.9 430.19 L437.33 430.06 L437.77 429.93 L438.21 429.83 L438.64 429.73 L439.08 429.64 L439.52 429.57 L439.95 429.5 L440.39 429.44 L440.83 429.38 L441.53 432.23 L441.96 434.41 L442.4 436.08 L442.84 437.39 L443.28 438.42 L443.71 439.26 L444.15 439.94 L444.59 440.51 L445.02 441 L445.46 441.41 L445.9 441.77 L446.33 442.08 L446.77 442.36 L447.21 442.6 L447.64 442.82 L448.08 443.01 L448.52 443.19 L448.96 443.35 L449.39 443.49 L449.83 443.62 L450.27 443.73 L450.7 443.84 L451.14 443.93 L451.4 443.95 L451.84 436.07 L452.28 431.48 L452.71 428.69 L453.15 426.89 L453.59 425.66 L454.02 424.77 L454.46 424.08 L454.9 423.52 L455.33 423.05 L455.77 422.64 L456.21 422.29 L456.64 421.98 L457.08 421.71 L457.52 421.47 L457.96 421.25 L458.39 421.06 L458.83 420.89 L459.27 420.74 L459.7 420.6 L460.14 420.48 L460.58 420.37 L461.01 420.28 L461.45 420.19 L461.89 420.11 L462.5 424.63 L462.94 428.07 L463.37 430.72 L463.81 432.78 L464.25 434.41 L464.68 435.73 L465.12 436.81 L465.56 437.72 L465.99 438.48 L466.43 439.13 L466.87 439.7 L467.31 440.19 L467.74 440.63 L468.18 441.01 L468.62 441.36 L469.05 441.67 L469.49 441.94 L469.93 442.19 L470.36 442.42 L470.8 442.62 L471.24 442.8 L471.67 442.97 L472.11 443.12 L472.55 443.25" fill="none" stroke="#26cc26" stroke-width="1.0" stroke-linejoin="round"/>
<path d="M377.61 453.97 L379.44 454.22 L380.36 453.97 L380.81 453.68 L381.27 453.44 L381.73 453.25 L382.19 453.09 L382.65 452.95 L383.11 452.83 L383.56 452.73 L384.02 452.65 L384.48 452.57 L384.94 452.5 L385.4 452.44 L385.86 452.39 L386.31 452.34 L386.77 452.29 L387.23 452.25 L387.69 452.21 L388.15 452.18 L388.61 452.15 L389.06 452.12 L389.52 452.09 L389.98 452.07 L390.44 452.04 L391.26 452.57 L391.72 453.01 L392.18 453.39 L392.64 453.7 L393.1 453.97 L393.55 454.2 L394.01 454.4 L394.47 454.58 L394.93 454.73 L395.39 454.87 L395.85 455 L396.3 455.11 L396.76 455.21 L397.22 455.3 L397.68 455.38 L398.14 455.46 L398.6 455.53 L399.05 455.6 L399.51 455.65 L399.97 455.71 L400.43 455.76 L400.89 455.8 L401.35 455.85 L401.8 455.89 L402.35 455.92 L402.81 454.82 L403.27 453.93 L403.73 453.2 L404.19 452.59 L404.64 452.08 L405.1 451.65 L405.56 451.28 L406.02 450.95 L406.48 450.66 L406.94 450.41 L407.39 450.18 L407.85 449.97 L408.31 449.79 L408.77 449.62 L409.23 449.46 L409.69 449.32 L410.14 449.19 L410.6 449.08 L411.06 448.97 L411.52 448.87 L411.98 448.77 L412.44 448.69 L413.26 449.46 L413.72 450.16 L414.18 450.74 L414.64 451.23 L415.09 451.65 L415.55 452.01 L416.01 452.32 L416.47 452.6 L416.93 452.84 L417.38 453.05 L417.84 453.25 L418.3 453.42 L418.76 453.58 L419.22 453.72 L419.68 453.85 L420.13 453.97 L420.59 454.08 L421.05 454.18 L421.51 454.27 L421.97 454.36 L422.43 454.43 L422.88 454.51 L423.34 454.57 L423.8 454.63 L424.26 454.69 L424.53 454.7 L424.99 452.74 L425.45 451.15 L425.91 449.85 L426.37 448.77 L426.83 447.86 L427.28 447.08 L427.74 446.42 L428.2 445.83 L428.66 445.32 L429.12 444.86 L429.57 444.46 L430.03 444.09 L430.49 443.76 L430.95 443.46 L431.41 443.18 L431.87 442.93 L432.32 442.7 L432.78 442.49 L433.24 442.29 L433.7 442.11 L434.16 441.95 L434.62 441.8 L435.07 441.66 L435.81 443.29 L436.27 444.71 L436.72 445.89 L437.18 446.89 L437.64 447.74 L438.1 448.48 L438.56 449.12 L439.02 449.68 L439.47 450.17 L439.93 450.61 L440.39 451 L440.85 451.36 L441.31 451.68 L441.77 451.97 L442.22 452.23 L442.68 452.48 L443.14 452.7 L443.6 452.9 L444.06 453.09 L444.51 453.26 L444.97 453.42 L445.43 453.57 L445.89 453.7 L446.16 453.73 L446.62 450.48 L447.08 447.85 L447.54 445.7 L448 443.92 L448.46 442.41 L448.91 441.13 L449.37 440.03 L449.83 439.06 L450.29 438.21 L450.75 437.46 L451.21 436.78 L451.66 436.18 L452.12 435.63 L452.58 435.13 L453.04 434.67 L453.5 434.26 L453.96 433.88 L454.41 433.53 L454.87 433.2 L455.33 432.91 L455.79 432.63 L456.25 432.38 L456.7 432.15 L457.16 431.94 L457.8 434.84 L458.26 437.32 L458.72 439.39 L459.18 441.13 L459.64 442.62 L460.1 443.9 L460.55 445.02 L461.01 445.99 L461.47 446.86 L461.93 447.62 L462.39 448.31 L462.85 448.93 L463.3 449.49 L463.76 450 L464.22 450.46 L464.68 450.88 L465.14 451.27 L465.6 451.63 L466.05 451.95 L466.51 452.25 L466.97 452.53 L467.43 452.79 L467.89 453.02 L468.34 453.24" fill="none" stroke="#333333" stroke-width="1.0" stroke-linejoin="round"/>
<path d="M368.31 465.79 L370.23 466.05 L371.2 465.79 L371.68 464.35 L372.16 463.51 L372.64 463 L373.12 462.67 L373.61 462.45 L374.09 462.28 L374.57 462.16 L375.05 462.05 L375.53 461.97 L376.02 461.89 L376.5 461.83 L376.98 461.77 L377.46 461.72 L377.94 461.68 L378.42 461.64 L378.91 461.6 L379.39 461.57 L379.87 461.55 L380.35 461.52 L380.83 461.5 L381.32 461.48 L381.8 461.46 L382.66 462.3 L383.15 462.94 L383.63 463.43 L384.11 463.82 L384.59 464.12 L385.07 464.37 L385.56 464.57 L386.04 464.74 L386.52 464.88 L387 465 L387.48 465.11 L387.96 465.2 L388.45 465.28 L388.93 465.36 L389.41 465.42 L389.89 465.48 L390.37 465.53 L390.86 465.57 L391.34 465.62 L391.82 465.65 L392.3 465.69 L392.78 465.72 L393.27 465.75 L393.75 465.77 L394.33 465.79 L394.81 462.91 L395.29 461.23 L395.77 460.21 L396.25 459.55 L396.73 459.1 L397.22 458.77 L397.7 458.52 L398.18 458.31 L398.66 458.14 L399.14 458 L399.63 457.87 L400.11 457.75 L400.59 457.65 L401.07 457.57 L401.55 457.49 L402.03 457.42 L402.52 457.35 L403 457.3 L403.48 457.25 L403.96 457.2 L404.44 457.16 L404.93 457.13 L405.79 458.75 L406.27 459.99 L406.76 460.95 L407.24 461.69 L407.72 462.29 L408.2 462.76 L408.68 463.15 L409.17 463.48 L409.65 463.76 L410.13 463.99 L410.61 464.2 L411.09 464.38 L411.57 464.53 L412.06 464.67 L412.54 464.8 L413.02 464.91 L413.5 465.01 L413.98 465.1 L414.47 465.18 L414.95 465.25 L415.43 465.32 L415.91 465.38 L416.39 465.43 L416.88 465.48 L417.36 465.53 L417.65 465.54 L418.13 460.04 L418.61 456.84 L419.09 454.89 L419.57 453.64 L420.06 452.78 L420.54 452.15 L421.02 451.67 L421.5 451.28 L421.98 450.95 L422.46 450.67 L422.95 450.43 L423.43 450.21 L423.91 450.02 L424.39 449.85 L424.87 449.7 L425.36 449.57 L425.84 449.45 L426.32 449.34 L426.8 449.25 L427.28 449.16 L427.76 449.09 L428.25 449.02 L428.73 448.96 L429.5 452.1 L429.98 454.5 L430.46 456.35 L430.94 457.79 L431.43 458.93 L431.91 459.85 L432.39 460.61 L432.87 461.24 L433.35 461.77 L433.84 462.22 L434.32 462.62 L434.8 462.96 L435.28 463.27 L435.76 463.54 L436.24 463.78 L436.73 463.99 L437.21 464.19 L437.69 464.36 L438.17 464.52 L438.65 464.66 L439.14 464.78 L439.62 464.9 L440.1 465.01 L440.39 465.03 L440.87 456.34 L441.35 451.27 L441.83 448.19 L442.32 446.21 L442.8 444.86 L443.28 443.87 L443.76 443.11 L444.24 442.49 L444.73 441.97 L445.21 441.53 L445.69 441.14 L446.17 440.8 L446.65 440.5 L447.13 440.23 L447.62 439.99 L448.1 439.78 L448.58 439.59 L449.06 439.43 L449.54 439.28 L450.03 439.14 L450.51 439.02 L450.99 438.92 L451.47 438.82 L451.95 438.74 L452.63 443.72 L453.11 447.52 L453.59 450.43 L454.07 452.7 L454.55 454.51 L455.04 455.96 L455.52 457.16 L456 458.15 L456.48 458.99 L456.96 459.71 L457.45 460.34 L457.93 460.88 L458.41 461.36 L458.89 461.79 L459.37 462.17 L459.85 462.51 L460.34 462.81 L460.82 463.09 L461.3 463.33 L461.78 463.56 L462.26 463.76 L462.75 463.94 L463.23 464.11 L463.71 464.26" fill="none" stroke="#2a3ae8" stroke-width="1.0" stroke-linejoin="round"/>
<path d="M358 477.28 L360.03 477.55 L361.04 477.28 L361.55 476.95 L362.06 476.69 L362.57 476.47 L363.08 476.29 L363.58 476.14 L364.09 476.02 L364.6 475.91 L365.11 475.81 L365.62 475.72 L366.12 475.65 L366.63 475.58 L367.14 475.52 L367.65 475.46 L368.16 475.41 L368.66 475.37 L369.17 475.33 L369.68 475.29 L370.19 475.25 L370.7 475.22 L371.2 475.19 L371.71 475.17 L372.22 475.14 L373.13 475.72 L373.64 476.21 L374.15 476.63 L374.66 476.98 L375.17 477.27 L375.67 477.53 L376.18 477.75 L376.69 477.95 L377.2 478.12 L377.71 478.28 L378.21 478.41 L378.72 478.54 L379.23 478.65 L379.74 478.75 L380.25 478.84 L380.75 478.93 L381.26 479 L381.77 479.08 L382.28 479.14 L382.78 479.2 L383.29 479.26 L383.8 479.31 L384.31 479.36 L384.82 479.4 L385.43 479.43 L385.93 478.21 L386.44 477.23 L386.95 476.42 L387.46 475.75 L387.97 475.18 L388.47 474.7 L388.98 474.29 L389.49 473.93 L390 473.61 L390.51 473.33 L391.01 473.07 L391.52 472.84 L392.03 472.64 L392.54 472.45 L393.05 472.28 L393.55 472.12 L394.06 471.98 L394.57 471.85 L395.08 471.73 L395.59 471.62 L396.09 471.51 L396.6 471.42 L397.52 472.28 L398.02 473.05 L398.53 473.69 L399.04 474.24 L399.55 474.7 L400.06 475.1 L400.56 475.45 L401.07 475.75 L401.58 476.02 L402.09 476.26 L402.6 476.47 L403.1 476.67 L403.61 476.84 L404.12 477 L404.63 477.14 L405.13 477.27 L405.64 477.4 L406.15 477.51 L406.66 477.61 L407.17 477.7 L407.67 477.79 L408.18 477.87 L408.69 477.94 L409.2 478.01 L409.71 478.07 L410.01 478.08 L410.52 475.91 L411.03 474.15 L411.54 472.71 L412.04 471.51 L412.55 470.5 L413.06 469.64 L413.57 468.9 L414.07 468.26 L414.58 467.69 L415.09 467.18 L415.6 466.73 L416.11 466.32 L416.61 465.95 L417.12 465.62 L417.63 465.32 L418.14 465.04 L418.65 464.78 L419.15 464.55 L419.66 464.33 L420.17 464.13 L420.68 463.95 L421.19 463.78 L421.69 463.63 L422.51 465.44 L423.01 467.01 L423.52 468.32 L424.03 469.43 L424.54 470.37 L425.05 471.19 L425.55 471.89 L426.06 472.51 L426.57 473.06 L427.08 473.55 L427.59 473.99 L428.09 474.38 L428.6 474.73 L429.11 475.06 L429.62 475.35 L430.13 475.62 L430.63 475.86 L431.14 476.09 L431.65 476.3 L432.16 476.49 L432.67 476.67 L433.17 476.83 L433.68 476.98 L433.99 477.01 L434.49 473.4 L435 470.49 L435.51 468.11 L436.02 466.13 L436.53 464.46 L437.03 463.04 L437.54 461.82 L438.05 460.75 L438.56 459.81 L439.07 458.97 L439.57 458.22 L440.08 457.55 L440.59 456.94 L441.1 456.39 L441.61 455.89 L442.11 455.42 L442.62 455 L443.13 454.61 L443.64 454.26 L444.15 453.93 L444.65 453.63 L445.16 453.35 L445.67 453.09 L446.18 452.85 L446.89 456.08 L447.4 458.82 L447.9 461.11 L448.41 463.04 L448.92 464.69 L449.43 466.11 L449.94 467.35 L450.44 468.43 L450.95 469.39 L451.46 470.24 L451.97 471 L452.48 471.69 L452.98 472.31 L453.49 472.87 L454 473.38 L454.51 473.85 L455.02 474.28 L455.52 474.67 L456.03 475.04 L456.54 475.37 L457.05 475.68 L457.56 475.96 L458.06 476.23 L458.57 476.47" fill="none" stroke="#333333" stroke-width="1.0" stroke-linejoin="round"/>
<path d="M346.51 491.79 L348.65 492.07 L349.73 491.79 L350.27 490.18 L350.8 489.24 L351.34 488.67 L351.88 488.31 L352.41 488.06 L352.95 487.87 L353.49 487.73 L354.03 487.62 L354.56 487.52 L355.1 487.44 L355.64 487.37 L356.17 487.31 L356.71 487.25 L357.25 487.2 L357.78 487.16 L358.32 487.12 L358.86 487.08 L359.4 487.05 L359.93 487.03 L360.47 487 L361.01 486.98 L361.54 486.96 L362.51 487.89 L363.05 488.61 L363.58 489.16 L364.12 489.59 L364.66 489.93 L365.2 490.2 L365.73 490.43 L366.27 490.61 L366.81 490.77 L367.34 490.91 L367.88 491.03 L368.42 491.13 L368.96 491.22 L369.49 491.3 L370.03 491.37 L370.57 491.44 L371.1 491.49 L371.64 491.54 L372.18 491.59 L372.71 491.63 L373.25 491.67 L373.79 491.71 L374.33 491.74 L374.86 491.77 L375.51 491.79 L376.04 488.57 L376.58 486.7 L377.12 485.56 L377.66 484.83 L378.19 484.33 L378.73 483.96 L379.27 483.68 L379.8 483.45 L380.34 483.26 L380.88 483.1 L381.42 482.95 L381.95 482.83 L382.49 482.72 L383.03 482.62 L383.56 482.53 L384.1 482.45 L384.64 482.38 L385.17 482.32 L385.71 482.26 L386.25 482.21 L386.79 482.17 L387.32 482.13 L388.29 483.94 L388.83 485.32 L389.36 486.39 L389.9 487.22 L390.44 487.88 L390.97 488.41 L391.51 488.85 L392.05 489.21 L392.59 489.52 L393.12 489.78 L393.66 490.01 L394.2 490.21 L394.73 490.38 L395.27 490.54 L395.81 490.68 L396.35 490.8 L396.88 490.91 L397.42 491.01 L397.96 491.1 L398.49 491.19 L399.03 491.26 L399.57 491.33 L400.11 491.39 L400.64 491.44 L401.18 491.49 L401.5 491.5 L402.04 485.38 L402.58 481.8 L403.11 479.63 L403.65 478.24 L404.19 477.28 L404.72 476.59 L405.26 476.05 L405.8 475.61 L406.33 475.25 L406.87 474.93 L407.41 474.66 L407.95 474.42 L408.48 474.21 L409.02 474.02 L409.56 473.85 L410.09 473.7 L410.63 473.57 L411.17 473.45 L411.71 473.35 L412.24 473.25 L412.78 473.17 L413.32 473.09 L413.85 473.02 L414.71 476.53 L415.25 479.2 L415.79 481.26 L416.32 482.86 L416.86 484.14 L417.4 485.16 L417.94 486.01 L418.47 486.71 L419.01 487.3 L419.55 487.81 L420.08 488.25 L420.62 488.63 L421.16 488.97 L421.69 489.27 L422.23 489.54 L422.77 489.78 L423.31 490 L423.84 490.19 L424.38 490.36 L424.92 490.52 L425.45 490.66 L425.99 490.79 L426.53 490.91 L426.85 490.93 L427.39 481.25 L427.92 475.6 L428.46 472.17 L429 469.96 L429.54 468.45 L430.07 467.35 L430.61 466.5 L431.15 465.81 L431.68 465.24 L432.22 464.74 L432.76 464.31 L433.3 463.93 L433.83 463.59 L434.37 463.3 L434.91 463.03 L435.44 462.8 L435.98 462.59 L436.52 462.4 L437.05 462.23 L437.59 462.08 L438.13 461.95 L438.67 461.83 L439.2 461.72 L439.74 461.63 L440.49 467.19 L441.03 471.42 L441.57 474.66 L442.1 477.2 L442.64 479.21 L443.18 480.83 L443.71 482.16 L444.25 483.27 L444.79 484.21 L445.33 485.01 L445.86 485.71 L446.4 486.31 L446.94 486.85 L447.47 487.32 L448.01 487.75 L448.55 488.13 L449.09 488.47 L449.62 488.77 L450.16 489.05 L450.7 489.3 L451.23 489.52 L451.77 489.73 L452.31 489.91 L452.84 490.08" fill="none" stroke="#e82222" stroke-width="1.0" stroke-linejoin="round"/>
<path d="M333.62 506.25 L335.9 506.55 L337.04 506.25 L337.61 505.88 L338.18 505.59 L338.75 505.35 L339.32 505.15 L339.89 504.98 L340.45 504.83 L341.02 504.71 L341.59 504.6 L342.16 504.51 L342.73 504.42 L343.3 504.35 L343.87 504.28 L344.44 504.22 L345.01 504.16 L345.58 504.11 L346.15 504.06 L346.72 504.02 L347.29 503.98 L347.86 503.94 L348.43 503.91 L349 503.88 L349.57 503.85 L350.6 504.5 L351.17 505.06 L351.74 505.52 L352.3 505.91 L352.87 506.25 L353.44 506.53 L354.01 506.78 L354.58 507 L355.15 507.2 L355.72 507.37 L356.29 507.52 L356.86 507.66 L357.43 507.79 L358 507.9 L358.57 508 L359.14 508.1 L359.71 508.19 L360.28 508.27 L360.85 508.34 L361.42 508.41 L361.99 508.47 L362.56 508.53 L363.13 508.58 L363.7 508.63 L364.38 508.67 L364.95 507.3 L365.52 506.19 L366.09 505.29 L366.66 504.53 L367.23 503.9 L367.8 503.36 L368.37 502.9 L368.94 502.49 L369.51 502.13 L370.08 501.82 L370.65 501.53 L371.22 501.28 L371.79 501.05 L372.36 500.84 L372.93 500.64 L373.5 500.47 L374.07 500.31 L374.64 500.16 L375.21 500.03 L375.78 499.9 L376.35 499.79 L376.92 499.68 L377.94 500.64 L378.51 501.51 L379.08 502.23 L379.65 502.84 L380.22 503.36 L380.79 503.81 L381.36 504.2 L381.93 504.54 L382.5 504.84 L383.07 505.11 L383.64 505.35 L384.21 505.56 L384.78 505.76 L385.35 505.94 L385.92 506.1 L386.49 506.25 L387.06 506.38 L387.63 506.51 L388.2 506.62 L388.77 506.72 L389.34 506.82 L389.91 506.91 L390.48 506.99 L391.05 507.07 L391.62 507.14 L391.96 507.15 L392.53 504.71 L393.1 502.74 L393.67 501.12 L394.24 499.78 L394.81 498.65 L395.38 497.69 L395.94 496.85 L396.51 496.13 L397.08 495.49 L397.65 494.93 L398.22 494.42 L398.79 493.96 L399.36 493.55 L399.93 493.17 L400.5 492.83 L401.07 492.52 L401.64 492.23 L402.21 491.97 L402.78 491.73 L403.35 491.51 L403.92 491.3 L404.49 491.11 L405.06 490.94 L405.97 492.97 L406.54 494.73 L407.11 496.2 L407.68 497.44 L408.25 498.5 L408.82 499.42 L409.39 500.21 L409.96 500.91 L410.53 501.52 L411.1 502.07 L411.67 502.56 L412.24 503 L412.81 503.4 L413.38 503.76 L413.95 504.09 L414.52 504.39 L415.09 504.66 L415.66 504.92 L416.23 505.15 L416.8 505.36 L417.37 505.56 L417.94 505.75 L418.51 505.91 L418.85 505.95 L419.42 501.9 L419.99 498.64 L420.56 495.97 L421.13 493.75 L421.7 491.88 L422.27 490.28 L422.84 488.91 L423.4 487.71 L423.97 486.66 L424.54 485.72 L425.11 484.88 L425.68 484.13 L426.25 483.44 L426.82 482.82 L427.39 482.26 L427.96 481.74 L428.53 481.26 L429.1 480.83 L429.67 480.43 L430.24 480.06 L430.81 479.72 L431.38 479.41 L431.95 479.12 L432.52 478.85 L433.32 482.47 L433.89 485.54 L434.46 488.11 L435.03 490.28 L435.6 492.13 L436.17 493.73 L436.74 495.11 L437.31 496.33 L437.88 497.4 L438.45 498.35 L439.02 499.21 L439.58 499.98 L440.15 500.67 L440.72 501.3 L441.29 501.88 L441.86 502.41 L442.43 502.89 L443 503.33 L443.57 503.74 L444.14 504.11 L444.71 504.46 L445.28 504.78 L445.85 505.07 L446.42 505.34" fill="none" stroke="#333333" stroke-width="1.0" stroke-linejoin="round"/>
<path d="M319.06 523.87 L321.49 524.19 L322.7 523.87 L323.31 522.16 L323.91 521.17 L324.52 520.56 L325.13 520.17 L325.73 519.9 L326.34 519.71 L326.95 519.56 L327.55 519.44 L328.16 519.34 L328.77 519.25 L329.37 519.17 L329.98 519.11 L330.59 519.05 L331.19 518.99 L331.8 518.95 L332.41 518.91 L333.01 518.87 L333.62 518.84 L334.23 518.81 L334.83 518.78 L335.44 518.76 L336.05 518.74 L337.14 519.79 L337.74 520.6 L338.35 521.22 L338.96 521.7 L339.56 522.09 L340.17 522.4 L340.78 522.65 L341.38 522.87 L341.99 523.04 L342.6 523.2 L343.2 523.33 L343.81 523.45 L344.42 523.55 L345.02 523.64 L345.63 523.72 L346.24 523.79 L346.84 523.86 L347.45 523.92 L348.06 523.97 L348.66 524.02 L349.27 524.06 L349.88 524.1 L350.48 524.13 L351.09 524.17 L351.82 524.19 L352.42 520.56 L353.03 518.45 L353.64 517.16 L354.24 516.33 L354.85 515.77 L355.46 515.35 L356.06 515.03 L356.67 514.78 L357.28 514.56 L357.88 514.37 L358.49 514.21 L359.1 514.07 L359.7 513.95 L360.31 513.83 L360.92 513.73 L361.52 513.65 L362.13 513.57 L362.74 513.5 L363.34 513.43 L363.95 513.38 L364.56 513.33 L365.16 513.28 L366.25 515.39 L366.86 517 L367.47 518.24 L368.07 519.21 L368.68 519.97 L369.29 520.59 L369.89 521.1 L370.5 521.52 L371.11 521.88 L371.71 522.19 L372.32 522.45 L372.93 522.69 L373.53 522.89 L374.14 523.07 L374.75 523.23 L375.35 523.38 L375.96 523.51 L376.57 523.62 L377.17 523.73 L377.78 523.82 L378.39 523.91 L378.99 523.99 L379.6 524.06 L380.21 524.12 L380.81 524.18 L381.18 524.19 L381.78 517.16 L382.39 513.07 L383 510.58 L383.6 508.98 L384.21 507.88 L384.82 507.08 L385.42 506.47 L386.03 505.97 L386.64 505.55 L387.24 505.19 L387.85 504.88 L388.46 504.6 L389.06 504.36 L389.67 504.14 L390.28 503.95 L390.88 503.78 L391.49 503.63 L392.1 503.49 L392.7 503.37 L393.31 503.26 L393.92 503.16 L394.52 503.08 L395.13 503 L396.1 506.96 L396.71 509.98 L397.31 512.3 L397.92 514.11 L398.53 515.55 L399.13 516.71 L399.74 517.66 L400.34 518.45 L400.95 519.12 L401.56 519.7 L402.16 520.2 L402.77 520.63 L403.38 521.01 L403.98 521.35 L404.59 521.65 L405.2 521.92 L405.8 522.17 L406.41 522.39 L407.02 522.58 L407.62 522.76 L408.23 522.92 L408.84 523.07 L409.44 523.2 L409.81 523.22 L410.41 512.39 L411.02 506.08 L411.63 502.24 L412.23 499.77 L412.84 498.08 L413.45 496.85 L414.05 495.9 L414.66 495.13 L415.27 494.48 L415.87 493.93 L416.48 493.45 L417.09 493.02 L417.69 492.65 L418.3 492.32 L418.91 492.02 L419.51 491.76 L420.12 491.52 L420.73 491.31 L421.33 491.12 L421.94 490.96 L422.55 490.81 L423.15 490.67 L423.76 490.56 L424.37 490.45 L425.22 496.73 L425.82 501.5 L426.43 505.17 L427.03 508.03 L427.64 510.3 L428.25 512.14 L428.85 513.64 L429.46 514.89 L430.07 515.95 L430.67 516.86 L431.28 517.64 L431.89 518.33 L432.49 518.94 L433.1 519.47 L433.71 519.95 L434.31 520.38 L434.92 520.76 L435.53 521.11 L436.13 521.42 L436.74 521.7 L437.35 521.95 L437.95 522.18 L438.56 522.39 L439.17 522.58" fill="none" stroke="#f08c22" stroke-width="1.0" stroke-linejoin="round"/>
<rect x="306.6" y="406.6" width="49" height="56" fill="#fff" stroke="#999" stroke-width="0.9" />
<line x1="306.6" y1="417" x2="308.6" y2="417" stroke="#999" stroke-width="0.7" />
<line x1="306.6" y1="431" x2="308.6" y2="431" stroke="#999" stroke-width="0.7" />
<line x1="306.6" y1="445" x2="308.6" y2="445" stroke="#999" stroke-width="0.7" />
<line x1="306.6" y1="459" x2="308.6" y2="459" stroke="#999" stroke-width="0.7" />
<line x1="313" y1="462.6" x2="313" y2="460.6" stroke="#999" stroke-width="0.7" />
<line x1="323" y1="462.6" x2="323" y2="460.6" stroke="#999" stroke-width="0.7" />
<line x1="333" y1="462.6" x2="333" y2="460.6" stroke="#999" stroke-width="0.7" />
<line x1="343" y1="462.6" x2="343" y2="460.6" stroke="#999" stroke-width="0.7" />
<line x1="353" y1="462.6" x2="353" y2="460.6" stroke="#999" stroke-width="0.7" />
<text font-size="10" fill="#222" transform="translate(299.6 428.6) rotate(-90)" text-anchor="middle">ADC</text>
<text x="331" y="420.8" font-size="9.5" fill="#222" textLength="18.4" lengthAdjust="spacingAndGlyphs">1.0%</text>
<text x="331" y="471" font-size="10" font-style="italic" fill="#222">t</text>
<path d="M312 449.8 L313.5 450.8 L314 450.8 L314.41 443.34 L314.82 438.56 L315.23 435.39 L315.64 433.19 L316.05 431.6 L316.46 430.41 L316.87 429.48 L317.28 428.74 L317.69 428.14 L318.1 427.64 L318.51 427.22 L318.92 426.87 L319.33 426.57 L319.74 426.31 L320.15 426.1 L320.56 425.91 L320.97 425.75 L321.38 425.62 L321.79 425.5 L322.21 425.4 L322.62 425.31 L323.03 425.24 L323.44 425.18 L323.85 425.12 L324.26 425.08 L324.67 425.04 L325.08 425 L325.49 424.98 L325.9 424.95 L326.31 424.93 L326.72 424.91 L327.13 424.89 L327.54 424.88 L327.95 424.87 L328.36 424.86 L328.77 424.85 L329.18 424.84 L329.59 424.84 L330 424.83 L330.5 424.8 L330.99 428.45 L331.47 431.44 L331.96 433.91 L332.45 435.96 L332.94 437.67 L333.42 439.11 L333.91 440.33 L334.4 441.36 L334.88 442.25 L335.37 443.02 L335.86 443.69 L336.35 444.27 L336.83 444.79 L337.32 445.26 L337.81 445.67 L338.29 446.04 L338.78 446.38 L339.27 446.69 L339.76 446.98 L340.24 447.24 L340.73 447.48 L341.22 447.7 L341.71 447.91 L342.19 448.1 L342.68 448.28 L343.17 448.45 L343.65 448.61 L344.14 448.76 L344.63 448.9 L345.12 449.03 L345.6 449.15 L346.09 449.26 L346.58 449.37 L347.06 449.48 L347.55 449.57 L348.04 449.67 L348.53 449.75 L349.01 449.83 L349.5 449.91" fill="none" stroke="#f59a30" stroke-width="1.1" stroke-linejoin="round"/>
<path d="M312 449.3 L313.5 450.3 L314 450.3 L314.41 442.84 L314.82 438.06 L315.23 434.89 L315.64 432.69 L316.05 431.1 L316.46 429.91 L316.87 428.98 L317.28 428.24 L317.69 427.64 L318.1 427.14 L318.51 426.72 L318.92 426.37 L319.33 426.07 L319.74 425.81 L320.15 425.6 L320.56 425.41 L320.97 425.25 L321.38 425.12 L321.79 425 L322.21 424.9 L322.62 424.81 L323.03 424.74 L323.44 424.68 L323.85 424.62 L324.26 424.58 L324.67 424.54 L325.08 424.5 L325.49 424.48 L325.9 424.45 L326.31 424.43 L326.72 424.41 L327.13 424.39 L327.54 424.38 L327.95 424.37 L328.36 424.36 L328.77 424.35 L329.18 424.34 L329.59 424.34 L330 424.33 L330.5 424.3 L330.99 427.95 L331.47 430.94 L331.96 433.41 L332.45 435.46 L332.94 437.17 L333.42 438.61 L333.91 439.83 L334.4 440.86 L334.88 441.75 L335.37 442.52 L335.86 443.19 L336.35 443.77 L336.83 444.29 L337.32 444.76 L337.81 445.17 L338.29 445.54 L338.78 445.88 L339.27 446.19 L339.76 446.48 L340.24 446.74 L340.73 446.98 L341.22 447.2 L341.71 447.41 L342.19 447.6 L342.68 447.78 L343.17 447.95 L343.65 448.11 L344.14 448.26 L344.63 448.4 L345.12 448.53 L345.6 448.65 L346.09 448.76 L346.58 448.87 L347.06 448.98 L347.55 449.07 L348.04 449.17 L348.53 449.25 L349.01 449.33 L349.5 449.41" fill="none" stroke="#ee3333" stroke-width="1.1" stroke-linejoin="round"/>
<path d="M312 449 L313.5 450 L314 450 L314.41 442.54 L314.82 437.76 L315.23 434.59 L315.64 432.39 L316.05 430.8 L316.46 429.61 L316.87 428.68 L317.28 427.94 L317.69 427.34 L318.1 426.84 L318.51 426.42 L318.92 426.07 L319.33 425.77 L319.74 425.51 L320.15 425.3 L320.56 425.11 L320.97 424.95 L321.38 424.82 L321.79 424.7 L322.21 424.6 L322.62 424.51 L323.03 424.44 L323.44 424.38 L323.85 424.32 L324.26 424.28 L324.67 424.24 L325.08 424.2 L325.49 424.18 L325.9 424.15 L326.31 424.13 L326.72 424.11 L327.13 424.09 L327.54 424.08 L327.95 424.07 L328.36 424.06 L328.77 424.05 L329.18 424.04 L329.59 424.04 L330 424.03 L330.5 424 L330.99 427.65 L331.47 430.64 L331.96 433.11 L332.45 435.16 L332.94 436.87 L333.42 438.31 L333.91 439.53 L334.4 440.56 L334.88 441.45 L335.37 442.22 L335.86 442.89 L336.35 443.47 L336.83 443.99 L337.32 444.46 L337.81 444.87 L338.29 445.24 L338.78 445.58 L339.27 445.89 L339.76 446.18 L340.24 446.44 L340.73 446.68 L341.22 446.9 L341.71 447.11 L342.19 447.3 L342.68 447.48 L343.17 447.65 L343.65 447.81 L344.14 447.96 L344.63 448.1 L345.12 448.23 L345.6 448.35 L346.09 448.46 L346.58 448.57 L347.06 448.68 L347.55 448.77 L348.04 448.87 L348.53 448.95 L349.01 449.03 L349.5 449.11" fill="none" stroke="#5aa0d8" stroke-width="1.1" stroke-linejoin="round"/>
<path d="M312 448.7 L313.5 449.7 L314 449.7 L314.41 442.24 L314.82 437.46 L315.23 434.29 L315.64 432.09 L316.05 430.5 L316.46 429.31 L316.87 428.38 L317.28 427.64 L317.69 427.04 L318.1 426.54 L318.51 426.12 L318.92 425.77 L319.33 425.47 L319.74 425.21 L320.15 425 L320.56 424.81 L320.97 424.65 L321.38 424.52 L321.79 424.4 L322.21 424.3 L322.62 424.21 L323.03 424.14 L323.44 424.08 L323.85 424.02 L324.26 423.98 L324.67 423.94 L325.08 423.9 L325.49 423.88 L325.9 423.85 L326.31 423.83 L326.72 423.81 L327.13 423.79 L327.54 423.78 L327.95 423.77 L328.36 423.76 L328.77 423.75 L329.18 423.74 L329.59 423.74 L330 423.73 L330.5 423.7 L330.99 427.35 L331.47 430.34 L331.96 432.81 L332.45 434.86 L332.94 436.57 L333.42 438.01 L333.91 439.23 L334.4 440.26 L334.88 441.15 L335.37 441.92 L335.86 442.59 L336.35 443.17 L336.83 443.69 L337.32 444.16 L337.81 444.57 L338.29 444.94 L338.78 445.28 L339.27 445.59 L339.76 445.88 L340.24 446.14 L340.73 446.38 L341.22 446.6 L341.71 446.81 L342.19 447 L342.68 447.18 L343.17 447.35 L343.65 447.51 L344.14 447.66 L344.63 447.8 L345.12 447.93 L345.6 448.05 L346.09 448.16 L346.58 448.27 L347.06 448.38 L347.55 448.47 L348.04 448.57 L348.53 448.65 L349.01 448.73 L349.5 448.81" fill="none" stroke="#2db84a" stroke-width="1.1" stroke-linejoin="round"/>
<path d="M312 448.8 L313.5 449.8 L314 449.8 L314.41 442.34 L314.82 437.56 L315.23 434.39 L315.64 432.19 L316.05 430.6 L316.46 429.41 L316.87 428.48 L317.28 427.74 L317.69 427.14 L318.1 426.64 L318.51 426.22 L318.92 425.87 L319.33 425.57 L319.74 425.31 L320.15 425.1 L320.56 424.91 L320.97 424.75 L321.38 424.62 L321.79 424.5 L322.21 424.4 L322.62 424.31 L323.03 424.24 L323.44 424.18 L323.85 424.12 L324.26 424.08 L324.67 424.04 L325.08 424 L325.49 423.98 L325.9 423.95 L326.31 423.93 L326.72 423.91 L327.13 423.89 L327.54 423.88 L327.95 423.87 L328.36 423.86 L328.77 423.85 L329.18 423.84 L329.59 423.84 L330 423.83 L330.5 423.8 L330.99 427.45 L331.47 430.44 L331.96 432.91 L332.45 434.96 L332.94 436.67 L333.42 438.11 L333.91 439.33 L334.4 440.36 L334.88 441.25 L335.37 442.02 L335.86 442.69 L336.35 443.27 L336.83 443.79 L337.32 444.26 L337.81 444.67 L338.29 445.04 L338.78 445.38 L339.27 445.69 L339.76 445.98 L340.24 446.24 L340.73 446.48 L341.22 446.7 L341.71 446.91 L342.19 447.1 L342.68 447.28 L343.17 447.45 L343.65 447.61 L344.14 447.76 L344.63 447.9 L345.12 448.03 L345.6 448.15 L346.09 448.26 L346.58 448.37 L347.06 448.48 L347.55 448.57 L348.04 448.67 L348.53 448.75 L349.01 448.83 L349.5 448.91" fill="none" stroke="#2a9a9a" stroke-width="1.1" stroke-linejoin="round"/>
<text x="504" y="386" font-size="14" font-weight="bold">j</text>
<rect x="544" y="393.6" width="135" height="74" fill="#fff" stroke="#7a7a7a" stroke-width="1" />
<rect x="543.6" y="470.4" width="135" height="74.6" fill="#fff" stroke="#7a7a7a" stroke-width="1" />
<line x1="541.4" y1="467.1" x2="544" y2="467.1" stroke="#7a7a7a" stroke-width="0.8" />
<text x="541.2" y="470.3" font-size="9" text-anchor="end" fill="#222">50</text>
<line x1="541.4" y1="452.4" x2="544" y2="452.4" stroke="#7a7a7a" stroke-width="0.8" />
<text x="541.2" y="455.6" font-size="9" text-anchor="end" fill="#222">100</text>
<line x1="541.4" y1="437.7" x2="544" y2="437.7" stroke="#7a7a7a" stroke-width="0.8" />
<text x="541.2" y="440.9" font-size="9" text-anchor="end" fill="#222">150</text>
<line x1="541.4" y1="423" x2="544" y2="423" stroke="#7a7a7a" stroke-width="0.8" />
<text x="541.2" y="426.2" font-size="9" text-anchor="end" fill="#222">200</text>
<line x1="541.4" y1="408.3" x2="544" y2="408.3" stroke="#7a7a7a" stroke-width="0.8" />
<text x="541.2" y="411.5" font-size="9" text-anchor="end" fill="#222">250</text>
<line x1="541.4" y1="393.6" x2="544" y2="393.6" stroke="#7a7a7a" stroke-width="0.8" />
<text x="541.2" y="396.8" font-size="9" text-anchor="end" fill="#222">300</text>
<line x1="541" y1="539.4" x2="543.6" y2="539.4" stroke="#7a7a7a" stroke-width="0.8" />
<text x="540.8" y="542.6" font-size="9" text-anchor="end" fill="#222">80</text>
<line x1="542.2" y1="527.4" x2="543.6" y2="527.4" stroke="#7a7a7a" stroke-width="0.8" />
<line x1="541" y1="515.4" x2="543.6" y2="515.4" stroke="#7a7a7a" stroke-width="0.8" />
<text x="540.8" y="518.6" font-size="9" text-anchor="end" fill="#222">90</text>
<line x1="542.2" y1="503.4" x2="543.6" y2="503.4" stroke="#7a7a7a" stroke-width="0.8" />
<line x1="541" y1="491.4" x2="543.6" y2="491.4" stroke="#7a7a7a" stroke-width="0.8" />
<text x="540.8" y="494.6" font-size="9" text-anchor="end" fill="#222">100</text>
<line x1="542.2" y1="479.4" x2="543.6" y2="479.4" stroke="#7a7a7a" stroke-width="0.8" />
<line x1="548.14" y1="545" x2="548.14" y2="546.8" stroke="#7a7a7a" stroke-width="0.8" />
<line x1="551.65" y1="545" x2="551.65" y2="546.8" stroke="#7a7a7a" stroke-width="0.8" />
<line x1="554.74" y1="545" x2="554.74" y2="546.8" stroke="#7a7a7a" stroke-width="0.8" />
<line x1="557.5" y1="545" x2="557.5" y2="548.2" stroke="#7a7a7a" stroke-width="0.8" />
<line x1="575.68" y1="545" x2="575.68" y2="546.8" stroke="#7a7a7a" stroke-width="0.8" />
<line x1="586.32" y1="545" x2="586.32" y2="546.8" stroke="#7a7a7a" stroke-width="0.8" />
<line x1="593.86" y1="545" x2="593.86" y2="546.8" stroke="#7a7a7a" stroke-width="0.8" />
<line x1="599.72" y1="545" x2="599.72" y2="546.8" stroke="#7a7a7a" stroke-width="0.8" />
<line x1="604.5" y1="545" x2="604.5" y2="546.8" stroke="#7a7a7a" stroke-width="0.8" />
<line x1="608.54" y1="545" x2="608.54" y2="546.8" stroke="#7a7a7a" stroke-width="0.8" />
<line x1="612.05" y1="545" x2="612.05" y2="546.8" stroke="#7a7a7a" stroke-width="0.8" />
<line x1="615.14" y1="545" x2="615.14" y2="546.8" stroke="#7a7a7a" stroke-width="0.8" />
<line x1="617.9" y1="545" x2="617.9" y2="548.2" stroke="#7a7a7a" stroke-width="0.8" />
<line x1="636.08" y1="545" x2="636.08" y2="546.8" stroke="#7a7a7a" stroke-width="0.8" />
<line x1="646.72" y1="545" x2="646.72" y2="546.8" stroke="#7a7a7a" stroke-width="0.8" />
<line x1="654.26" y1="545" x2="654.26" y2="546.8" stroke="#7a7a7a" stroke-width="0.8" />
<line x1="660.12" y1="545" x2="660.12" y2="546.8" stroke="#7a7a7a" stroke-width="0.8" />
<line x1="664.9" y1="545" x2="664.9" y2="546.8" stroke="#7a7a7a" stroke-width="0.8" />
<line x1="668.94" y1="545" x2="668.94" y2="546.8" stroke="#7a7a7a" stroke-width="0.8" />
<line x1="672.45" y1="545" x2="672.45" y2="546.8" stroke="#7a7a7a" stroke-width="0.8" />
<line x1="675.54" y1="545" x2="675.54" y2="546.8" stroke="#7a7a7a" stroke-width="0.8" />
<line x1="678.3" y1="545" x2="678.3" y2="548.2" stroke="#7a7a7a" stroke-width="0.8" />
<text x="557.5" y="555.8" font-size="9.5" text-anchor="middle" fill="#222">1</text>
<text x="617.9" y="555.8" font-size="9.5" text-anchor="middle" fill="#222">10</text>
<text x="678.3" y="555.8" font-size="9.5" text-anchor="middle" fill="#222">100</text>
<text x="617" y="573" font-size="10" text-anchor="middle" fill="#222">Days</text>
<text font-size="7.6" fill="#222" transform="translate(518.8 424.6) rotate(-90)" text-anchor="middle">Normalized τ<tspan font-size="5" dy="1.2">res</tspan><tspan dy="-1.2"> (%)</tspan></text>
<text font-size="7.6" fill="#222" transform="translate(518.8 507.8) rotate(-90)" text-anchor="middle">Normalized <tspan font-style="italic">ΔR</tspan>/R<tspan font-size="5" dy="1.2">0</tspan><tspan dy="-1.2"> (%)</tspan></text>
<line x1="544.5" y1="452.4" x2="678.5" y2="452.4" stroke="#1f9a1f" stroke-width="1.3" stroke-dasharray="3.2 1.6"/>
<line x1="544" y1="492" x2="678" y2="492" stroke="#1f9a1f" stroke-width="1.3" stroke-dasharray="3.2 1.6"/>
<text x="573.6" y="449" font-size="9.5" font-style="italic" fill="#2a9a2a" textLength="20.8" lengthAdjust="spacingAndGlyphs">Initial</text>
<text x="572.6" y="489" font-size="9.5" font-style="italic" fill="#2a9a2a" textLength="21" lengthAdjust="spacingAndGlyphs">Initial</text>
<line x1="557.5" y1="444.46" x2="557.5" y2="452.4" stroke="#111" stroke-width="1.2" />
<path d="M557.5 446.27 L561.6 453.67 L553.4 453.67 Z" fill="none" stroke="#111" stroke-width="1.6" stroke-linejoin="miter"/>
<circle cx="557.5" cy="444.46" r="1.7" fill="#58b4c8" stroke="#2d7f90" stroke-width="0.6" />
<circle cx="557.5" cy="452.4" r="1.7" fill="#58b4c8" stroke="#2d7f90" stroke-width="0.6" />
<line x1="608.54" y1="422.41" x2="608.54" y2="434.76" stroke="#111" stroke-width="1.2" />
<path d="M608.54 424.81 L612.64 432.21 L604.44 432.21 Z" fill="none" stroke="#111" stroke-width="1.6" stroke-linejoin="miter"/>
<circle cx="608.54" cy="422.41" r="1.7" fill="#58b4c8" stroke="#2d7f90" stroke-width="0.6" />
<circle cx="608.54" cy="434.76" r="1.7" fill="#58b4c8" stroke="#2d7f90" stroke-width="0.6" />
<line x1="624.78" y1="419.47" x2="624.78" y2="432.41" stroke="#111" stroke-width="1.2" />
<path d="M624.78 421.87 L628.88 429.27 L620.68 429.27 Z" fill="none" stroke="#111" stroke-width="1.6" stroke-linejoin="miter"/>
<circle cx="624.78" cy="419.47" r="1.7" fill="#58b4c8" stroke="#2d7f90" stroke-width="0.6" />
<circle cx="624.78" cy="432.41" r="1.7" fill="#58b4c8" stroke="#2d7f90" stroke-width="0.6" />
<line x1="665.33" y1="400.66" x2="665.33" y2="414.47" stroke="#111" stroke-width="1.2" />
<path d="M665.33 403.35 L669.43 410.75 L661.23 410.75 Z" fill="none" stroke="#111" stroke-width="1.6" stroke-linejoin="miter"/>
<circle cx="665.33" cy="400.66" r="1.7" fill="#58b4c8" stroke="#2d7f90" stroke-width="0.6" />
<circle cx="665.33" cy="414.47" r="1.7" fill="#58b4c8" stroke="#2d7f90" stroke-width="0.6" />
<line x1="668.94" y1="454.75" x2="668.94" y2="463.28" stroke="#111" stroke-width="1.2" />
<path d="M668.94 455.39 L673.04 462.79 L664.84 462.79 Z" fill="none" stroke="#ff1a1a" stroke-width="1.6" stroke-linejoin="miter"/>
<circle cx="668.94" cy="454.75" r="1.7" fill="#58b4c8" stroke="#2d7f90" stroke-width="0.6" />
<circle cx="668.94" cy="463.28" r="1.7" fill="#58b4c8" stroke="#2d7f90" stroke-width="0.6" />
<line x1="557.5" y1="490.2" x2="557.5" y2="498.12" stroke="#111" stroke-width="1.2" />
<rect x="554" y="491.02" width="7" height="7" fill="none" stroke="#111" stroke-width="1.6" />
<rect x="556.1" y="493.12" width="2.8" height="2.8" fill="#58b4c8" />
<circle cx="557.5" cy="490.2" r="1.7" fill="#58b4c8" stroke="#2d7f90" stroke-width="0.6" />
<circle cx="557.5" cy="498.12" r="1.7" fill="#58b4c8" stroke="#2d7f90" stroke-width="0.6" />
<line x1="608.54" y1="473.4" x2="608.54" y2="495.48" stroke="#111" stroke-width="1.2" />
<rect x="605.04" y="480.94" width="7" height="7" fill="none" stroke="#111" stroke-width="1.6" />
<rect x="607.14" y="483.04" width="2.8" height="2.8" fill="#58b4c8" />
<circle cx="608.54" cy="473.4" r="1.7" fill="#58b4c8" stroke="#2d7f90" stroke-width="0.6" />
<circle cx="608.54" cy="495.48" r="1.7" fill="#58b4c8" stroke="#2d7f90" stroke-width="0.6" />
<line x1="624.78" y1="477" x2="624.78" y2="502.68" stroke="#111" stroke-width="1.2" />
<rect x="621.28" y="486.46" width="7" height="7" fill="none" stroke="#111" stroke-width="1.6" />
<rect x="623.38" y="488.56" width="2.8" height="2.8" fill="#58b4c8" />
<circle cx="624.78" cy="477" r="1.7" fill="#58b4c8" stroke="#2d7f90" stroke-width="0.6" />
<circle cx="624.78" cy="502.68" r="1.7" fill="#58b4c8" stroke="#2d7f90" stroke-width="0.6" />
<line x1="665.33" y1="517.32" x2="665.33" y2="537" stroke="#111" stroke-width="1.2" />
<rect x="661.83" y="523.66" width="7" height="7" fill="none" stroke="#111" stroke-width="1.6" />
<rect x="663.93" y="525.76" width="2.8" height="2.8" fill="#58b4c8" />
<circle cx="665.33" cy="517.32" r="1.7" fill="#58b4c8" stroke="#2d7f90" stroke-width="0.6" />
<circle cx="665.33" cy="537" r="1.7" fill="#58b4c8" stroke="#2d7f90" stroke-width="0.6" />
<line x1="668.94" y1="481.8" x2="668.94" y2="496.2" stroke="#ff1a1a" stroke-width="1.2" />
<rect x="665.44" y="485.5" width="7" height="7" fill="none" stroke="#ff1a1a" stroke-width="1.6" />
<rect x="667.54" y="487.6" width="2.8" height="2.8" fill="#58b4c8" />
<circle cx="668.94" cy="481.8" r="1.7" fill="#58b4c8" stroke="#2d7f90" stroke-width="0.6" />
<circle cx="668.94" cy="496.2" r="1.7" fill="#58b4c8" stroke="#2d7f90" stroke-width="0.6" />
<text x="627" y="403.2" font-size="9" fill="#222" textLength="28.8" lengthAdjust="spacingAndGlyphs">61-days</text>
<text x="630" y="533" font-size="9" fill="#222" textLength="29" lengthAdjust="spacingAndGlyphs">61-days</text>
<path d="M664.8 417.4 L669.4 442.6" fill="none" stroke="#6a0000" stroke-width="3.4" />
<path d="M664.8 417.4 L669.4 442.6" fill="none" stroke="#ee0000" stroke-width="2.2" />
<path d="M665.6 442.2 L673 441.2 L670.2 447.8 Z" fill="#ee0000" stroke="#6a0000" stroke-width="0.6" />
<path d="M664.3 515.2 L667.4 502.8" fill="none" stroke="#6a0000" stroke-width="3.4" />
<path d="M664.3 515.2 L667.4 502.8" fill="none" stroke="#ee0000" stroke-width="2.2" />
<path d="M663.8 502.6 L671.6 504.4 L669.5 498.6 Z" fill="#ee0000" stroke="#6a0000" stroke-width="0.6" />
<text x="0" y="0" font-size="8" font-weight="bold" fill="#ff1a1a" transform="translate(655.4 417.6) rotate(81)" textLength="32.4" lengthAdjust="spacingAndGlyphs">Refreshing</text>
<text x="0" y="0" font-size="8" font-weight="bold" fill="#ff1a1a" transform="translate(657.6 526.5) rotate(-76)" textLength="32.6" lengthAdjust="spacingAndGlyphs">Refreshing</text>
</svg>
</body></html>
